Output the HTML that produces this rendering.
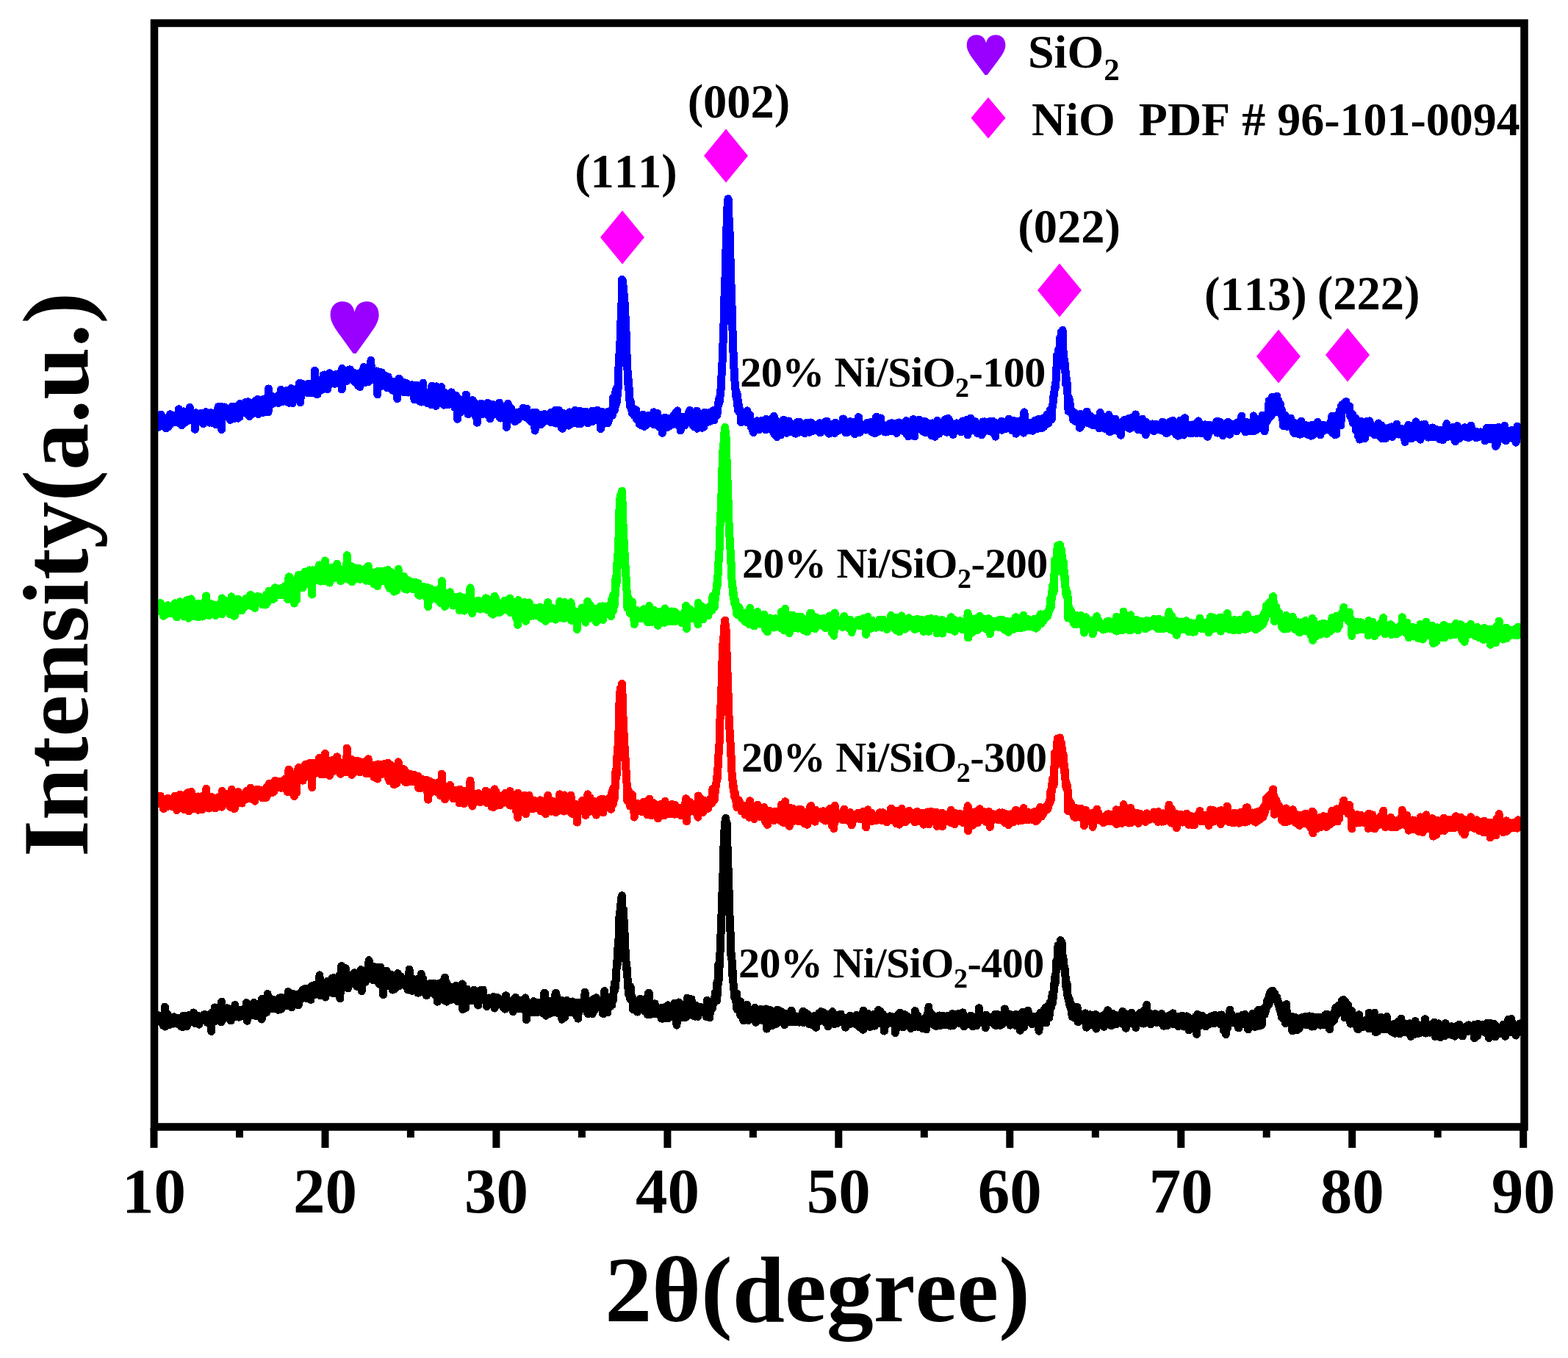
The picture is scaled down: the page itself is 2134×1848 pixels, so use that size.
<!DOCTYPE html>
<html><head><meta charset="utf-8"><title>XRD</title><style>html,body{margin:0;padding:0;background:#fff;}svg{display:block;} text{font-kerning:none;font-feature-settings:"kern" 0;}</style></head><body>
<svg width="2134" height="1848" viewBox="0 0 2134 1848" font-family="'Liberation Serif','Times New Roman',serif" font-weight="bold">
<rect width="2134" height="1848" fill="#fff"/>
<path d="M215.0 574.1l.466 7.2 .466 -11.4 .466 11.1 .466 -8.8 .466 1.0 .466 3.8 .466 -4.1 .466 0.9 .466 -9.6 .466 11.4 .466 -2.0 .466 -1.7 .466 4.1 .466 -4.4 .466 1.2 .466 -4.0 .466 3.5 .466 -2.3 .466 0.8 .466 4.2 .466 -4.1 .466 1.7 .466 10.4 .466 -2.2 .466 -6.4 .466 -1.7 .466 -2.2 .466 -1.8 .466 12.6 .466 -9.0 .466 -4.8 .466 5.5 .466 1.6 .466 -1.8 .466 4.9 .466 -14.0 .466 8.3 .466 -0.5 .466 -6.5 .466 7.7 .466 2.8 .466 -3.3 .466 -2.8 .466 5.7 .466 -3.7 .466 -0.0 .466 2.1 .466 -6.2 .466 7.1 .466 -1.8 .466 1.2 .466 -5.9 .466 6.0 .466 -6.1 .466 -2.8 .466 9.8 .466 0.1 .466 0.3 .466 -4.8 .466 -1.8 .466 -11.9 .466 14.9 .466 0.7 .466 1.7 .466 -5.6 .466 -0.9 .466 3.7 .466 2.0 .466 5.4 .466 -12.5 .466 3.8 .466 5.1 .466 -5.7 .466 1.2 .466 -10.6 .466 11.2 .466 4.5 .466 -2.5 .466 1.3 .466 -3.6 .466 -3.6 .466 4.7 .466 -5.3 .466 6.3 .466 -10.4 .466 10.2 .466 -7.1 .466 2.6 .466 -0.6 .466 3.0 .466 -5.0 .466 2.6 .466 -13.9 .466 12.5 .466 1.5 .466 -4.6 .466 6.1 .466 -2.0 .466 2.8 .466 -0.8 .466 -1.7 .466 4.8 .466 -3.4 .466 2.1 .466 -4.5 .466 1.6 .466 -3.5 .466 19.1 .466 -18.4 .466 0.1 .466 -4.2 .466 4.1 .466 4.6 .466 -0.8 .466 -6.2 .466 3.5 .466 0.3 .466 1.9 .466 -1.7 .466 0.9 .466 3.1 .466 -1.8 .466 -3.1 .466 0.6 .466 -0.7 .466 -4.0 .466 2.0 .466 1.0 .466 0.3 .466 -0.0 .466 2.0 .466 8.9 .466 -6.9 .466 0.2 .466 -0.5 .466 -1.7 .466 5.2 .466 -4.5 .466 -1.6 .466 -6.2 .466 6.1 .466 -2.9 .466 -1.6 .466 4.4 .466 2.7 .466 -4.6 .466 4.3 .466 -2.4 .466 -4.3 .466 12.8 .466 -9.6 .466 -1.0 .466 5.6 .466 -8.6 .466 6.6 .466 -5.4 .466 2.4 .466 -1.8 .466 6.4 .466 -4.7 .466 10.7 .466 -9.1 .466 0.7 .466 -1.6 .466 -1.8 .466 0.8 .466 7.8 .466 -10.2 .466 15.5 .466 -10.1 .466 -3.6 .466 2.1 .466 -2.1 .466 -0.0 .466 0.9 .466 -11.5 .466 11.3 .466 9.6 .466 -11.6 .466 4.1 .466 -2.7 .466 -2.6 .466 8.4 .466 -17.0 .466 9.6 .466 21.8 .466 -22.4 .466 6.1 .466 -3.3 .466 2.4 .466 -2.3 .466 -2.1 .466 3.5 .466 -12.5 .466 9.5 .466 -0.7 .466 0.7 .466 -4.5 .466 1.8 .466 3.1 .466 -1.3 .466 3.7 .466 -2.2 .466 3.4 .466 -2.3 .466 -1.4 .466 -2.7 .466 4.6 .466 -5.2 .466 -4.2 .466 15.2 .466 -8.6 .466 2.3 .466 -2.6 .466 0.6 .466 -10.1 .466 5.7 .466 4.8 .466 -1.0 .466 -4.6 .466 11.9 .466 -12.1 .466 4.0 .466 -4.4 .466 6.1 .466 -4.1 .466 -2.5 .466 -3.8 .466 4.5 .466 0.2 .466 3.5 .466 -0.7 .466 8.7 .466 -0.3 .466 -5.2 .466 -1.8 .466 2.5 .466 3.1 .466 -18.0 .466 5.6 .466 3.8 .466 -4.7 .466 6.4 .466 -3.1 .466 -0.1 .466 0.2 .466 -3.8 .466 7.8 .466 -1.1 .466 -0.5 .466 -10.3 .466 8.7 .466 2.1 .466 -5.8 .466 3.0 .466 -10.4 .466 4.8 .466 3.3 .466 2.2 .466 0.3 .466 5.2 .466 -6.8 .466 -9.5 .466 14.6 .466 -11.1 .466 1.3 .466 14.9 .466 -6.8 .466 -3.9 .466 -3.4 .466 3.6 .466 -0.6 .466 6.1 .466 -5.6 .466 -5.8 .466 13.0 .466 -5.9 .466 -6.2 .466 -0.3 .466 4.9 .466 -5.8 .466 6.9 .466 -0.3 .466 -10.8 .466 13.0 .466 -0.5 .466 3.1 .466 -5.0 .466 0.1 .466 -5.8 .466 -7.0 .466 3.4 .466 16.5 .466 -8.4 .466 6.6 .466 -9.4 .466 3.6 .466 -10.0 .466 3.2 .466 1.6 .466 2.3 .466 -0.1 .466 -0.6 .466 -0.8 .466 1.0 .466 9.0 .466 -10.3 .466 4.2 .466 -12.2 .466 6.8 .466 1.2 .466 0.3 .466 -3.7 .466 1.5 .466 8.7 .466 -7.1 .466 -0.8 .466 -8.3 .466 -1.0 .466 4.8 .466 -1.7 .466 17.0 .466 -31.8 .466 17.7 .466 -7.0 .466 8.9 .466 -10.2 .466 1.2 .466 0.4 .466 4.2 .466 2.7 .466 2.6 .466 -6.0 .466 -0.0 .466 5.8 .466 -1.6 .466 -7.9 .466 8.4 .466 0.3 .466 -8.1 .466 4.7 .466 -4.8 .466 0.6 .466 2.4 .466 0.0 .466 -0.5 .466 0.2 .466 -3.7 .466 6.0 .466 -5.5 .466 8.6 .466 -6.7 .466 -2.2 .466 -2.3 .466 3.7 .466 -1.2 .466 1.9 .466 -1.2 .466 -10.2 .466 13.9 .466 -13.0 .466 12.5 .466 -0.5 .466 3.3 .466 -5.9 .466 -6.1 .466 3.7 .466 -0.2 .466 1.5 .466 -2.4 .466 2.5 .466 -5.3 .466 1.9 .466 1.5 .466 -1.1 .466 -5.0 .466 15.6 .466 -8.6 .466 2.2 .466 -5.7 .466 9.7 .466 -4.9 .466 8.4 .466 -16.1 .466 3.2 .466 -0.9 .466 1.8 .466 -3.8 .466 -3.7 .466 5.9 .466 1.3 .466 -2.4 .466 15.2 .466 -15.3 .466 -1.3 .466 5.7 .466 -4.3 .466 -2.2 .466 0.1 .466 10.8 .466 1.2 .466 -8.9 .466 -3.8 .466 4.3 .466 -5.5 .466 1.4 .466 1.9 .466 -1.3 .466 -0.6 .466 12.9 .466 -16.1 .466 5.2 .466 -11.3 .466 3.3 .466 3.2 .466 19.5 .466 -14.0 .466 2.8 .466 -14.6 .466 10.9 .466 -2.5 .466 -0.3 .466 2.7 .466 -4.1 .466 1.9 .466 -2.8 .466 1.5 .466 1.1 .466 -5.0 .466 2.1 .466 1.5 .466 0.4 .466 3.7 .466 -2.4 .466 -0.9 .466 4.7 .466 -9.2 .466 -2.7 .466 5.2 .466 -4.3 .466 5.5 .466 0.1 .466 -6.1 .466 7.5 .466 -1.9 .466 -1.3 .466 7.8 .466 -2.3 .466 -8.4 .466 -1.3 .466 11.5 .466 -11.9 .466 7.4 .466 -4.9 .466 0.5 .466 1.7 .466 7.1 .466 -30.0 .466 17.6 .466 6.7 .466 -3.4 .466 -1.4 .466 12.7 .466 -13.2 .466 4.7 .466 8.3 .466 -7.7 .466 -1.0 .466 0.1 .466 1.3 .466 -6.4 .466 3.6 .466 2.4 .466 2.2 .466 0.6 .466 -0.2 .466 -13.5 .466 5.4 .466 0.6 .466 6.5 .466 -7.1 .466 -2.0 .466 -10.7 .466 10.8 .466 5.4 .466 -16.6 .466 8.5 .466 2.4 .466 2.0 .466 -1.7 .466 7.0 .466 -9.7 .466 3.9 .466 2.6 .466 4.5 .466 -2.6 .466 -11.3 .466 8.8 .466 -2.1 .466 -2.8 .466 -11.8 .466 7.5 .466 7.1 .466 -10.5 .466 5.2 .466 -1.2 .466 5.4 .466 -4.5 .466 -6.2 .466 5.8 .466 -0.8 .466 3.8 .466 -4.5 .466 3.7 .466 -2.0 .466 5.7 .466 -3.9 .466 -3.8 .466 0.5 .466 -0.4 .466 5.8 .466 -11.4 .466 4.5 .466 0.7 .466 -1.0 .466 1.3 .466 -1.2 .466 -1.0 .466 2.7 .466 -4.0 .466 2.7 .466 1.4 .466 -8.4 .466 3.8 .466 11.1 .466 2.0 .466 6.3 .466 -28.4 .466 15.0 .466 4.1 .466 -1.8 .466 -4.6 .466 -0.5 .466 0.5 .466 -1.8 .466 3.0 .466 -3.7 .466 -3.4 .466 -3.8 .466 14.3 .466 -4.2 .466 -7.5 .466 8.8 .466 -6.6 .466 3.5 .466 -2.8 .466 -2.2 .466 -0.9 .466 -3.9 .466 0.2 .466 -0.3 .466 1.1 .466 12.0 .466 -4.6 .466 -6.0 .466 6.0 .466 0.2 .466 -0.5 .466 -3.7 .466 3.1 .466 6.4 .466 -6.9 .466 1.1 .466 8.4 .466 -11.7 .466 5.8 .466 -2.7 .466 3.8 .466 -5.1 .466 1.8 .466 -1.7 .466 6.9 .466 2.0 .466 -6.3 .466 12.7 .466 -11.4 .466 2.0 .466 2.0 .466 -9.2 .466 18.1 .466 -16.6 .466 1.0 .466 -4.3 .466 8.8 .466 -6.1 .466 3.7 .466 -5.6 .466 2.1 .466 0.4 .466 -2.1 .466 -8.2 .466 14.7 .466 6.6 .466 -13.3 .466 -1.4 .466 3.3 .466 -6.1 .466 9.2 .466 -2.8 .466 1.9 .466 6.6 .466 -1.7 .466 2.5 .466 0.8 .466 -7.8 .466 -0.9 .466 -11.0 .466 4.3 .466 7.0 .466 5.1 .466 -5.9 .466 -20.3 .466 17.3 .466 6.8 .466 -8.0 .466 1.0 .466 1.6 .466 3.5 .466 3.7 .466 -8.2 .466 4.5 .466 -0.7 .466 -0.7 .466 1.2 .466 3.6 .466 -7.8 .466 3.6 .466 -6.9 .466 7.1 .466 3.6 .466 21.3 .466 -25.1 .466 -2.0 .466 3.0 .466 -1.9 .466 -4.8 .466 6.5 .466 3.8 .466 2.7 .466 7.0 .466 -14.4 .466 -1.5 .466 -3.3 .466 6.1 .466 4.8 .466 -7.0 .466 8.5 .466 -2.5 .466 -6.0 .466 5.4 .466 3.3 .466 4.4 .466 -12.9 .466 9.3 .466 -0.6 .466 -6.1 .466 1.1 .466 12.7 .466 -11.3 .466 -0.6 .466 5.0 .466 -7.7 .466 5.7 .466 -0.9 .466 2.0 .466 0.9 .466 0.7 .466 -1.6 .466 7.0 .466 -1.3 .466 4.0 .466 -8.5 .466 3.3 .466 -2.9 .466 -1.5 .466 4.2 .466 7.8 .466 -5.0 .466 -5.9 .466 -0.7 .466 6.6 .466 -0.8 .466 3.3 .466 -10.1 .466 10.4 .466 -5.6 .466 -1.7 .466 1.1 .466 19.3 .466 -7.6 .466 -16.9 .466 5.6 .466 4.3 .466 -12.9 .466 0.3 .466 1.0 .466 15.3 .466 -6.8 .466 -0.1 .466 5.6 .466 -5.2 .466 4.5 .466 -3.6 .466 -0.8 .466 1.3 .466 -3.2 .466 -3.1 .466 13.2 .466 0.0 .466 -5.5 .466 2.4 .466 3.4 .466 -6.0 .466 3.3 .466 0.8 .466 -10.1 .466 2.4 .466 8.1 .466 -0.5 .466 -6.0 .466 8.3 .466 -0.4 .466 -5.1 .466 0.2 .466 -4.3 .466 5.7 .466 -5.4 .466 6.5 .466 0.9 .466 -0.2 .466 -8.3 .466 8.9 .466 1.9 .466 -7.6 .466 5.9 .466 3.4 .466 -7.6 .466 10.8 .466 4.5 .466 -9.0 .466 3.4 .466 -7.6 .466 4.1 .466 6.1 .466 -16.8 .466 13.6 .466 -6.8 .466 6.7 .466 -2.1 .466 2.4 .466 -4.3 .466 0.6 .466 8.0 .466 -14.8 .466 3.2 .466 16.0 .466 -4.4 .466 -11.4 .466 16.3 .466 -13.7 .466 8.6 .466 0.6 .466 -18.0 .466 -3.3 .466 13.7 .466 9.5 .466 -4.2 .466 -4.2 .466 6.0 .466 -6.6 .466 0.6 .466 -2.1 .466 13.5 .466 -5.9 .466 -3.8 .466 -2.0 .466 12.9 .466 -11.0 .466 -2.3 .466 2.8 .466 3.0 .466 0.9 .466 -8.7 .466 14.5 .466 -6.7 .466 -9.5 .466 12.4 .466 6.8 .466 -6.6 .466 -19.1 .466 14.9 .466 1.0 .466 5.1 .466 -5.5 .466 -7.0 .466 14.8 .466 1.4 .466 -8.9 .466 -8.2 .466 12.9 .466 -1.7 .466 8.4 .466 -26.6 .466 15.5 .466 -1.5 .466 -3.5 .466 8.3 .466 -3.7 .466 -8.1 .466 4.8 .466 8.6 .466 -2.5 .466 -4.0 .466 5.2 .466 -6.8 .466 6.7 .466 -0.1 .466 -18.1 .466 17.1 .466 2.2 .466 0.6 .466 -0.6 .466 3.6 .466 -2.7 .466 4.4 .466 -7.5 .466 -9.3 .466 6.4 .466 1.8 .466 -7.1 .466 3.7 .466 5.9 .466 -2.5 .466 0.5 .466 4.7 .466 2.2 .466 0.3 .466 -5.8 .466 3.3 .466 2.6 .466 -8.9 .466 1.2 .466 4.8 .466 -3.6 .466 -1.1 .466 2.5 .466 -11.5 .466 12.4 .466 -8.1 .466 6.1 .466 -0.3 .466 1.6 .466 -3.4 .466 5.0 .466 2.0 .466 -3.1 .466 8.7 .466 -2.4 .466 -6.3 .466 -7.5 .466 12.3 .466 -5.4 .466 1.3 .466 2.2 .466 21.4 .466 -23.7 .466 1.7 .466 1.4 .466 0.7 .466 -4.7 .466 4.0 .466 -0.3 .466 1.1 .466 -6.6 .466 0.4 .466 16.1 .466 -7.1 .466 0.2 .466 3.6 .466 2.0 .466 -10.0 .466 3.5 .466 -1.3 .466 -0.6 .466 1.2 .466 -3.1 .466 6.4 .466 -5.3 .466 -3.6 .466 -9.3 .466 15.1 .466 -3.9 .466 11.7 .466 -12.1 .466 1.8 .466 14.2 .466 -12.2 .466 6.7 .466 -3.7 .466 -8.0 .466 2.2 .466 2.2 .466 6.2 .466 -6.5 .466 1.2 .466 0.3 .466 -1.3 .466 4.7 .466 -10.9 .466 5.2 .466 6.7 .466 -2.8 .466 -0.7 .466 -1.1 .466 -3.6 .466 4.5 .466 13.5 .466 -12.2 .466 -0.1 .466 13.5 .466 -8.6 .466 16.2 .466 -12.8 .466 -6.9 .466 -3.1 .466 2.9 .466 -2.3 .466 4.8 .466 -7.9 .466 4.4 .466 4.4 .466 -4.3 .466 1.2 .466 -6.4 .466 3.8 .466 10.6 .466 -7.1 .466 -2.3 .466 1.3 .466 2.8 .466 0.3 .466 0.8 .466 -5.6 .466 -0.6 .466 3.9 .466 -0.9 .466 0.4 .466 -3.4 .466 1.5 .466 4.1 .466 -3.5 .466 3.8 .466 -10.8 .466 16.6 .466 -11.2 .466 3.0 .466 6.7 .466 -8.7 .466 -0.3 .466 15.3 .466 -6.6 .466 -5.5 .466 -7.5 .466 8.3 .466 -3.2 .466 -0.4 .466 10.0 .466 -6.0 .466 -1.2 .466 -6.8 .466 6.3 .466 5.6 .466 -6.2 .466 0.3 .466 2.5 .466 -3.2 .466 2.9 .466 2.4 .466 -4.6 .466 1.8 .466 0.9 .466 -1.6 .466 -1.6 .466 -2.3 .466 5.7 .466 6.8 .466 -18.5 .466 16.0 .466 4.4 .466 -8.5 .466 9.2 .466 -7.6 .466 -1.4 .466 -0.5 .466 0.1 .466 1.8 .466 -4.1 .466 4.7 .466 -2.0 .466 1.6 .466 6.0 .466 -9.9 .466 1.9 .466 -1.2 .466 -5.6 .466 8.7 .466 0.2 .466 19.6 .466 -19.7 .466 -1.5 .466 6.4 .466 -17.4 .466 10.2 .466 4.2 .466 -6.2 .466 2.9 .466 5.2 .466 -5.3 .466 -1.1 .466 7.7 .466 -11.5 .466 10.8 .466 -5.8 .466 -1.4 .466 3.0 .466 0.0 .466 9.3 .466 -6.6 .466 -2.6 .466 0.8 .466 -1.9 .466 13.0 .466 -12.2 .466 5.9 .466 -3.7 .466 4.9 .466 -7.2 .466 0.7 .466 -0.4 .466 4.7 .466 4.5 .466 -4.4 .466 -3.8 .466 4.0 .466 -1.5 .466 -1.9 .466 -3.4 .466 0.9 .466 4.4 .466 -4.8 .466 3.6 .466 2.8 .466 -1.9 .466 -0.3 .466 -3.0 .466 -2.5 .466 -4.2 .466 1.1 .466 5.5 .466 3.0 .466 -0.9 .466 -2.4 .466 1.4 .466 1.5 .466 3.4 .466 -1.7 .466 -9.6 .466 8.3 .466 -3.1 .466 7.5 .466 0.8 .466 -4.5 .466 1.9 .466 -0.6 .466 1.9 .466 -5.3 .466 -0.5 .466 4.9 .466 6.1 .466 -10.9 .466 3.2 .466 -0.1 .466 -1.3 .466 3.4 .466 -6.7 .466 3.5 .466 0.5 .466 8.5 .466 -6.3 .466 0.3 .466 18.2 .466 -22.5 .466 3.4 .466 -5.8 .466 1.4 .466 5.5 .466 1.9 .466 -2.4 .466 -0.4 .466 2.3 .466 5.3 .466 -1.8 .466 -3.0 .466 -3.7 .466 3.1 .466 -5.0 .466 8.0 .466 -7.3 .466 12.7 .466 -12.4 .466 -0.4 .466 0.9 .466 1.3 .466 -2.9 .466 0.9 .466 7.0 .466 1.8 .466 -10.4 .466 3.5 .466 -0.1 .466 4.1 .466 -2.2 .466 -1.9 .466 3.6 .466 -2.1 .466 -3.6 .466 5.8 .466 -3.1 .466 5.2 .466 -3.5 .466 -5.3 .466 6.4 .466 -1.8 .466 -0.2 .466 -0.8 .466 1.9 .466 -8.1 .466 6.9 .466 6.7 .466 -9.6 .466 -1.3 .466 3.6 .466 0.8 .466 -1.0 .466 0.8 .466 1.6 .466 1.5 .466 -10.3 .466 6.6 .466 1.8 .466 -11.3 .466 17.9 .466 -6.4 .466 -1.1 .466 -0.3 .466 -3.6 .466 -2.6 .466 8.1 .466 4.8 .466 -3.3 .466 -13.2 .466 2.0 .466 8.5 .466 0.4 .466 0.3 .466 3.8 .466 0.6 .466 7.4 .466 -13.8 .466 1.1 .466 14.5 .466 -12.6 .466 -8.7 .466 12.7 .466 -4.7 .466 -4.0 .466 1.9 .466 1.8 .466 0.6 .466 -1.8 .466 2.9 .466 -2.0 .466 9.6 .466 -5.8 .466 -7.9 .466 -1.2 .466 9.2 .466 -3.2 .466 9.1 .466 -10.4 .466 -2.8 .466 -5.2 .466 11.0 .466 -8.3 .466 7.0 .466 -0.7 .466 1.7 .466 5.0 .466 -9.6 .466 2.4 .466 2.4 .466 -5.2 .466 -2.6 .466 1.3 .466 10.7 .466 -3.6 .466 -5.8 .466 -8.3 .466 12.3 .466 -2.5 .466 -1.1 .466 -0.4 .466 2.8 .466 -1.0 .466 8.1 .466 -6.4 .466 4.8 .466 0.9 .466 -0.9 .466 -5.3 .466 0.6 .466 -0.3 .466 -10.7 .466 17.8 .466 -11.2 .466 4.2 .466 1.2 .466 1.3 .466 -2.5 .466 0.8 .466 2.4 .466 -2.4 .466 0.2 .466 2.7 .466 -10.3 .466 6.4 .466 -9.7 .466 5.7 .466 -5.4 .466 13.6 .466 -5.7 .466 1.5 .466 2.7 .466 -1.2 .466 4.6 .466 -6.3 .466 1.8 .466 2.6 .466 -9.3 .466 4.8 .466 -5.5 .466 6.1 .466 -1.9 .466 5.2 .466 -3.9 .466 -3.5 .466 8.1 .466 -5.0 .466 -10.0 .466 8.5 .466 1.2 .466 -8.8 .466 5.4 .466 2.5 .466 0.4 .466 0.8 .466 -1.2 .466 0.2 .466 1.2 .466 -1.0 .466 3.4 .466 0.5 .466 -13.7 .466 7.2 .466 -1.5 .466 4.0 .466 0.0 .466 3.4 .466 -0.3 .466 2.7 .466 -3.3 .466 -0.9 .466 14.0 .466 -13.6 .466 -2.0 .466 -0.9 .466 -7.0 .466 15.7 .466 -4.9 .466 -3.3 .466 5.4 .466 -2.2 .466 -2.7 .466 8.1 .466 -3.0 .466 -5.6 .466 -0.2 .466 -3.5 .466 -1.4 .466 3.9 .466 -1.8 .466 -3.9 .466 8.5 .466 6.2 .466 -7.1 .466 3.9 .466 -1.4 .466 -3.5 .466 -1.3 .466 -1.5 .466 0.8 .466 -1.8 .466 -2.4 .466 3.1 .466 1.0 .466 -1.2 .466 1.1 .466 -4.2 .466 -19.8 .466 16.8 .466 0.2 .466 1.2 .466 -2.5 .466 0.8 .466 -5.9 .466 0.6 .466 -21.8 .466 18.5 .466 -0.1 .466 -4.1 .466 -4.0 .466 -14.4 .466 11.0 .466 -19.9 .466 -12.5 .466 -12.0 .466 -10.8 .466 0.1 .466 -11.0 .466 -8.9 .466 -14.0 .466 -13.4 .466 -17.0 .466 -2.3 .466 -35.3 .466 17.2 .466 -12.3 .466 -2.7 .466 13.8 .466 4.5 .466 -0.5 .466 1.6 .466 13.3 .466 9.5 .466 6.5 .466 15.2 .466 5.0 .466 35.5 .466 -6.5 .466 12.5 .466 7.4 .466 13.1 .466 6.7 .466 9.2 .466 -11.9 .466 16.6 .466 8.7 .466 3.6 .466 6.5 .466 -7.7 .466 7.9 .466 2.3 .466 2.5 .466 0.1 .466 4.6 .466 -6.5 .466 -0.9 .466 6.3 .466 -3.5 .466 5.6 .466 1.9 .466 -6.0 .466 6.1 .466 1.1 .466 0.4 .466 -9.4 .466 12.3 .466 -0.4 .466 -3.4 .466 1.8 .466 2.6 .466 1.7 .466 -5.7 .466 5.0 .466 -2.9 .466 8.5 .466 -3.0 .466 -5.5 .466 0.2 .466 1.1 .466 8.5 .466 -12.2 .466 4.5 .466 0.9 .466 0.9 .466 -8.3 .466 7.3 .466 -0.9 .466 -0.9 .466 10.5 .466 -14.0 .466 6.8 .466 -4.6 .466 10.3 .466 -7.2 .466 -0.3 .466 -1.9 .466 2.6 .466 4.0 .466 -10.4 .466 7.5 .466 -5.1 .466 1.5 .466 6.5 .466 -10.1 .466 8.3 .466 -8.9 .466 7.0 .466 0.9 .466 -4.8 .466 6.9 .466 -5.5 .466 2.5 .466 -2.2 .466 4.8 .466 -4.6 .466 0.2 .466 -9.8 .466 17.1 .466 -13.8 .466 7.2 .466 2.6 .466 -2.4 .466 2.0 .466 -1.6 .466 5.6 .466 -8.2 .466 -6.9 .466 5.4 .466 5.3 .466 0.6 .466 2.8 .466 4.2 .466 -8.3 .466 4.0 .466 -4.0 .466 -0.3 .466 -3.2 .466 8.5 .466 -5.5 .466 2.4 .466 -1.0 .466 16.0 .466 -18.2 .466 2.5 .466 2.4 .466 -5.8 .466 6.4 .466 -3.0 .466 -5.4 .466 13.8 .466 -9.3 .466 0.4 .466 2.9 .466 5.7 .466 -10.7 .466 -1.8 .466 6.3 .466 -0.8 .466 -1.7 .466 1.5 .466 5.8 .466 -3.3 .466 -3.2 .466 5.0 .466 0.1 .466 -3.0 .466 -7.1 .466 5.0 .466 0.4 .466 3.7 .466 -4.4 .466 0.7 .466 1.0 .466 -7.5 .466 -1.3 .466 -1.9 .466 4.0 .466 2.8 .466 -5.3 .466 8.1 .466 -0.2 .466 -0.8 .466 -12.5 .466 12.9 .466 -4.5 .466 -10.2 .466 17.5 .466 2.6 .466 -11.7 .466 7.4 .466 -8.3 .466 7.7 .466 0.3 .466 -0.3 .466 11.9 .466 -11.7 .466 -4.3 .466 9.9 .466 -8.1 .466 1.9 .466 -0.7 .466 3.5 .466 -8.8 .466 4.7 .466 0.6 .466 1.1 .466 4.7 .466 -7.0 .466 0.4 .466 2.5 .466 -4.1 .466 2.8 .466 -1.5 .466 2.3 .466 -0.3 .466 0.9 .466 -2.0 .466 -1.9 .466 -8.9 .466 12.0 .466 -3.3 .466 -12.3 .466 13.9 .466 -1.0 .466 3.3 .466 -3.1 .466 0.6 .466 2.9 .466 -0.5 .466 -5.1 .466 4.3 .466 5.7 .466 -0.9 .466 -1.7 .466 -5.7 .466 9.9 .466 -11.0 .466 2.2 .466 -4.1 .466 5.1 .466 1.4 .466 -0.4 .466 -15.1 .466 24.3 .466 -12.3 .466 3.6 .466 4.0 .466 -3.6 .466 -2.5 .466 0.0 .466 -4.3 .466 3.1 .466 4.1 .466 -1.9 .466 -0.2 .466 0.1 .466 -2.7 .466 11.5 .466 -11.8 .466 -1.9 .466 4.4 .466 -4.9 .466 13.1 .466 -9.3 .466 -5.2 .466 -5.4 .466 10.5 .466 -8.8 .466 0.6 .466 6.5 .466 0.1 .466 3.7 .466 -8.0 .466 8.6 .466 -5.2 .466 4.5 .466 -8.0 .466 -4.0 .466 7.0 .466 -2.5 .466 2.4 .466 3.3 .466 1.2 .466 -10.9 .466 3.3 .466 0.3 .466 -2.2 .466 2.9 .466 -7.6 .466 4.0 .466 -4.1 .466 6.0 .466 7.0 .466 -11.7 .466 8.5 .466 -7.2 .466 3.2 .466 0.9 .466 -3.9 .466 0.3 .466 -2.0 .466 4.7 .466 -5.3 .466 -5.0 .466 -3.0 .466 -4.2 .466 2.0 .466 -5.7 .466 -3.0 .466 4.8 .466 -7.7 .466 -6.5 .466 -1.2 .466 -10.9 .466 -8.6 .466 -5.2 .466 -10.2 .466 -15.6 .466 -9.5 .466 -9.9 .466 -18.1 .466 -2.2 .466 -35.6 .466 2.0 .466 -8.1 .466 -30.9 .466 -22.1 .466 -7.5 .466 -20.2 .466 -10.1 .466 -15.7 .466 -9.9 .466 10.5 .466 -21.5 .466 1.3 .466 20.4 .466 9.2 .466 5.9 .466 15.0 .466 19.2 .466 15.2 .466 17.6 .466 14.5 .466 32.6 .466 -5.1 .466 22.4 .466 8.7 .466 15.5 .466 11.7 .466 18.4 .466 5.9 .466 6.4 .466 10.0 .466 6.4 .466 6.8 .466 2.0 .466 6.4 .466 4.8 .466 -2.9 .466 -3.4 .466 16.3 .466 -1.7 .466 8.3 .466 -12.1 .466 9.1 .466 5.1 .466 -4.5 .466 5.0 .466 -0.2 .466 0.4 .466 0.3 .466 13.5 .466 -11.1 .466 -2.7 .466 11.2 .466 -9.2 .466 6.4 .466 -0.4 .466 1.1 .466 1.1 .466 -5.6 .466 -4.8 .466 8.4 .466 0.4 .466 -1.8 .466 5.9 .466 -7.8 .466 5.2 .466 0.4 .466 -12.7 .466 16.1 .466 -3.9 .466 1.0 .466 -3.2 .466 3.1 .466 0.6 .466 1.2 .466 -8.9 .466 8.1 .466 0.5 .466 7.7 .466 -6.6 .466 0.9 .466 -1.7 .466 0.5 .466 10.8 .466 -11.1 .466 14.6 .466 -13.0 .466 5.0 .466 -5.0 .466 2.8 .466 0.2 .466 -4.0 .466 -0.4 .466 8.0 .466 -7.8 .466 4.0 .466 -5.7 .466 3.2 .466 -0.7 .466 -0.9 .466 -0.4 .466 10.8 .466 -7.0 .466 -1.4 .466 0.8 .466 3.2 .466 -2.2 .466 -5.5 .466 1.6 .466 7.5 .466 -4.3 .466 0.3 .466 -4.0 .466 -0.5 .466 1.5 .466 1.4 .466 1.7 .466 -1.2 .466 2.3 .466 -1.7 .466 0.6 .466 7.2 .466 -14.8 .466 8.7 .466 1.0 .466 -5.1 .466 7.2 .466 -8.2 .466 7.3 .466 -5.8 .466 2.5 .466 -0.2 .466 1.3 .466 0.5 .466 -8.6 .466 10.8 .466 -2.8 .466 5.4 .466 -8.8 .466 3.0 .466 7.8 .466 -6.4 .466 -0.9 .466 -0.2 .466 5.7 .466 -18.2 .466 25.0 .466 -12.3 .466 3.4 .466 -3.2 .466 3.4 .466 -8.2 .466 4.5 .466 3.0 .466 12.7 .466 -15.0 .466 -5.8 .466 7.9 .466 -0.9 .466 -4.8 .466 1.1 .466 2.7 .466 -3.3 .466 8.8 .466 6.8 .466 -10.0 .466 1.5 .466 -4.8 .466 -3.4 .466 6.6 .466 0.8 .466 -1.1 .466 -4.6 .466 -5.8 .466 9.3 .466 -3.9 .466 2.0 .466 1.5 .466 -1.9 .466 8.3 .466 -7.5 .466 1.8 .466 8.5 .466 -7.6 .466 -2.0 .466 3.0 .466 -5.0 .466 -1.9 .466 -2.9 .466 9.0 .466 -0.1 .466 0.2 .466 0.0 .466 -0.7 .466 6.0 .466 -6.7 .466 -4.0 .466 2.2 .466 1.5 .466 1.4 .466 -1.8 .466 0.6 .466 -1.1 .466 3.4 .466 1.8 .466 -4.7 .466 4.0 .466 -5.6 .466 11.9 .466 -10.1 .466 2.2 .466 -0.4 .466 -6.2 .466 6.1 .466 -7.7 .466 7.1 .466 0.3 .466 6.9 .466 -10.1 .466 -4.0 .466 7.9 .466 -2.3 .466 1.8 .466 -2.3 .466 3.4 .466 -5.6 .466 4.3 .466 2.3 .466 2.3 .466 -5.9 .466 1.6 .466 6.8 .466 -11.0 .466 7.1 .466 -1.3 .466 6.2 .466 -8.1 .466 -0.3 .466 0.6 .466 -1.2 .466 -5.5 .466 6.9 .466 -1.2 .466 0.8 .466 1.5 .466 -2.2 .466 -2.7 .466 6.6 .466 3.4 .466 -8.9 .466 3.0 .466 -1.6 .466 2.4 .466 -8.2 .466 12.2 .466 -1.8 .466 -7.6 .466 4.9 .466 -2.2 .466 -1.4 .466 6.2 .466 -1.5 .466 -1.6 .466 0.3 .466 3.3 .466 -5.2 .466 1.1 .466 -2.3 .466 2.0 .466 -2.9 .466 2.1 .466 2.2 .466 -2.8 .466 2.8 .466 1.7 .466 -1.9 .466 -1.0 .466 -0.6 .466 -5.1 .466 8.1 .466 5.0 .466 -9.4 .466 3.7 .466 -0.8 .466 2.2 .466 -1.6 .466 -4.2 .466 -1.1 .466 2.8 .466 -1.8 .466 3.7 .466 -6.0 .466 6.6 .466 1.2 .466 -10.0 .466 12.0 .466 -1.4 .466 -10.5 .466 7.7 .466 -9.0 .466 8.5 .466 -5.3 .466 6.0 .466 -6.1 .466 0.4 .466 13.7 .466 -5.6 .466 -1.6 .466 1.3 .466 -5.2 .466 -2.1 .466 3.4 .466 3.5 .466 -0.1 .466 -0.4 .466 -2.2 .466 0.6 .466 1.9 .466 -1.4 .466 -3.1 .466 2.3 .466 6.3 .466 1.6 .466 -13.3 .466 1.3 .466 -2.2 .466 6.5 .466 4.8 .466 -4.7 .466 -1.3 .466 5.5 .466 -6.5 .466 2.5 .466 4.1 .466 -0.3 .466 -8.1 .466 2.5 .466 0.9 .466 3.0 .466 -1.0 .466 -1.2 .466 -1.0 .466 -0.9 .466 2.3 .466 2.2 .466 -3.9 .466 -0.6 .466 -10.1 .466 7.3 .466 0.5 .466 3.6 .466 2.8 .466 -3.0 .466 -3.1 .466 0.4 .466 10.4 .466 -6.3 .466 -2.4 .466 5.1 .466 3.3 .466 -6.5 .466 -0.6 .466 -0.5 .466 -0.1 .466 4.8 .466 -2.2 .466 3.5 .466 -13.4 .466 4.2 .466 4.2 .466 0.4 .466 -1.0 .466 0.5 .466 4.8 .466 -4.5 .466 -2.3 .466 1.9 .466 -1.6 .466 2.5 .466 -0.3 .466 1.0 .466 7.3 .466 -8.9 .466 -7.8 .466 7.8 .466 0.1 .466 2.5 .466 3.2 .466 -9.2 .466 7.9 .466 -7.7 .466 3.8 .466 -14.7 .466 17.6 .466 -4.1 .466 -1.9 .466 9.2 .466 -12.0 .466 4.2 .466 0.9 .466 -1.7 .466 0.9 .466 4.5 .466 -6.3 .466 3.2 .466 -3.0 .466 3.4 .466 -2.9 .466 0.7 .466 1.6 .466 -2.3 .466 3.9 .466 -4.2 .466 5.8 .466 -1.9 .466 -5.6 .466 4.2 .466 -6.2 .466 2.9 .466 1.8 .466 3.0 .466 -0.8 .466 -0.6 .466 -3.3 .466 1.5 .466 3.0 .466 -1.5 .466 -1.2 .466 -4.7 .466 -1.2 .466 12.9 .466 -6.3 .466 5.2 .466 -6.8 .466 2.8 .466 -2.7 .466 6.4 .466 -6.8 .466 2.8 .466 7.8 .466 -6.3 .466 -1.5 .466 -1.3 .466 1.1 .466 -14.7 .466 10.5 .466 2.3 .466 -5.4 .466 4.9 .466 1.7 .466 4.3 .466 1.7 .466 -15.0 .466 9.3 .466 1.6 .466 0.8 .466 -5.6 .466 -9.3 .466 10.6 .466 0.7 .466 -1.5 .466 0.5 .466 3.6 .466 -3.6 .466 -0.5 .466 1.1 .466 1.5 .466 -2.5 .466 2.8 .466 6.3 .466 -3.2 .466 -1.0 .466 4.4 .466 -0.9 .466 -5.2 .466 1.1 .466 -2.5 .466 1.3 .466 5.3 .466 -5.5 .466 -0.6 .466 1.6 .466 -1.3 .466 -4.8 .466 4.2 .466 -3.1 .466 9.2 .466 -3.3 .466 -2.4 .466 -5.5 .466 1.4 .466 2.5 .466 2.1 .466 -4.8 .466 3.7 .466 -2.1 .466 -1.6 .466 0.4 .466 -0.0 .466 7.5 .466 -6.3 .466 -1.5 .466 7.8 .466 4.5 .466 -5.8 .466 -7.7 .466 1.8 .466 0.2 .466 -1.2 .466 4.8 .466 -6.4 .466 9.2 .466 -3.2 .466 -2.3 .466 -2.2 .466 5.5 .466 2.0 .466 -1.9 .466 -2.8 .466 5.0 .466 -2.7 .466 0.5 .466 4.5 .466 -3.8 .466 -5.7 .466 5.9 .466 -3.1 .466 4.2 .466 -2.2 .466 -0.1 .466 -4.1 .466 -5.0 .466 17.8 .466 -17.4 .466 1.6 .466 6.5 .466 6.6 .466 -6.0 .466 12.2 .466 -10.8 .466 1.4 .466 -0.0 .466 3.4 .466 1.9 .466 -9.7 .466 2.9 .466 -1.6 .466 9.5 .466 -8.9 .466 -1.3 .466 -7.5 .466 10.0 .466 -12.9 .466 12.1 .466 -3.0 .466 3.3 .466 11.1 .466 -13.5 .466 1.4 .466 0.0 .466 -3.7 .466 5.3 .466 -0.4 .466 0.8 .466 -4.8 .466 -3.6 .466 5.3 .466 -3.6 .466 2.5 .466 -8.4 .466 9.6 .466 -0.4 .466 -0.3 .466 0.5 .466 -6.8 .466 7.2 .466 1.5 .466 -2.4 .466 1.7 .466 2.4 .466 -2.6 .466 5.6 .466 -3.5 .466 -1.9 .466 -5.8 .466 5.2 .466 -7.9 .466 15.4 .466 -14.5 .466 4.5 .466 -0.4 .466 6.9 .466 1.3 .466 -3.3 .466 1.9 .466 -5.7 .466 6.7 .466 -9.6 .466 3.4 .466 5.3 .466 -2.4 .466 4.6 .466 -2.5 .466 -6.2 .466 2.1 .466 12.0 .466 -9.9 .466 1.1 .466 -8.1 .466 12.6 .466 -6.9 .466 -3.8 .466 4.0 .466 4.9 .466 -5.1 .466 12.6 .466 -7.1 .466 -5.8 .466 8.2 .466 -5.9 .466 -4.3 .466 -2.9 .466 -3.9 .466 8.9 .466 2.0 .466 -6.2 .466 1.3 .466 11.7 .466 -6.1 .466 -4.2 .466 7.9 .466 -6.7 .466 -1.9 .466 0.9 .466 -0.7 .466 3.3 .466 -2.3 .466 1.3 .466 0.4 .466 -0.8 .466 -0.4 .466 -0.7 .466 -1.3 .466 -2.7 .466 6.5 .466 -11.9 .466 12.3 .466 0.2 .466 0.8 .466 -1.9 .466 6.1 .466 -7.9 .466 0.5 .466 -1.4 .466 -10.1 .466 11.4 .466 0.4 .466 -0.3 .466 -7.7 .466 4.5 .466 1.6 .466 1.2 .466 -2.0 .466 1.7 .466 -0.7 .466 -3.0 .466 8.9 .466 -3.5 .466 9.5 .466 -9.6 .466 0.1 .466 -1.7 .466 3.8 .466 -3.1 .466 3.4 .466 -3.4 .466 2.2 .466 -0.8 .466 -1.9 .466 -4.5 .466 2.9 .466 1.9 .466 0.2 .466 -2.4 .466 0.6 .466 0.7 .466 1.6 .466 -5.5 .466 4.5 .466 2.0 .466 2.0 .466 -3.3 .466 6.9 .466 -5.0 .466 0.7 .466 -6.6 .466 4.0 .466 -8.1 .466 9.3 .466 -2.6 .466 5.6 .466 -8.4 .466 -1.7 .466 5.1 .466 -2.8 .466 3.8 .466 -0.7 .466 -8.9 .466 7.1 .466 -1.4 .466 0.4 .466 14.1 .466 -10.4 .466 1.9 .466 -3.2 .466 -2.3 .466 1.8 .466 2.7 .466 -2.1 .466 -11.2 .466 12.2 .466 -0.3 .466 1.3 .466 -10.1 .466 13.2 .466 -4.7 .466 -0.8 .466 -0.7 .466 5.3 .466 -5.5 .466 0.3 .466 6.2 .466 -4.8 .466 -6.9 .466 2.8 .466 6.4 .466 -3.5 .466 -0.2 .466 -0.1 .466 10.4 .466 -8.9 .466 4.9 .466 -2.1 .466 -0.1 .466 -0.1 .466 -4.0 .466 4.7 .466 -3.3 .466 -3.1 .466 1.1 .466 2.3 .466 -0.3 .466 11.1 .466 -10.2 .466 -0.0 .466 -7.7 .466 0.8 .466 4.5 .466 1.2 .466 6.2 .466 -12.7 .466 8.6 .466 -0.9 .466 -3.1 .466 7.7 .466 -6.3 .466 4.2 .466 -5.2 .466 2.2 .466 2.0 .466 1.5 .466 -5.0 .466 -1.6 .466 3.8 .466 -0.2 .466 -8.1 .466 7.8 .466 5.9 .466 -8.7 .466 3.0 .466 4.5 .466 -6.2 .466 3.9 .466 1.7 .466 -11.9 .466 5.4 .466 -0.5 .466 7.3 .466 -4.5 .466 -4.9 .466 3.4 .466 -1.0 .466 15.5 .466 -9.4 .466 -0.6 .466 -8.3 .466 3.8 .466 0.4 .466 -1.0 .466 5.8 .466 -4.7 .466 2.5 .466 -1.7 .466 -1.2 .466 -4.6 .466 9.0 .466 -3.9 .466 -5.8 .466 5.7 .466 -7.1 .466 5.9 .466 6.2 .466 -6.0 .466 -0.1 .466 -0.3 .466 2.0 .466 -0.5 .466 -0.8 .466 4.5 .466 -3.9 .466 3.6 .466 -4.1 .466 -0.4 .466 -2.1 .466 -3.0 .466 6.6 .466 -1.5 .466 -2.8 .466 3.9 .466 1.6 .466 -0.8 .466 -10.9 .466 9.0 .466 2.2 .466 -2.0 .466 0.3 .466 3.0 .466 -6.2 .466 0.3 .466 5.6 .466 3.2 .466 -9.0 .466 -3.2 .466 9.6 .466 -2.6 .466 -2.7 .466 -5.0 .466 7.5 .466 -3.9 .466 8.5 .466 0.1 .466 -3.1 .466 8.4 .466 -11.9 .466 -2.9 .466 5.4 .466 -3.3 .466 3.7 .466 -7.4 .466 4.7 .466 2.3 .466 5.1 .466 -11.7 .466 5.1 .466 7.1 .466 -13.7 .466 6.5 .466 2.4 .466 -2.3 .466 3.9 .466 -4.4 .466 -0.9 .466 -7.7 .466 9.1 .466 9.9 .466 -4.6 .466 -23.7 .466 9.9 .466 1.8 .466 10.4 .466 -4.8 .466 -0.9 .466 3.8 .466 -3.3 .466 0.4 .466 2.3 .466 3.1 .466 -7.9 .466 0.4 .466 -0.1 .466 9.5 .466 -6.4 .466 2.7 .466 -6.2 .466 7.0 .466 -5.7 .466 2.4 .466 -3.4 .466 2.6 .466 2.0 .466 -5.4 .466 11.2 .466 -4.5 .466 -2.1 .466 0.5 .466 -4.0 .466 -3.5 .466 3.8 .466 -2.8 .466 2.8 .466 3.5 .466 -5.8 .466 -2.7 .466 8.8 .466 3.2 .466 -6.9 .466 -2.1 .466 7.1 .466 -11.4 .466 5.5 .466 3.9 .466 -1.1 .466 0.3 .466 -2.6 .466 1.7 .466 -3.4 .466 5.5 .466 -1.5 .466 3.9 .466 -4.6 .466 -0.6 .466 -5.1 .466 3.3 .466 -6.6 .466 11.4 .466 -3.1 .466 -2.9 .466 3.0 .466 0.5 .466 -5.7 .466 2.1 .466 -6.1 .466 -3.5 .466 9.5 .466 -5.8 .466 1.4 .466 -0.0 .466 6.5 .466 -5.3 .466 -3.2 .466 1.9 .466 -6.7 .466 -4.8 .466 2.3 .466 1.5 .466 -3.8 .466 12.7 .466 -14.8 .466 -2.0 .466 -0.6 .466 -4.9 .466 -6.9 .466 -2.6 .466 -0.2 .466 -5.8 .466 -4.6 .466 -1.7 .466 0.9 .466 -2.7 .466 -12.7 .466 -5.9 .466 -12.2 .466 -11.0 .466 11.5 .466 -7.7 .466 -0.2 .466 -10.8 .466 3.6 .466 -4.6 .466 4.5 .466 -6.5 .466 -13.5 .466 5.7 .466 -2.6 .466 -10.4 .466 13.3 .466 15.4 .466 -18.0 .466 -13.3 .466 20.9 .466 7.5 .466 1.8 .466 9.7 .466 -0.6 .466 13.3 .466 -7.1 .466 5.6 .466 21.6 .466 -15.6 .466 15.5 .466 -6.1 .466 6.6 .466 9.6 .466 6.5 .466 0.3 .466 20.7 .466 -2.3 .466 -15.2 .466 6.7 .466 2.3 .466 -1.3 .466 6.8 .466 5.0 .466 -0.9 .466 2.1 .466 -4.0 .466 3.8 .466 -3.0 .466 6.9 .466 4.9 .466 -6.0 .466 0.8 .466 2.6 .466 3.4 .466 -10.3 .466 8.4 .466 3.1 .466 -7.7 .466 1.5 .466 1.8 .466 1.1 .466 -0.8 .466 1.0 .466 -1.1 .466 0.4 .466 -0.8 .466 2.9 .466 5.7 .466 4.9 .466 -12.3 .466 -6.8 .466 8.9 .466 6.8 .466 0.0 .466 -6.0 .466 -2.4 .466 -4.7 .466 5.6 .466 1.5 .466 0.8 .466 -0.6 .466 1.6 .466 -7.4 .466 4.9 .466 -0.3 .466 0.4 .466 -0.2 .466 1.0 .466 -5.6 .466 -7.3 .466 12.0 .466 1.1 .466 -1.1 .466 0.7 .466 -0.7 .466 3.9 .466 0.0 .466 -6.8 .466 4.8 .466 -0.7 .466 -7.0 .466 1.5 .466 8.7 .466 -1.2 .466 -5.4 .466 4.3 .466 4.4 .466 -4.7 .466 0.7 .466 0.7 .466 -1.1 .466 4.4 .466 -6.5 .466 -0.3 .466 -2.5 .466 4.8 .466 -0.9 .466 1.5 .466 -3.3 .466 3.3 .466 0.2 .466 -1.4 .466 4.6 .466 -2.9 .466 0.7 .466 6.9 .466 -2.9 .466 -3.3 .466 -15.2 .466 15.4 .466 -2.5 .466 -0.6 .466 3.1 .466 -3.9 .466 5.3 .466 0.6 .466 -6.4 .466 0.4 .466 9.7 .466 -14.5 .466 11.6 .466 -0.6 .466 -0.4 .466 -10.0 .466 15.2 .466 -9.4 .466 7.1 .466 -4.1 .466 -1.3 .466 -1.8 .466 -8.4 .466 9.4 .466 -2.0 .466 -8.8 .466 14.7 .466 8.3 .466 -9.3 .466 3.1 .466 5.6 .466 -14.2 .466 5.1 .466 0.1 .466 -1.6 .466 4.0 .466 -1.4 .466 -3.6 .466 10.2 .466 -11.1 .466 -2.7 .466 9.4 .466 -2.7 .466 1.7 .466 -9.8 .466 3.1 .466 4.0 .466 0.4 .466 1.5 .466 -1.5 .466 -1.0 .466 9.6 .466 -11.2 .466 4.1 .466 -2.4 .466 5.4 .466 -2.1 .466 0.0 .466 -1.2 .466 0.2 .466 13.0 .466 -13.2 .466 1.7 .466 -6.5 .466 5.5 .466 2.0 .466 -2.3 .466 2.0 .466 -0.6 .466 -5.8 .466 4.5 .466 -8.4 .466 3.3 .466 6.5 .466 -3.8 .466 -4.5 .466 6.7 .466 1.7 .466 -3.4 .466 -1.2 .466 0.5 .466 -7.2 .466 1.6 .466 7.1 .466 -2.6 .466 1.8 .466 5.5 .466 -2.9 .466 -0.2 .466 2.3 .466 -5.4 .466 -2.4 .466 -6.3 .466 7.3 .466 -7.3 .466 2.7 .466 -0.7 .466 8.3 .466 -2.4 .466 -6.3 .466 1.6 .466 1.3 .466 -6.7 .466 -2.1 .466 11.5 .466 0.2 .466 1.6 .466 4.1 .466 -7.8 .466 9.4 .466 -7.0 .466 8.8 .466 -8.9 .466 3.1 .466 2.9 .466 -4.5 .466 -1.5 .466 2.7 .466 0.8 .466 5.8 .466 -6.5 .466 3.6 .466 2.0 .466 -14.2 .466 9.2 .466 6.8 .466 -4.3 .466 -3.8 .466 3.3 .466 -0.6 .466 4.0 .466 -0.6 .466 -3.9 .466 11.5 .466 -17.2 .466 12.2 .466 -10.0 .466 5.3 .466 -0.9 .466 3.7 .466 -3.2 .466 -1.6 .466 3.4 .466 -2.4 .466 0.3 .466 3.6 .466 -4.0 .466 1.2 .466 2.7 .466 0.3 .466 -1.8 .466 0.3 .466 -6.6 .466 5.3 .466 0.4 .466 -4.4 .466 8.3 .466 -3.2 .466 -6.0 .466 0.5 .466 -0.5 .466 1.1 .466 4.3 .466 -5.5 .466 4.3 .466 -1.0 .466 2.8 .466 0.5 .466 -0.6 .466 -0.4 .466 -0.2 .466 1.9 .466 -2.2 .466 -2.6 .466 -2.0 .466 5.3 .466 2.1 .466 -1.1 .466 -0.1 .466 0.9 .466 -7.9 .466 9.1 .466 -11.9 .466 8.7 .466 -0.9 .466 -3.5 .466 4.5 .466 -4.9 .466 -2.4 .466 8.5 .466 2.9 .466 -4.9 .466 3.2 .466 4.3 .466 -5.2 .466 -2.4 .466 7.0 .466 -8.6 .466 -0.1 .466 3.5 .466 1.9 .466 -5.1 .466 0.6 .466 -7.3 .466 3.7 .466 3.7 .466 -3.7 .466 -4.3 .466 11.6 .466 2.0 .466 -8.2 .466 2.8 .466 -9.2 .466 9.8 .466 -3.8 .466 4.7 .466 0.9 .466 0.4 .466 -6.4 .466 7.4 .466 0.7 .466 -5.2 .466 10.6 .466 -10.0 .466 -0.8 .466 -1.4 .466 11.1 .466 2.7 .466 -7.9 .466 -4.0 .466 -1.4 .466 5.9 .466 0.0 .466 -1.6 .466 -12.1 .466 5.6 .466 5.5 .466 -8.0 .466 10.6 .466 6.3 .466 -0.1 .466 -6.0 .466 -10.9 .466 3.2 .466 13.9 .466 -9.2 .466 -4.7 .466 -9.5 .466 9.5 .466 8.6 .466 -5.7 .466 3.5 .466 4.2 .466 -7.2 .466 6.9 .466 -1.6 .466 -8.6 .466 0.2 .466 8.9 .466 -1.5 .466 -0.3 .466 -1.9 .466 6.2 .466 -7.9 .466 3.5 .466 -0.7 .466 -2.7 .466 -1.3 .466 -2.8 .466 11.5 .466 -4.0 .466 -1.1 .466 -4.1 .466 5.1 .466 -5.8 .466 3.7 .466 -4.3 .466 3.0 .466 1.1 .466 0.9 .466 3.7 .466 2.0 .466 -5.2 .466 -9.4 .466 6.4 .466 2.6 .466 2.1 .466 -13.3 .466 8.6 .466 6.8 .466 -0.3 .466 -1.4 .466 -8.0 .466 2.2 .466 7.2 .466 -0.4 .466 2.4 .466 -6.4 .466 0.1 .466 -3.7 .466 3.7 .466 -3.6 .466 5.4 .466 -2.8 .466 -2.4 .466 -1.9 .466 -0.6 .466 0.6 .466 8.9 .466 -6.2 .466 1.3 .466 -4.1 .466 8.4 .466 7.6 .466 -12.3 .466 6.8 .466 1.6 .466 -7.2 .466 -5.1 .466 4.9 .466 -4.2 .466 7.7 .466 -0.1 .466 -7.6 .466 2.0 .466 2.4 .466 -3.6 .466 5.7 .466 -3.5 .466 1.0 .466 -1.3 .466 3.1 .466 -0.2 .466 0.1 .466 -3.7 .466 -0.1 .466 -1.2 .466 7.0 .466 -9.2 .466 3.3 .466 -7.0 .466 9.2 .466 6.4 .466 -7.3 .466 -8.3 .466 7.0 .466 2.2 .466 -4.6 .466 3.5 .466 -1.3 .466 -6.1 .466 9.8 .466 -4.2 .466 -1.4 .466 4.2 .466 -1.5 .466 -0.9 .466 -3.5 .466 15.9 .466 -10.5 .466 -1.0 .466 0.9 .466 -0.9 .466 2.9 .466 1.4 .466 -5.5 .466 7.5 .466 -7.6 .466 2.6 .466 5.6 .466 -5.1 .466 -8.2 .466 7.5 .466 3.0 .466 -10.6 .466 4.0 .466 2.2 .466 -0.2 .466 10.6 .466 -15.1 .466 2.2 .466 4.0 .466 -5.4 .466 5.3 .466 0.1 .466 -0.6 .466 -0.8 .466 0.3 .466 -0.7 .466 0.1 .466 -0.3 .466 -0.4 .466 -1.7 .466 3.6 .466 0.3 .466 -0.4 .466 -0.3 .466 2.9 .466 2.4 .466 -11.6 .466 5.7 .466 0.4 .466 -4.7 .466 3.7 .466 0.6 .466 -7.0 .466 7.1 .466 -4.3 .466 4.2 .466 -2.2 .466 -2.0 .466 -1.4 .466 6.3 .466 -15.6 .466 14.8 .466 -5.7 .466 7.8 .466 -0.4 .466 -4.6 .466 2.6 .466 2.7 .466 -5.9 .466 7.1 .466 -1.8 .466 5.3 .466 -5.8 .466 -8.0 .466 6.7 .466 2.0 .466 -1.6 .466 -0.7 .466 -1.2 .466 3.5 .466 -5.0 .466 5.8 .466 -4.0 .466 2.2 .466 5.1 .466 -5.0 .466 3.4 .466 -9.2 .466 5.2 .466 1.0 .466 -4.5 .466 4.9 .466 -0.4 .466 -1.4 .466 2.9 .466 -18.0 .466 21.1 .466 -11.0 .466 7.4 .466 -5.9 .466 -7.9 .466 12.0 .466 -0.4 .466 1.7 .466 1.8 .466 -4.2 .466 0.3 .466 0.3 .466 -1.9 .466 4.0 .466 -0.7 .466 -5.9 .466 4.9 .466 -4.2 .466 0.7 .466 2.0 .466 -1.0 .466 0.7 .466 -3.1 .466 4.3 .466 -7.1 .466 -8.6 .466 9.9 .466 2.4 .466 3.3 .466 -5.4 .466 -4.6 .466 16.3 .466 -10.5 .466 -3.8 .466 -1.3 .466 -2.0 .466 -1.6 .466 5.9 .466 -7.4 .466 5.4 .466 -3.0 .466 0.7 .466 -2.9 .466 -4.8 .466 -16.3 .466 22.7 .466 -1.3 .466 -9.3 .466 1.4 .466 0.5 .466 6.3 .466 -9.4 .466 0.3 .466 -16.2 .466 5.8 .466 8.8 .466 -3.3 .466 -8.5 .466 8.5 .466 -6.2 .466 8.5 .466 7.1 .466 -5.8 .466 -12.6 .466 4.3 .466 4.4 .466 -4.1 .466 -8.2 .466 5.4 .466 4.4 .466 -1.9 .466 -2.3 .466 5.5 .466 4.9 .466 -1.8 .466 -2.8 .466 0.1 .466 -0.8 .466 4.5 .466 4.0 .466 6.6 .466 -6.9 .466 5.7 .466 6.7 .466 -7.7 .466 4.9 .466 12.4 .466 -15.3 .466 3.8 .466 5.2 .466 -7.8 .466 -1.0 .466 8.1 .466 0.4 .466 5.5 .466 -3.4 .466 4.8 .466 -4.6 .466 1.4 .466 2.9 .466 -3.3 .466 0.5 .466 2.6 .466 -7.6 .466 6.6 .466 -3.1 .466 3.8 .466 -10.4 .466 4.3 .466 7.4 .466 -1.4 .466 3.3 .466 -1.0 .466 -0.3 .466 4.0 .466 -10.6 .466 13.3 .466 -11.3 .466 -1.6 .466 14.8 .466 -10.9 .466 3.2 .466 -0.6 .466 -0.8 .466 2.0 .466 4.3 .466 -4.7 .466 1.5 .466 6.3 .466 -7.4 .466 -0.9 .466 1.2 .466 2.9 .466 -1.3 .466 6.4 .466 -8.8 .466 7.3 .466 -6.9 .466 -9.6 .466 11.5 .466 5.3 .466 -8.4 .466 7.0 .466 -1.3 .466 -4.7 .466 3.8 .466 -3.7 .466 2.2 .466 -0.9 .466 -2.5 .466 2.1 .466 -0.1 .466 -4.8 .466 9.7 .466 -5.8 .466 0.3 .466 8.4 .466 -7.7 .466 -0.0 .466 4.1 .466 -4.5 .466 8.1 .466 -7.1 .466 -0.7 .466 -0.5 .466 -0.1 .466 10.3 .466 -8.9 .466 -5.8 .466 0.4 .466 7.9 .466 2.3 .466 2.7 .466 -13.1 .466 3.7 .466 5.2 .466 -0.1 .466 -0.0 .466 -6.2 .466 5.3 .466 -0.3 .466 3.0 .466 -5.3 .466 1.4 .466 -3.7 .466 4.6 .466 -12.0 .466 13.7 .466 -2.4 .466 -2.7 .466 -1.3 .466 2.5 .466 2.1 .466 3.7 .466 2.1 .466 -7.6 .466 -1.8 .466 -2.6 .466 5.9 .466 -1.2 .466 -3.1 .466 2.6 .466 -1.0 .466 3.3 .466 -8.0 .466 2.4 .466 -0.2 .466 2.8 .466 -1.2 .466 1.8 .466 -0.8 .466 -1.1 .466 2.4 .466 -1.0 .466 -4.7 .466 3.1 .466 1.4 .466 0.0 .466 -1.2 .466 -2.9 .466 6.0 .466 -3.3 .466 0.6 .466 2.8 .466 -11.5 .466 2.6 .466 5.9 .466 -7.0 .466 -9.4 .466 22.9 .466 -17.1 .466 10.7 .466 5.6 .466 -11.3 .466 1.0 .466 -6.1 .466 19.8 .466 -11.6 .466 -7.3 .466 -5.1 .466 7.8 .466 15.9 .466 -24.2 .466 8.1 .466 -1.8 .466 -8.1 .466 -1.5 .466 -0.8 .466 -0.0 .466 0.2 .466 -3.6 .466 0.4 .466 0.9 .466 -1.0 .466 19.0 .466 -26.2 .466 8.7 .466 -9.2 .466 -1.6 .466 7.6 .466 -5.6 .466 0.5 .466 3.3 .466 -3.5 .466 -0.5 .466 -4.2 .466 -0.3 .466 1.7 .466 -0.8 .466 -2.2 .466 6.2 .466 1.2 .466 4.2 .466 -4.3 .466 -0.3 .466 -0.4 .466 1.4 .466 5.5 .466 -0.4 .466 -6.6 .466 7.4 .466 5.7 .466 -0.2 .466 -3.9 .466 5.6 .466 1.4 .466 -1.9 .466 4.7 .466 -7.7 .466 11.7 .466 -2.0 .466 -3.7 .466 4.5 .466 -2.2 .466 3.5 .466 -3.4 .466 3.2 .466 -6.8 .466 17.0 .466 -7.9 .466 3.9 .466 -3.6 .466 0.7 .466 4.0 .466 10.3 .466 -15.5 .466 -0.4 .466 4.1 .466 -2.0 .466 18.6 .466 -17.6 .466 -4.9 .466 -2.5 .466 9.7 .466 -3.1 .466 -0.5 .466 3.3 .466 -3.4 .466 1.4 .466 0.2 .466 3.4 .466 -0.6 .466 3.9 .466 -7.2 .466 16.5 .466 -14.3 .466 -1.1 .466 7.5 .466 -9.4 .466 10.8 .466 -16.9 .466 6.0 .466 3.7 .466 -2.0 .466 3.8 .466 -1.2 .466 -2.6 .466 1.9 .466 -10.0 .466 15.4 .466 -11.7 .466 5.5 .466 6.4 .466 -4.8 .466 0.3 .466 0.8 .466 0.6 .466 -2.8 .466 -2.9 .466 5.2 .466 -1.0 .466 1.0 .466 6.6 .466 -6.7 .466 -3.1 .466 1.6 .466 5.4 .466 -6.0 .466 0.5 .466 8.0 .466 -6.5 .466 1.6 .466 4.6 .466 -2.2 .466 -12.8 .466 9.3 .466 1.4 .466 -5.1 .466 0.9 .466 5.4 .466 -0.4 .466 8.0 .466 -16.1 .466 -0.3 .466 17.9 .466 -9.5 .466 -6.3 .466 6.0 .466 -0.1 .466 0.4 .466 1.9 .466 -1.3 .466 -1.4 .466 -1.1 .466 -1.8 .466 12.7 .466 -10.3 .466 -1.4 .466 2.9 .466 0.3 .466 -0.6 .466 3.5 .466 -3.3 .466 -1.5 .466 -4.0 .466 0.8 .466 4.1 .466 -1.8 .466 -1.7 .466 6.8 .466 -3.3 .466 2.0 .466 1.8 .466 -9.9 .466 13.5 .466 -6.6 .466 -1.5 .466 1.1 .466 -2.2 .466 1.2 .466 1.9 .466 -3.4 .466 2.4 .466 -1.3 .466 4.0 .466 -4.4 .466 3.9 .466 -12.2 .466 10.1 .466 0.2 .466 -0.4 .466 0.7 .466 3.3 .466 -3.2 .466 2.8 .466 -1.1 .466 -4.5 .466 1.2 .466 -1.8 .466 5.7 .466 -7.0 .466 8.3 .466 -3.2 .466 -0.8 .466 0.8 .466 -0.1 .466 0.6 .466 -0.5 .466 -1.7 .466 6.0 .466 -3.8 .466 12.7 .466 -17.3 .466 10.1 .466 -5.3 .466 0.4 .466 4.9 .466 -12.1 .466 3.2 .466 3.3 .466 -2.0 .466 -8.2 .466 8.2 .466 3.0 .466 -0.1 .466 -9.9 .466 7.4 .466 4.8 .466 -2.5 .466 -0.2 .466 7.6 .466 -9.6 .466 -3.9 .466 5.9 .466 0.2 .466 -0.6 .466 6.5 .466 -5.5 .466 -7.0 .466 6.7 .466 -6.7 .466 6.2 .466 -0.4 .466 -14.7 .466 12.0 .466 2.2 .466 -0.7 .466 -2.5 .466 4.5 .466 5.5 .466 -13.5 .466 9.5 .466 -3.2 .466 -0.7 .466 4.3 .466 3.2 .466 3.7 .466 -3.7 .466 -9.6 .466 -6.9 .466 12.8 .466 0.2 .466 -5.6 .466 3.9 .466 0.6 .466 -1.7 .466 -2.4 .466 2.0 .466 -0.5 .466 -10.2 .466 10.2 .466 -0.3 .466 3.2 .466 -0.3 .466 0.4 .466 -2.8 .466 2.2 .466 -4.7 .466 6.2 .466 3.9 .466 -3.8 .466 -0.4 .466 -1.3 .466 1.7 .466 -2.3 .466 -1.7 .466 4.2 .466 -2.2 .466 5.3 .466 -4.8 .466 -0.3 .466 -7.5 .466 5.0 .466 3.9 .466 -2.0 .466 5.8 .466 -4.6 .466 -2.6 .466 -0.2 .466 0.5 .466 -0.8 .466 2.6 .466 -5.2 .466 5.5 .466 -0.9 .466 4.5 .466 0.3 .466 -5.8 .466 -1.3 .466 2.3 .466 0.5 .466 1.6 .466 6.5 .466 -3.6 .466 -5.1 .466 0.9 .466 0.3 .466 3.5 .466 -8.4 .466 7.2 .466 -4.6 .466 -2.5 .466 13.5 .466 -10.2 .466 3.0 .466 -2.8 .466 -0.7 .466 1.8 .466 -2.4 .466 0.2 .466 -4.4 .466 8.0 .466 3.7 .466 -18.3 .466 11.5 .466 5.4 .466 -3.2 .466 -4.4 .466 1.7 .466 -0.4 .466 -5.1 .466 3.8 .466 -0.0 .466 3.9 .466 2.1 .466 -2.0 .466 0.9 .466 3.1 .466 -1.8 .466 -6.8 .466 -3.7 .466 13.8 .466 -7.4 .466 5.5 .466 -6.6 .466 7.0 .466 -4.4 .466 -7.7 .466 18.9 .466 -14.9 .466 -4.5 .466 11.2 .466 -3.8 .466 -6.5 .466 -2.7 .466 9.9 .466 -3.8 .466 3.4 .466 2.3 .466 5.3 .466 -8.1 .466 2.0 .466 1.0 .466 1.0 .466 -2.5 .466 2.5 .466 -2.7 .466 2.2 .466 -1.0 .466 -1.1 .466 4.0 .466 -5.1 .466 0.4 .466 0.8 .466 -5.8 .466 6.5 .466 -9.1 .466 12.3 .466 -4.7 .466 5.2 .466 -7.6 .466 5.0 .466 -1.1 .466 -0.1 .466 4.3 .466 -9.6 .466 10.0 .466 -6.7 .466 -0.3 .466 3.3 .466 -1.9 .466 -3.1 .466 4.0 .466 3.6 .466 -15.3 .466 10.8 .466 -2.3 .466 4.4 .466 0.9 .466 -5.9 .466 6.8 .466 -4.6 .466 3.3 .466 -5.8 .466 3.7 .466 1.2 .466 -1.1 .466 1.4 .466 0.9 .466 3.3 .466 -4.5 .466 -3.9 .466 5.1 .466 -2.6 .466 1.9 .466 -0.1 .466 2.8 .466 -3.6 .466 -2.7 .466 1.6 .466 1.3 .466 -0.3 .466 -3.1 .466 5.6 .466 -2.4 .466 -0.0 .466 -3.0 .466 2.5 .466 -1.7 .466 0.6 .466 0.1 .466 1.7 .466 -1.5 .466 5.4 .466 -2.6 .466 7.2 .466 -8.4 .466 -1.2 .466 -0.2 .466 -6.6 .466 8.8 .466 -2.8 .466 -7.4 .466 13.6 .466 -7.0 .466 -2.6 .466 6.5 .466 0.4 .466 0.0 .466 -1.4 .466 -9.0 .466 8.4 .466 7.0 .466 -7.4 .466 -1.2 .466 1.8 .466 0.5 .466 -2.3 .466 3.7 .466 1.0 .466 -11.7 .466 4.0 .466 4.5 .466 -6.0 .466 3.4 .466 6.4 .466 12.6 .466 -13.2 .466 -6.3 .466 5.7 .466 -2.1 .466 12.3 .466 -14.4 .466 6.2 .466 -14.2 .466 7.4 .466 6.9 .466 -4.6 .466 -2.5 .466 3.9 .466 -2.7 .466 1.8 .466 -1.1 .466 -4.6 .466 -0.6 .466 10.7 .466 -1.2 .466 -4.0 .466 -1.8 .466 -1.6 .466 10.6 .466 -6.7 .466 -11.9 .466 12.5 .466 1.2 .466 -3.4 .466 10.4 .466 -15.0 .466 1.8 .466 4.9 .466 -0.9 .466 -0.6 .466 2.2 .466 4.1 .466 -1.9 .466 -1.9 .466 -3.2 .466 0.1 .466 -1.5 .466 6.8 .466 -2.7 .466 -0.7 .466 -6.0 .466 8.9 .466 -6.8 .466 3.5 .466 5.7 .466 -6.7 .466 0.7 .466 6.4 .466 -7.6 .466 1.2 .466 -0.5 .466 0.2 .466 0.1 .466 11.7 .466 -8.6 .466 -9.7 .466 7.7 .466 -11.2 .466 5.3 .466 5.8 .466 0.2 .466 -3.8 .466 2.4 .466 -0.3 .466 2.4 .466 -1.9" fill="none" stroke="#0000FF" stroke-width="11" stroke-linejoin="round" stroke-linecap="round" shape-rendering="crispEdges"/>
<path d="M215.0 825.7l.466 0.5 .466 5.3 .466 -9.3 .466 6.8 .466 1.4 .466 -5.5 .466 -4.2 .466 5.6 .466 3.4 .466 -0.8 .466 -4.6 .466 3.8 .466 1.9 .466 -1.9 .466 1.7 .466 8.4 .466 -7.8 .466 -2.4 .466 -2.5 .466 2.1 .466 1.4 .466 5.3 .466 -2.5 .466 -4.3 .466 8.1 .466 -6.7 .466 2.0 .466 -7.0 .466 -0.1 .466 2.3 .466 8.3 .466 -3.5 .466 2.6 .466 -2.9 .466 -1.9 .466 0.9 .466 0.6 .466 3.8 .466 -4.9 .466 5.8 .466 -4.4 .466 2.8 .466 -3.7 .466 1.7 .466 -3.0 .466 1.6 .466 -3.1 .466 -2.6 .466 -3.3 .466 10.7 .466 -2.1 .466 5.8 .466 -1.6 .466 -4.7 .466 11.0 .466 -9.4 .466 1.9 .466 -3.3 .466 -2.5 .466 -0.5 .466 0.2 .466 4.3 .466 -5.9 .466 -6.0 .466 14.9 .466 -9.3 .466 5.2 .466 0.3 .466 1.0 .466 -0.9 .466 7.1 .466 -4.7 .466 -1.9 .466 0.4 .466 -0.9 .466 9.1 .466 -11.9 .466 4.4 .466 -1.2 .466 -9.0 .466 6.7 .466 8.5 .466 -3.8 .466 -15.5 .466 10.8 .466 -11.8 .466 17.2 .466 -8.9 .466 -2.2 .466 18.9 .466 -11.9 .466 -1.2 .466 -6.4 .466 7.1 .466 -0.2 .466 1.2 .466 -15.0 .466 10.6 .466 1.2 .466 2.5 .466 -1.3 .466 2.6 .466 -2.9 .466 7.9 .466 2.9 .466 -16.2 .466 4.3 .466 3.4 .466 2.2 .466 -9.8 .466 3.6 .466 3.1 .466 1.8 .466 4.2 .466 -1.1 .466 -1.6 .466 -10.9 .466 18.4 .466 -9.7 .466 -7.1 .466 3.8 .466 3.2 .466 -1.9 .466 0.5 .466 3.6 .466 0.3 .466 -3.3 .466 2.7 .466 -3.8 .466 11.0 .466 -9.5 .466 8.6 .466 -18.0 .466 13.5 .466 -4.7 .466 1.5 .466 -5.3 .466 3.7 .466 -2.3 .466 -3.6 .466 -12.2 .466 23.4 .466 -4.4 .466 -4.6 .466 0.7 .466 2.0 .466 3.8 .466 -8.6 .466 14.5 .466 -1.9 .466 -10.2 .466 3.6 .466 -2.3 .466 2.8 .466 -7.9 .466 5.9 .466 0.8 .466 0.3 .466 0.7 .466 3.6 .466 -8.0 .466 -1.6 .466 3.2 .466 1.4 .466 8.3 .466 -7.0 .466 0.3 .466 7.9 .466 -12.4 .466 -0.2 .466 1.7 .466 -1.3 .466 3.1 .466 6.8 .466 -12.3 .466 4.2 .466 1.4 .466 -1.7 .466 6.2 .466 -3.9 .466 2.7 .466 -10.3 .466 1.9 .466 -3.9 .466 10.9 .466 5.3 .466 -21.8 .466 15.6 .466 -0.9 .466 3.7 .466 -8.1 .466 4.1 .466 -4.7 .466 -4.0 .466 8.9 .466 -11.1 .466 10.4 .466 -3.8 .466 1.8 .466 5.5 .466 -8.0 .466 2.2 .466 -1.0 .466 -2.2 .466 3.1 .466 -3.4 .466 6.7 .466 -2.3 .466 -3.0 .466 12.3 .466 -11.7 .466 2.7 .466 0.7 .466 -4.5 .466 -11.1 .466 18.6 .466 3.2 .466 -12.6 .466 -0.4 .466 3.6 .466 1.2 .466 12.8 .466 -4.4 .466 3.9 .466 -15.8 .466 3.2 .466 -1.3 .466 -2.3 .466 -4.6 .466 3.3 .466 2.6 .466 -5.0 .466 1.8 .466 -4.4 .466 9.5 .466 -1.1 .466 -2.6 .466 2.7 .466 -0.8 .466 1.8 .466 5.8 .466 -8.5 .466 2.4 .466 -4.3 .466 10.5 .466 -6.7 .466 -5.2 .466 1.7 .466 -1.8 .466 0.3 .466 1.9 .466 5.4 .466 -4.2 .466 -1.8 .466 1.4 .466 -1.7 .466 4.4 .466 -10.1 .466 5.7 .466 0.3 .466 -2.2 .466 5.9 .466 -6.1 .466 1.8 .466 -6.2 .466 10.4 .466 -3.8 .466 2.4 .466 -4.5 .466 -8.4 .466 9.7 .466 4.4 .466 1.0 .466 -5.4 .466 5.5 .466 -12.8 .466 8.4 .466 -2.6 .466 1.8 .466 -2.6 .466 8.5 .466 -7.6 .466 9.8 .466 -13.7 .466 4.9 .466 -0.1 .466 2.3 .466 -3.4 .466 1.1 .466 -7.2 .466 5.3 .466 3.7 .466 -8.0 .466 5.3 .466 -2.6 .466 -1.5 .466 -1.3 .466 8.7 .466 -2.1 .466 -2.9 .466 -0.1 .466 3.0 .466 -1.6 .466 5.6 .466 -0.0 .466 -7.1 .466 1.4 .466 -1.3 .466 -2.3 .466 1.2 .466 2.4 .466 -2.0 .466 0.6 .466 -1.5 .466 8.7 .466 -6.0 .466 -8.2 .466 8.5 .466 2.8 .466 -3.2 .466 -5.3 .466 0.0 .466 -1.8 .466 -5.7 .466 7.8 .466 4.6 .466 -1.9 .466 -1.7 .466 2.8 .466 -3.2 .466 -4.8 .466 6.4 .466 -4.9 .466 6.7 .466 -7.6 .466 -5.1 .466 8.6 .466 -8.4 .466 10.8 .466 -6.1 .466 3.6 .466 -12.0 .466 8.8 .466 1.1 .466 -7.1 .466 5.9 .466 -6.0 .466 2.7 .466 0.5 .466 2.0 .466 -6.5 .466 1.1 .466 6.9 .466 -1.3 .466 -2.8 .466 -2.0 .466 3.9 .466 -2.4 .466 -1.8 .466 7.0 .466 -9.1 .466 7.0 .466 -2.9 .466 0.1 .466 0.2 .466 0.7 .466 2.8 .466 1.3 .466 -10.0 .466 -2.0 .466 10.4 .466 -9.9 .466 0.1 .466 6.7 .466 6.7 .466 -6.2 .466 -4.7 .466 -1.4 .466 15.9 .466 -12.6 .466 -1.6 .466 -16.5 .466 11.2 .466 -10.8 .466 20.9 .466 -9.9 .466 -1.4 .466 4.8 .466 -4.5 .466 3.8 .466 8.6 .466 -4.2 .466 -8.3 .466 9.9 .466 -8.3 .466 0.9 .466 -2.1 .466 25.7 .466 -26.3 .466 4.3 .466 -1.7 .466 0.6 .466 -8.4 .466 6.4 .466 20.3 .466 -20.4 .466 -4.6 .466 -5.5 .466 7.2 .466 4.3 .466 -15.2 .466 2.5 .466 10.9 .466 4.1 .466 -6.6 .466 1.5 .466 -4.1 .466 0.0 .466 2.1 .466 -3.4 .466 2.8 .466 -4.8 .466 12.6 .466 -6.5 .466 -8.5 .466 2.7 .466 8.1 .466 -5.8 .466 -1.7 .466 -10.1 .466 14.2 .466 -1.3 .466 3.9 .466 -9.4 .466 7.2 .466 1.3 .466 -0.3 .466 -1.7 .466 -3.5 .466 -9.5 .466 11.1 .466 -14.0 .466 4.8 .466 6.4 .466 -5.3 .466 5.3 .466 5.3 .466 -9.6 .466 8.0 .466 18.3 .466 -33.3 .466 10.0 .466 2.8 .466 0.2 .466 -5.2 .466 6.3 .466 -5.5 .466 -2.7 .466 3.8 .466 0.8 .466 3.5 .466 -3.2 .466 -9.4 .466 8.1 .466 -2.4 .466 3.7 .466 -12.6 .466 11.7 .466 1.9 .466 -14.5 .466 -4.2 .466 21.1 .466 0.1 .466 -11.2 .466 12.2 .466 -8.9 .466 0.9 .466 -0.5 .466 -1.6 .466 7.9 .466 -5.3 .466 7.4 .466 -7.5 .466 6.8 .466 -8.0 .466 -0.5 .466 0.8 .466 -19.6 .466 22.1 .466 -8.8 .466 14.7 .466 -19.8 .466 12.6 .466 0.9 .466 -3.0 .466 -7.5 .466 11.1 .466 -6.1 .466 -0.6 .466 4.4 .466 10.1 .466 -19.4 .466 6.4 .466 2.3 .466 -4.4 .466 10.6 .466 -7.3 .466 -9.1 .466 3.0 .466 -0.4 .466 4.9 .466 7.7 .466 -13.9 .466 1.2 .466 1.4 .466 4.3 .466 -1.4 .466 -0.1 .466 -4.7 .466 9.8 .466 -4.7 .466 5.8 .466 -17.8 .466 11.6 .466 -0.9 .466 6.2 .466 -2.9 .466 -2.0 .466 -5.1 .466 6.8 .466 4.8 .466 -3.3 .466 8.2 .466 -10.8 .466 -2.9 .466 -1.5 .466 7.4 .466 0.3 .466 -2.9 .466 2.2 .466 -3.7 .466 5.4 .466 -3.1 .466 -5.2 .466 3.9 .466 0.8 .466 -5.5 .466 12.8 .466 -4.8 .466 -9.4 .466 1.8 .466 -19.9 .466 32.6 .466 -13.6 .466 9.3 .466 -4.7 .466 -9.4 .466 5.7 .466 0.8 .466 6.1 .466 -4.5 .466 -4.1 .466 15.1 .466 -9.5 .466 -8.8 .466 21.3 .466 -10.7 .466 -2.4 .466 -4.7 .466 7.4 .466 -9.1 .466 16.1 .466 -6.0 .466 -0.6 .466 1.0 .466 2.3 .466 -5.9 .466 4.5 .466 -10.6 .466 8.7 .466 0.8 .466 -6.7 .466 -2.7 .466 14.2 .466 -1.1 .466 -13.1 .466 7.4 .466 -5.2 .466 0.6 .466 12.3 .466 -6.7 .466 1.4 .466 -5.5 .466 5.9 .466 -1.6 .466 -3.4 .466 1.6 .466 -2.9 .466 3.9 .466 -5.1 .466 3.8 .466 5.8 .466 -3.7 .466 -0.6 .466 -7.3 .466 10.8 .466 -3.2 .466 8.6 .466 -1.0 .466 -0.1 .466 -8.2 .466 3.0 .466 -10.1 .466 -3.5 .466 14.1 .466 -1.8 .466 7.8 .466 -11.7 .466 2.1 .466 3.8 .466 -2.6 .466 4.1 .466 -6.1 .466 6.1 .466 0.5 .466 1.6 .466 -8.0 .466 8.3 .466 -9.3 .466 3.0 .466 12.9 .466 -12.2 .466 -0.5 .466 -2.2 .466 1.5 .466 -0.1 .466 2.0 .466 -1.5 .466 -2.2 .466 -2.1 .466 19.8 .466 -14.5 .466 -5.6 .466 2.9 .466 3.3 .466 -4.6 .466 9.9 .466 -6.2 .466 1.6 .466 -0.2 .466 -6.4 .466 13.4 .466 -3.4 .466 -10.1 .466 5.9 .466 -0.2 .466 -2.2 .466 0.9 .466 -1.5 .466 4.2 .466 -1.8 .466 -6.0 .466 3.5 .466 -1.6 .466 6.5 .466 -0.7 .466 -1.4 .466 1.6 .466 1.0 .466 -4.7 .466 -5.6 .466 20.3 .466 -15.0 .466 1.3 .466 5.4 .466 12.9 .466 -20.7 .466 5.1 .466 6.3 .466 -12.6 .466 4.7 .466 4.1 .466 3.6 .466 -11.0 .466 6.0 .466 1.8 .466 -0.3 .466 0.0 .466 17.7 .466 -3.3 .466 -17.9 .466 1.0 .466 2.0 .466 -5.6 .466 1.7 .466 5.9 .466 14.7 .466 -17.2 .466 -1.5 .466 5.1 .466 -3.0 .466 -12.7 .466 8.2 .466 13.0 .466 -12.0 .466 7.9 .466 -1.9 .466 4.1 .466 -2.9 .466 -3.1 .466 -0.2 .466 0.7 .466 0.1 .466 0.5 .466 1.0 .466 3.2 .466 -0.5 .466 -8.2 .466 7.7 .466 8.9 .466 0.8 .466 -10.2 .466 -2.7 .466 2.7 .466 -3.0 .466 3.0 .466 10.6 .466 -1.8 .466 -5.9 .466 1.0 .466 1.9 .466 0.2 .466 0.1 .466 0.8 .466 -1.6 .466 -5.9 .466 7.4 .466 0.0 .466 -6.0 .466 1.0 .466 5.2 .466 -2.1 .466 5.1 .466 -6.0 .466 4.1 .466 -0.3 .466 -6.9 .466 3.9 .466 1.1 .466 -0.4 .466 -4.6 .466 4.0 .466 3.5 .466 -3.3 .466 4.6 .466 -1.8 .466 0.6 .466 -2.9 .466 7.1 .466 -10.6 .466 16.3 .466 -7.7 .466 8.1 .466 -8.1 .466 -1.6 .466 0.4 .466 9.1 .466 -7.3 .466 -0.9 .466 -3.5 .466 0.1 .466 4.2 .466 0.5 .466 4.2 .466 -9.0 .466 5.4 .466 -4.6 .466 2.7 .466 2.8 .466 5.7 .466 -10.5 .466 1.3 .466 6.3 .466 -1.6 .466 -6.8 .466 8.6 .466 8.1 .466 -7.0 .466 16.9 .466 -16.5 .466 -4.0 .466 5.3 .466 -2.8 .466 -6.9 .466 5.4 .466 10.0 .466 -7.0 .466 -2.5 .466 3.4 .466 -0.2 .466 -6.0 .466 4.2 .466 4.1 .466 -9.1 .466 6.1 .466 -5.7 .466 3.3 .466 5.4 .466 -4.1 .466 5.4 .466 -1.5 .466 -1.0 .466 -5.7 .466 4.4 .466 5.9 .466 -4.1 .466 -8.6 .466 7.7 .466 -0.2 .466 0.3 .466 -0.5 .466 4.6 .466 -3.4 .466 4.7 .466 4.3 .466 -2.9 .466 -2.9 .466 -14.7 .466 -9.3 .466 17.4 .466 4.3 .466 -2.0 .466 -2.9 .466 12.3 .466 -7.6 .466 -2.8 .466 3.6 .466 12.5 .466 -10.1 .466 5.0 .466 -12.5 .466 8.1 .466 -3.8 .466 0.3 .466 1.0 .466 0.2 .466 3.6 .466 -5.1 .466 1.8 .466 -0.2 .466 1.7 .466 -0.4 .466 -9.2 .466 13.5 .466 -3.2 .466 -5.6 .466 4.5 .466 6.1 .466 -0.5 .466 -6.1 .466 -1.8 .466 11.5 .466 -6.2 .466 -0.8 .466 -2.1 .466 5.7 .466 -8.3 .466 7.5 .466 -0.4 .466 -3.2 .466 -1.2 .466 3.0 .466 -2.6 .466 0.3 .466 -1.4 .466 5.4 .466 -7.3 .466 4.4 .466 -0.4 .466 13.8 .466 -18.7 .466 6.2 .466 -3.4 .466 11.5 .466 -13.5 .466 11.8 .466 -5.3 .466 -4.7 .466 3.0 .466 -1.5 .466 2.1 .466 4.1 .466 -3.9 .466 13.1 .466 -6.4 .466 -9.4 .466 -1.7 .466 6.6 .466 -2.8 .466 -1.0 .466 9.3 .466 -6.2 .466 -2.8 .466 2.8 .466 -0.0 .466 3.0 .466 -4.0 .466 0.8 .466 -4.3 .466 8.8 .466 2.3 .466 -26.4 .466 22.5 .466 8.1 .466 -5.9 .466 -1.2 .466 -6.4 .466 17.7 .466 -15.5 .466 5.6 .466 -1.5 .466 -2.0 .466 8.8 .466 -0.7 .466 -9.3 .466 0.3 .466 6.2 .466 -6.2 .466 5.3 .466 -7.7 .466 0.4 .466 1.7 .466 -0.8 .466 1.4 .466 -2.5 .466 -1.0 .466 3.1 .466 -2.7 .466 2.4 .466 0.6 .466 8.6 .466 -8.3 .466 1.4 .466 6.1 .466 -7.2 .466 -1.6 .466 2.7 .466 3.3 .466 -5.8 .466 4.4 .466 -2.4 .466 0.4 .466 1.1 .466 -1.4 .466 -3.3 .466 0.8 .466 -5.5 .466 13.6 .466 -3.8 .466 6.3 .466 -9.2 .466 2.2 .466 0.1 .466 -5.1 .466 5.1 .466 0.5 .466 -1.3 .466 -0.8 .466 -1.3 .466 -4.0 .466 7.6 .466 -4.1 .466 -3.1 .466 18.7 .466 -6.7 .466 -6.5 .466 1.0 .466 -2.9 .466 16.1 .466 -14.6 .466 5.8 .466 -1.5 .466 -14.5 .466 2.9 .466 8.9 .466 -9.4 .466 16.4 .466 3.7 .466 -9.1 .466 -2.6 .466 -1.2 .466 -1.6 .466 5.2 .466 -4.5 .466 1.2 .466 5.1 .466 2.7 .466 -3.6 .466 7.7 .466 -5.0 .466 -4.1 .466 -0.6 .466 -2.0 .466 6.6 .466 -3.1 .466 4.9 .466 -4.9 .466 5.1 .466 -2.8 .466 -1.4 .466 1.8 .466 0.0 .466 -10.5 .466 11.9 .466 -8.7 .466 5.8 .466 -0.3 .466 2.8 .466 -5.4 .466 4.7 .466 1.4 .466 -4.2 .466 2.0 .466 -1.2 .466 3.3 .466 2.7 .466 -4.9 .466 -13.1 .466 19.7 .466 -5.7 .466 -4.1 .466 5.9 .466 -2.5 .466 -3.2 .466 2.5 .466 2.3 .466 -2.2 .466 -2.9 .466 -3.1 .466 6.8 .466 3.2 .466 -3.3 .466 0.7 .466 4.0 .466 -2.0 .466 10.8 .466 -7.9 .466 3.6 .466 -7.2 .466 2.8 .466 18.1 .466 -33.7 .466 12.9 .466 2.6 .466 -4.9 .466 -4.0 .466 6.9 .466 -7.0 .466 3.1 .466 -3.9 .466 10.1 .466 -10.0 .466 14.3 .466 -5.8 .466 -1.1 .466 -3.4 .466 3.4 .466 -1.4 .466 6.8 .466 -4.4 .466 -11.2 .466 18.3 .466 5.5 .466 1.9 .466 -16.5 .466 2.1 .466 1.9 .466 -7.1 .466 4.7 .466 -1.0 .466 6.0 .466 -14.5 .466 16.6 .466 -17.6 .466 17.6 .466 -6.8 .466 -3.1 .466 1.8 .466 8.8 .466 -10.4 .466 6.7 .466 1.8 .466 -7.0 .466 2.4 .466 -0.4 .466 6.8 .466 -10.4 .466 2.5 .466 2.3 .466 -5.6 .466 2.0 .466 4.9 .466 -1.5 .466 -0.6 .466 4.1 .466 -7.1 .466 8.6 .466 -7.6 .466 7.7 .466 -4.1 .466 -0.1 .466 -1.1 .466 1.9 .466 -4.4 .466 3.8 .466 -7.1 .466 6.2 .466 8.7 .466 -1.0 .466 -11.4 .466 8.0 .466 -4.8 .466 -1.2 .466 -0.4 .466 0.5 .466 0.0 .466 8.4 .466 -5.5 .466 -6.4 .466 6.7 .466 -2.0 .466 13.2 .466 -15.9 .466 4.2 .466 -2.1 .466 -2.9 .466 -2.1 .466 10.3 .466 -17.1 .466 9.3 .466 2.2 .466 -1.7 .466 2.3 .466 -3.9 .466 6.3 .466 -2.1 .466 0.5 .466 9.1 .466 -14.0 .466 3.5 .466 -3.7 .466 2.2 .466 1.8 .466 2.5 .466 -5.9 .466 6.8 .466 -1.2 .466 -2.3 .466 4.9 .466 -5.2 .466 12.0 .466 -2.4 .466 -9.6 .466 8.9 .466 -5.6 .466 -2.4 .466 0.8 .466 2.3 .466 5.5 .466 -2.8 .466 2.8 .466 -8.9 .466 -13.3 .466 9.9 .466 3.6 .466 -4.5 .466 6.1 .466 -5.0 .466 3.3 .466 0.2 .466 7.7 .466 -5.9 .466 -4.5 .466 7.5 .466 4.8 .466 -4.9 .466 -17.3 .466 19.7 .466 -6.6 .466 6.5 .466 0.2 .466 -1.8 .466 -7.6 .466 5.4 .466 -3.4 .466 7.5 .466 -9.2 .466 6.3 .466 2.8 .466 1.3 .466 -3.9 .466 -5.3 .466 10.7 .466 -6.3 .466 1.7 .466 -17.7 .466 16.1 .466 8.8 .466 -5.1 .466 -0.1 .466 -1.5 .466 -4.7 .466 1.6 .466 10.4 .466 -12.8 .466 6.3 .466 -2.4 .466 3.0 .466 -6.2 .466 -1.1 .466 5.4 .466 -2.5 .466 5.0 .466 16.7 .466 -24.0 .466 1.9 .466 -1.2 .466 2.6 .466 -1.8 .466 3.3 .466 -1.8 .466 1.0 .466 4.0 .466 -0.0 .466 -7.8 .466 1.2 .466 2.6 .466 -0.8 .466 -8.9 .466 11.1 .466 0.7 .466 -3.5 .466 -4.3 .466 6.3 .466 -8.6 .466 -0.1 .466 7.3 .466 -1.1 .466 12.4 .466 -14.4 .466 -1.1 .466 1.8 .466 6.0 .466 -3.0 .466 -18.1 .466 11.7 .466 12.3 .466 -7.4 .466 -1.1 .466 -5.8 .466 3.5 .466 -8.4 .466 15.0 .466 2.7 .466 -6.6 .466 2.7 .466 -7.4 .466 2.4 .466 2.8 .466 0.6 .466 -0.8 .466 -6.6 .466 12.5 .466 -9.2 .466 3.9 .466 2.8 .466 -8.9 .466 4.1 .466 1.2 .466 12.3 .466 -11.5 .466 -2.3 .466 2.1 .466 -1.6 .466 -5.3 .466 2.3 .466 3.7 .466 0.5 .466 -2.0 .466 -1.8 .466 -5.2 .466 9.6 .466 -5.5 .466 5.0 .466 5.3 .466 -3.9 .466 -2.9 .466 -8.3 .466 9.3 .466 9.3 .466 -13.0 .466 5.5 .466 -3.7 .466 2.4 .466 -0.8 .466 -4.0 .466 1.5 .466 -5.7 .466 0.6 .466 2.8 .466 3.7 .466 -2.9 .466 5.1 .466 -3.4 .466 4.7 .466 -3.5 .466 -3.8 .466 -5.2 .466 5.0 .466 -0.2 .466 -5.7 .466 0.5 .466 15.4 .466 -8.5 .466 -5.5 .466 -9.8 .466 7.0 .466 1.6 .466 8.2 .466 -22.3 .466 11.4 .466 5.0 .466 -1.8 .466 -12.1 .466 -1.1 .466 -5.6 .466 -19.8 .466 5.1 .466 5.0 .466 -23.1 .466 -6.2 .466 -2.7 .466 -3.5 .466 -19.1 .466 -8.2 .466 3.0 .466 -20.6 .466 -33.0 .466 9.9 .466 -17.4 .466 12.7 .466 -12.3 .466 4.4 .466 -6.0 .466 -5.3 .466 12.9 .466 4.4 .466 21.9 .466 14.1 .466 3.8 .466 16.8 .466 1.3 .466 13.4 .466 9.3 .466 9.3 .466 -4.2 .466 14.5 .466 4.4 .466 12.9 .466 3.1 .466 21.4 .466 -12.8 .466 -1.6 .466 -0.0 .466 9.3 .466 3.7 .466 -7.0 .466 6.1 .466 9.6 .466 -2.1 .466 -10.2 .466 5.8 .466 5.4 .466 -3.4 .466 -11.3 .466 10.2 .466 -0.4 .466 1.0 .466 12.3 .466 -6.8 .466 14.4 .466 -14.3 .466 6.7 .466 -9.8 .466 7.9 .466 -6.5 .466 3.2 .466 -6.2 .466 8.0 .466 -5.4 .466 8.2 .466 -8.7 .466 1.0 .466 1.0 .466 5.0 .466 -2.7 .466 -4.1 .466 2.3 .466 4.1 .466 1.1 .466 -2.6 .466 -3.5 .466 7.7 .466 -7.0 .466 3.1 .466 1.2 .466 -1.5 .466 -8.9 .466 4.7 .466 5.7 .466 -1.4 .466 2.8 .466 -2.0 .466 -0.1 .466 3.3 .466 1.8 .466 -8.2 .466 5.6 .466 5.2 .466 -13.4 .466 4.5 .466 0.8 .466 0.2 .466 4.1 .466 -18.0 .466 7.2 .466 9.4 .466 -4.5 .466 1.8 .466 -3.7 .466 12.3 .466 -8.1 .466 -6.3 .466 12.0 .466 -4.7 .466 -2.8 .466 -3.2 .466 -3.5 .466 13.5 .466 -8.8 .466 2.1 .466 3.1 .466 -6.8 .466 8.5 .466 -0.7 .466 0.2 .466 -2.2 .466 -0.7 .466 4.5 .466 8.1 .466 -9.8 .466 5.1 .466 -9.3 .466 6.2 .466 -4.8 .466 0.7 .466 -7.0 .466 15.8 .466 -10.6 .466 1.5 .466 1.4 .466 0.7 .466 3.8 .466 -9.0 .466 -0.3 .466 3.7 .466 7.2 .466 -1.1 .466 1.8 .466 -5.0 .466 -14.3 .466 15.1 .466 -2.6 .466 -2.3 .466 2.6 .466 3.6 .466 -1.2 .466 1.5 .466 -1.1 .466 -0.3 .466 -0.2 .466 2.2 .466 -1.1 .466 -0.1 .466 -2.5 .466 -1.5 .466 5.3 .466 -1.6 .466 1.4 .466 -3.8 .466 -9.3 .466 13.4 .466 -6.1 .466 5.6 .466 -9.4 .466 1.9 .466 0.6 .466 0.6 .466 7.1 .466 -12.9 .466 8.1 .466 1.8 .466 -0.2 .466 1.2 .466 -1.3 .466 -4.5 .466 -1.8 .466 8.4 .466 -4.4 .466 -2.2 .466 2.0 .466 -2.8 .466 6.8 .466 -5.3 .466 3.3 .466 -1.3 .466 1.1 .466 5.6 .466 -6.5 .466 -4.2 .466 5.6 .466 -3.2 .466 -0.6 .466 5.3 .466 -5.9 .466 0.7 .466 1.1 .466 3.0 .466 -0.1 .466 -3.5 .466 -12.7 .466 -2.0 .466 10.4 .466 20.7 .466 -16.5 .466 0.4 .466 1.6 .466 -1.8 .466 -3.7 .466 5.4 .466 -5.2 .466 2.0 .466 -8.8 .466 11.0 .466 2.0 .466 -4.5 .466 -6.0 .466 6.1 .466 -2.5 .466 0.8 .466 4.0 .466 -0.4 .466 -0.1 .466 -1.4 .466 1.2 .466 -1.0 .466 -0.7 .466 -5.1 .466 10.3 .466 -5.4 .466 4.7 .466 1.0 .466 -5.7 .466 1.9 .466 -1.1 .466 2.9 .466 8.9 .466 -29.3 .466 21.4 .466 -6.9 .466 -0.4 .466 4.5 .466 -4.3 .466 2.4 .466 -4.5 .466 -7.7 .466 11.8 .466 -3.8 .466 9.4 .466 -15.4 .466 4.6 .466 11.4 .466 -9.1 .466 3.1 .466 -9.9 .466 10.3 .466 -1.7 .466 3.1 .466 -1.9 .466 -0.5 .466 -1.7 .466 0.4 .466 1.9 .466 -3.9 .466 2.2 .466 -6.2 .466 8.7 .466 -3.9 .466 -5.3 .466 1.0 .466 1.0 .466 -5.6 .466 6.0 .466 -0.2 .466 -0.3 .466 -1.7 .466 -3.2 .466 4.8 .466 -3.5 .466 -15.7 .466 16.7 .466 -12.5 .466 8.6 .466 -2.1 .466 4.5 .466 -2.2 .466 -9.7 .466 -0.6 .466 -8.7 .466 2.1 .466 -6.0 .466 -3.1 .466 -5.3 .466 2.9 .466 -12.7 .466 -2.6 .466 -13.2 .466 -9.5 .466 4.0 .466 -23.5 .466 -19.6 .466 -4.1 .466 -5.0 .466 -16.2 .466 -8.3 .466 -14.7 .466 -7.6 .466 -26.0 .466 0.1 .466 -22.9 .466 -6.2 .466 2.1 .466 -18.3 .466 -1.4 .466 -4.0 .466 -4.6 .466 10.8 .466 -4.3 .466 6.9 .466 20.3 .466 9.7 .466 19.1 .466 7.6 .466 11.5 .466 11.8 .466 23.4 .466 9.6 .466 8.8 .466 4.5 .466 17.8 .466 -0.3 .466 13.0 .466 14.0 .466 0.2 .466 7.4 .466 15.6 .466 9.1 .466 -1.5 .466 11.9 .466 -5.1 .466 7.7 .466 2.5 .466 6.9 .466 -0.2 .466 2.2 .466 -5.3 .466 4.6 .466 2.7 .466 5.3 .466 3.8 .466 2.8 .466 -1.4 .466 0.4 .466 1.0 .466 -2.0 .466 -8.1 .466 3.1 .466 -1.4 .466 9.3 .466 0.3 .466 -5.1 .466 2.3 .466 -1.8 .466 8.4 .466 -0.9 .466 -0.7 .466 -0.5 .466 -0.5 .466 -0.0 .466 -3.7 .466 4.6 .466 0.7 .466 0.8 .466 -6.7 .466 11.9 .466 -4.0 .466 -0.1 .466 -3.4 .466 2.5 .466 1.1 .466 -3.8 .466 4.4 .466 -0.4 .466 2.1 .466 -2.2 .466 1.4 .466 5.9 .466 -6.0 .466 -16.6 .466 9.2 .466 5.8 .466 0.5 .466 1.3 .466 -1.2 .466 0.1 .466 -5.9 .466 10.0 .466 -3.2 .466 6.5 .466 -1.1 .466 2.8 .466 -6.8 .466 -7.9 .466 6.3 .466 0.7 .466 -2.3 .466 -5.9 .466 10.4 .466 0.6 .466 -5.7 .466 -8.9 .466 14.1 .466 -0.5 .466 -5.4 .466 0.9 .466 0.9 .466 3.6 .466 3.0 .466 -0.7 .466 -6.5 .466 1.9 .466 1.6 .466 0.8 .466 -3.3 .466 1.3 .466 1.9 .466 0.3 .466 1.2 .466 -1.8 .466 -9.7 .466 7.0 .466 2.8 .466 -1.8 .466 12.2 .466 -12.7 .466 6.3 .466 -6.9 .466 5.2 .466 -0.8 .466 12.5 .466 -12.7 .466 4.7 .466 -1.5 .466 -5.4 .466 1.3 .466 -5.3 .466 2.3 .466 7.3 .466 -7.3 .466 1.5 .466 -1.7 .466 6.2 .466 -6.8 .466 4.4 .466 -4.1 .466 7.1 .466 -7.4 .466 4.6 .466 7.0 .466 -6.4 .466 -0.9 .466 1.6 .466 -2.5 .466 -4.2 .466 6.6 .466 2.5 .466 -6.5 .466 2.0 .466 3.7 .466 -5.4 .466 0.6 .466 0.1 .466 -2.5 .466 8.9 .466 -4.0 .466 0.2 .466 1.1 .466 1.7 .466 -3.9 .466 8.4 .466 -22.8 .466 12.1 .466 -0.9 .466 3.8 .466 1.5 .466 1.4 .466 7.1 .466 -4.6 .466 -6.2 .466 0.3 .466 0.1 .466 -18.8 .466 18.5 .466 1.9 .466 -8.4 .466 5.0 .466 -2.2 .466 -1.1 .466 3.8 .466 0.9 .466 -4.1 .466 5.6 .466 0.1 .466 13.6 .466 -13.0 .466 -11.7 .466 5.8 .466 9.8 .466 -9.3 .466 1.0 .466 2.5 .466 3.1 .466 -3.1 .466 -9.4 .466 8.7 .466 8.7 .466 -10.2 .466 3.9 .466 -3.0 .466 -5.5 .466 6.0 .466 1.0 .466 4.1 .466 -7.1 .466 7.5 .466 -8.4 .466 2.7 .466 0.9 .466 8.3 .466 -8.7 .466 -0.3 .466 -7.0 .466 5.9 .466 3.3 .466 0.9 .466 -2.3 .466 6.8 .466 -14.7 .466 9.4 .466 -1.8 .466 0.9 .466 -1.4 .466 -2.7 .466 0.3 .466 -1.4 .466 5.6 .466 10.2 .466 -14.7 .466 8.4 .466 -3.1 .466 -2.9 .466 -2.0 .466 0.7 .466 11.9 .466 -8.3 .466 11.7 .466 -14.3 .466 -2.0 .466 4.4 .466 -5.7 .466 5.2 .466 0.3 .466 7.1 .466 -5.6 .466 -14.7 .466 5.2 .466 -5.6 .466 13.9 .466 0.2 .466 -0.1 .466 4.0 .466 -7.1 .466 2.9 .466 3.9 .466 -2.5 .466 -2.5 .466 -5.4 .466 0.8 .466 13.5 .466 -12.0 .466 -3.9 .466 10.7 .466 -2.3 .466 -0.7 .466 1.5 .466 -3.4 .466 1.4 .466 -1.0 .466 -1.7 .466 5.0 .466 -2.3 .466 0.1 .466 1.3 .466 0.6 .466 1.4 .466 -1.0 .466 -3.2 .466 -4.0 .466 6.5 .466 -3.6 .466 2.2 .466 4.9 .466 -11.0 .466 5.8 .466 -1.6 .466 2.6 .466 0.2 .466 -2.3 .466 8.7 .466 -6.1 .466 -4.6 .466 6.8 .466 -1.4 .466 -2.0 .466 3.2 .466 -0.1 .466 -3.5 .466 6.5 .466 -4.2 .466 -7.7 .466 3.6 .466 -7.1 .466 11.2 .466 -5.6 .466 4.4 .466 0.2 .466 -6.6 .466 19.4 .466 -6.3 .466 6.5 .466 -14.0 .466 -0.7 .466 -2.2 .466 20.9 .466 -14.4 .466 -6.6 .466 -10.3 .466 17.7 .466 -5.2 .466 1.0 .466 3.5 .466 0.3 .466 -2.6 .466 3.7 .466 -4.1 .466 -0.3 .466 1.3 .466 -0.6 .466 -2.1 .466 4.0 .466 -0.7 .466 -4.9 .466 4.0 .466 -0.3 .466 0.2 .466 0.1 .466 1.1 .466 -1.8 .466 0.4 .466 4.8 .466 -11.6 .466 8.8 .466 -8.8 .466 -3.2 .466 14.2 .466 -8.7 .466 -1.5 .466 9.1 .466 -4.4 .466 1.0 .466 0.9 .466 -0.5 .466 1.8 .466 -2.3 .466 3.1 .466 -3.9 .466 -3.1 .466 6.8 .466 4.4 .466 -3.2 .466 -9.3 .466 5.5 .466 1.3 .466 -0.5 .466 2.6 .466 8.6 .466 -10.8 .466 3.5 .466 -5.4 .466 1.2 .466 4.6 .466 -7.3 .466 3.0 .466 0.4 .466 -2.4 .466 3.6 .466 0.1 .466 -1.4 .466 -3.4 .466 0.6 .466 2.4 .466 -2.7 .466 4.1 .466 0.3 .466 -7.3 .466 6.3 .466 0.5 .466 -0.3 .466 1.6 .466 -1.3 .466 -4.9 .466 1.7 .466 3.1 .466 1.4 .466 -5.2 .466 2.2 .466 -4.1 .466 6.2 .466 1.4 .466 -10.6 .466 10.7 .466 -4.9 .466 0.7 .466 0.4 .466 5.5 .466 -5.9 .466 3.8 .466 11.5 .466 -12.8 .466 -0.1 .466 -0.0 .466 -1.0 .466 -10.1 .466 9.0 .466 -0.3 .466 -2.1 .466 4.8 .466 -4.7 .466 0.1 .466 -2.2 .466 4.0 .466 0.8 .466 6.5 .466 -11.3 .466 7.3 .466 -4.4 .466 5.8 .466 -4.2 .466 1.7 .466 0.1 .466 1.6 .466 1.4 .466 -3.6 .466 -0.2 .466 -1.2 .466 0.5 .466 5.4 .466 -6.6 .466 2.5 .466 -1.8 .466 4.2 .466 -4.2 .466 -1.7 .466 2.3 .466 0.8 .466 -3.5 .466 -2.8 .466 4.5 .466 -4.6 .466 8.7 .466 -3.8 .466 2.6 .466 2.7 .466 -3.8 .466 4.3 .466 -4.5 .466 -6.3 .466 6.3 .466 -0.9 .466 -0.1 .466 0.8 .466 4.2 .466 -1.5 .466 -0.2 .466 -5.4 .466 5.1 .466 0.2 .466 -4.7 .466 9.4 .466 -7.6 .466 4.6 .466 -3.9 .466 -0.1 .466 1.4 .466 1.1 .466 -4.2 .466 3.4 .466 -5.7 .466 1.8 .466 1.5 .466 -11.2 .466 15.5 .466 -3.4 .466 -3.0 .466 3.9 .466 -2.6 .466 -1.5 .466 2.2 .466 -1.3 .466 0.0 .466 8.0 .466 -11.7 .466 6.2 .466 0.1 .466 -0.1 .466 8.2 .466 -17.5 .466 11.9 .466 -9.0 .466 0.9 .466 4.8 .466 0.9 .466 -0.0 .466 -1.8 .466 11.4 .466 -6.2 .466 -3.2 .466 6.5 .466 -8.6 .466 6.2 .466 -5.1 .466 -11.3 .466 17.6 .466 -8.1 .466 -2.1 .466 1.8 .466 4.5 .466 -0.1 .466 2.2 .466 -6.3 .466 -0.3 .466 9.1 .466 -8.7 .466 -2.7 .466 7.7 .466 -5.8 .466 4.0 .466 -2.6 .466 3.0 .466 -2.0 .466 3.9 .466 -5.4 .466 -6.7 .466 7.8 .466 -6.0 .466 4.6 .466 0.2 .466 0.0 .466 -0.5 .466 1.4 .466 2.7 .466 -7.3 .466 9.0 .466 -7.1 .466 6.6 .466 -0.8 .466 -1.7 .466 -0.4 .466 -6.0 .466 12.9 .466 -5.5 .466 -3.3 .466 -1.0 .466 9.3 .466 -5.2 .466 2.4 .466 -0.6 .466 -10.3 .466 12.0 .466 -3.1 .466 -1.3 .466 0.2 .466 -0.0 .466 3.9 .466 -5.8 .466 -4.2 .466 2.8 .466 4.8 .466 -2.3 .466 0.0 .466 6.8 .466 -6.0 .466 -6.1 .466 5.0 .466 0.6 .466 10.2 .466 -14.0 .466 6.0 .466 0.7 .466 -6.5 .466 11.2 .466 -9.0 .466 -4.1 .466 12.1 .466 2.5 .466 -8.6 .466 -2.4 .466 -5.0 .466 13.8 .466 -6.5 .466 9.5 .466 -8.8 .466 1.7 .466 -2.8 .466 -0.3 .466 1.3 .466 -8.8 .466 7.5 .466 1.8 .466 -3.7 .466 -0.7 .466 2.1 .466 -0.5 .466 3.8 .466 -6.6 .466 8.2 .466 -7.6 .466 1.4 .466 2.5 .466 -1.3 .466 -0.3 .466 -5.5 .466 1.2 .466 9.3 .466 8.6 .466 -5.4 .466 -6.5 .466 -3.1 .466 2.7 .466 1.2 .466 -1.2 .466 1.4 .466 -1.4 .466 2.6 .466 1.6 .466 -1.9 .466 -0.9 .466 6.3 .466 -6.2 .466 -7.4 .466 18.5 .466 -6.4 .466 -9.1 .466 0.3 .466 9.9 .466 -7.1 .466 3.1 .466 -0.6 .466 1.4 .466 -4.6 .466 4.2 .466 -3.1 .466 -1.2 .466 0.4 .466 6.1 .466 -6.8 .466 6.0 .466 -3.2 .466 -2.9 .466 -3.9 .466 8.8 .466 -9.0 .466 12.2 .466 -8.4 .466 8.5 .466 -16.9 .466 3.4 .466 11.0 .466 -7.3 .466 0.1 .466 2.7 .466 0.2 .466 -3.1 .466 7.4 .466 -9.6 .466 1.2 .466 13.5 .466 -9.8 .466 -5.5 .466 0.8 .466 3.6 .466 0.4 .466 5.5 .466 -5.3 .466 0.0 .466 0.5 .466 -1.0 .466 0.7 .466 5.4 .466 -0.5 .466 -4.0 .466 -5.3 .466 6.9 .466 -3.1 .466 5.0 .466 -2.3 .466 -1.2 .466 -2.1 .466 2.2 .466 6.6 .466 -5.2 .466 -2.8 .466 2.1 .466 -2.8 .466 -0.1 .466 3.1 .466 2.8 .466 -2.5 .466 -3.2 .466 -1.1 .466 5.3 .466 -4.8 .466 4.0 .466 0.4 .466 -17.8 .466 33.8 .466 0.0 .466 -21.1 .466 1.7 .466 7.3 .466 -8.1 .466 1.3 .466 -3.8 .466 8.2 .466 -4.5 .466 6.7 .466 5.2 .466 -11.0 .466 -1.3 .466 -4.6 .466 8.4 .466 6.6 .466 -16.4 .466 10.1 .466 -5.4 .466 2.1 .466 -0.7 .466 1.4 .466 -1.6 .466 6.2 .466 -13.0 .466 8.7 .466 0.5 .466 6.3 .466 -7.0 .466 -1.0 .466 -2.5 .466 1.5 .466 4.4 .466 -14.4 .466 15.6 .466 -0.6 .466 -3.8 .466 3.4 .466 -5.2 .466 -1.1 .466 5.3 .466 -0.5 .466 -2.8 .466 2.7 .466 -5.8 .466 -3.3 .466 10.8 .466 -3.4 .466 2.3 .466 -2.0 .466 -0.4 .466 5.7 .466 1.0 .466 -6.7 .466 -1.0 .466 -0.0 .466 4.1 .466 -4.3 .466 1.1 .466 -7.5 .466 5.5 .466 6.1 .466 2.0 .466 7.5 .466 -15.5 .466 2.7 .466 -0.2 .466 3.7 .466 -4.7 .466 5.4 .466 -6.6 .466 1.2 .466 -2.1 .466 -1.5 .466 5.6 .466 1.0 .466 -2.8 .466 3.0 .466 -2.1 .466 2.5 .466 -3.5 .466 -1.1 .466 3.1 .466 -4.1 .466 4.8 .466 0.6 .466 -5.3 .466 3.8 .466 -1.3 .466 4.0 .466 -10.1 .466 3.0 .466 1.4 .466 4.8 .466 -5.6 .466 1.1 .466 1.4 .466 2.9 .466 -0.7 .466 -8.3 .466 5.3 .466 6.1 .466 -6.0 .466 -2.3 .466 -1.2 .466 3.5 .466 1.5 .466 7.1 .466 -3.7 .466 0.9 .466 -8.7 .466 -0.7 .466 2.8 .466 2.8 .466 -1.8 .466 4.2 .466 -3.6 .466 10.6 .466 -9.9 .466 -1.8 .466 0.4 .466 3.1 .466 -3.0 .466 -0.2 .466 -3.1 .466 5.9 .466 -2.6 .466 -3.9 .466 3.8 .466 1.5 .466 1.7 .466 4.3 .466 -10.1 .466 3.1 .466 -2.1 .466 0.8 .466 1.5 .466 0.8 .466 -10.6 .466 4.2 .466 8.0 .466 -3.9 .466 -7.4 .466 8.4 .466 -0.6 .466 -1.0 .466 7.1 .466 -2.8 .466 -3.0 .466 3.1 .466 1.8 .466 -6.7 .466 -1.9 .466 2.8 .466 1.6 .466 4.8 .466 -3.4 .466 -0.7 .466 -1.8 .466 1.7 .466 -2.6 .466 -10.4 .466 8.0 .466 3.2 .466 -0.7 .466 5.6 .466 -2.6 .466 0.1 .466 -4.4 .466 3.6 .466 -4.3 .466 4.6 .466 -6.2 .466 1.1 .466 -2.6 .466 5.6 .466 0.5 .466 4.3 .466 -6.3 .466 -0.0 .466 -0.8 .466 4.0 .466 -3.7 .466 3.3 .466 -1.0 .466 -1.3 .466 -0.7 .466 4.2 .466 2.8 .466 -7.3 .466 2.0 .466 4.3 .466 -7.6 .466 -2.7 .466 8.0 .466 -3.7 .466 2.1 .466 6.6 .466 -9.5 .466 2.1 .466 -1.7 .466 7.6 .466 -7.9 .466 0.3 .466 2.2 .466 -4.2 .466 5.8 .466 -6.0 .466 3.7 .466 1.6 .466 -13.3 .466 9.0 .466 0.2 .466 3.7 .466 -4.3 .466 2.1 .466 -4.9 .466 2.0 .466 1.7 .466 -5.9 .466 -0.4 .466 -2.3 .466 2.6 .466 0.1 .466 0.5 .466 1.0 .466 -5.9 .466 3.0 .466 -1.7 .466 2.6 .466 -1.2 .466 1.2 .466 -1.3 .466 -5.7 .466 2.1 .466 -4.1 .466 -0.9 .466 0.2 .466 -4.0 .466 3.0 .466 -14.0 .466 12.1 .466 -9.6 .466 -1.4 .466 -10.7 .466 2.5 .466 -10.1 .466 10.3 .466 -10.8 .466 9.9 .466 -10.9 .466 -12.0 .466 -21.4 .466 12.4 .466 -8.4 .466 13.2 .466 -17.0 .466 5.9 .466 -16.3 .466 3.9 .466 -13.3 .466 4.2 .466 -2.8 .466 0.5 .466 1.9 .466 9.0 .466 -5.3 .466 -8.5 .466 5.0 .466 1.0 .466 12.7 .466 -12.3 .466 6.6 .466 0.3 .466 23.6 .466 -15.9 .466 7.0 .466 -5.4 .466 17.4 .466 -0.5 .466 -3.4 .466 12.1 .466 -4.1 .466 10.1 .466 11.4 .466 -5.9 .466 4.2 .466 5.9 .466 -5.9 .466 2.7 .466 4.4 .466 28.6 .466 -14.9 .466 1.4 .466 -1.1 .466 3.5 .466 -0.4 .466 6.5 .466 0.4 .466 -6.1 .466 4.1 .466 2.6 .466 4.3 .466 -5.9 .466 8.9 .466 -0.7 .466 -6.0 .466 5.1 .466 5.7 .466 0.1 .466 -1.7 .466 -8.3 .466 11.4 .466 -7.1 .466 -3.3 .466 -2.2 .466 8.7 .466 -1.2 .466 0.2 .466 -2.3 .466 3.6 .466 1.3 .466 -2.1 .466 -4.1 .466 -1.4 .466 6.8 .466 -3.5 .466 -4.8 .466 11.3 .466 -12.3 .466 8.8 .466 2.5 .466 -4.8 .466 -0.5 .466 2.4 .466 0.0 .466 -4.0 .466 5.9 .466 13.2 .466 -7.9 .466 -3.6 .466 -3.4 .466 6.3 .466 -12.6 .466 8.3 .466 1.4 .466 1.5 .466 4.1 .466 -6.0 .466 -0.2 .466 1.9 .466 2.8 .466 -8.7 .466 6.6 .466 0.1 .466 -3.1 .466 4.4 .466 -0.3 .466 -8.3 .466 12.4 .466 -8.1 .466 -4.3 .466 3.7 .466 14.7 .466 -14.8 .466 9.0 .466 -7.7 .466 -1.6 .466 5.1 .466 -5.5 .466 3.5 .466 -7.5 .466 3.3 .466 3.1 .466 -1.7 .466 -9.4 .466 10.0 .466 2.0 .466 1.0 .466 1.8 .466 -9.1 .466 7.9 .466 -2.7 .466 2.0 .466 -2.9 .466 0.3 .466 5.5 .466 -3.7 .466 -0.4 .466 2.1 .466 -3.7 .466 5.0 .466 -2.3 .466 1.4 .466 4.3 .466 -5.8 .466 0.1 .466 1.4 .466 -2.0 .466 3.5 .466 -4.7 .466 -1.7 .466 0.3 .466 7.2 .466 -7.0 .466 -2.7 .466 3.7 .466 1.3 .466 1.5 .466 -7.0 .466 4.6 .466 2.8 .466 -2.8 .466 -1.7 .466 7.4 .466 -6.4 .466 -3.0 .466 3.9 .466 1.0 .466 0.9 .466 -0.5 .466 0.5 .466 -2.1 .466 1.7 .466 1.0 .466 0.6 .466 -1.0 .466 -4.0 .466 3.7 .466 1.1 .466 5.0 .466 -3.4 .466 -15.2 .466 19.8 .466 -9.4 .466 0.8 .466 -4.5 .466 3.4 .466 -3.2 .466 3.2 .466 -1.1 .466 -0.8 .466 1.9 .466 4.9 .466 -4.1 .466 -1.5 .466 -4.4 .466 4.6 .466 8.9 .466 -1.3 .466 -2.3 .466 -0.5 .466 0.8 .466 -22.3 .466 23.2 .466 -0.9 .466 -7.0 .466 8.7 .466 -4.6 .466 -3.6 .466 6.5 .466 -10.4 .466 7.1 .466 -1.2 .466 0.9 .466 4.3 .466 -4.5 .466 2.2 .466 -6.4 .466 11.1 .466 -7.6 .466 -4.8 .466 2.4 .466 8.2 .466 -19.0 .466 20.4 .466 -4.1 .466 -3.8 .466 6.0 .466 -9.6 .466 7.0 .466 -3.9 .466 3.7 .466 -9.4 .466 9.7 .466 -1.7 .466 3.2 .466 -3.4 .466 2.6 .466 -3.8 .466 4.5 .466 1.8 .466 -12.4 .466 8.5 .466 -3.1 .466 7.0 .466 1.8 .466 -5.9 .466 -2.7 .466 4.0 .466 -0.9 .466 -4.9 .466 2.1 .466 -4.4 .466 5.3 .466 -2.0 .466 1.2 .466 0.6 .466 2.7 .466 0.8 .466 -4.9 .466 -0.9 .466 3.6 .466 0.2 .466 -1.4 .466 3.3 .466 -5.0 .466 7.2 .466 -4.8 .466 1.8 .466 -3.8 .466 -4.6 .466 7.6 .466 -2.2 .466 0.7 .466 2.6 .466 -2.8 .466 3.0 .466 -4.4 .466 1.8 .466 -0.9 .466 -2.0 .466 3.3 .466 -0.4 .466 0.9 .466 -0.5 .466 -1.9 .466 -0.9 .466 2.7 .466 -0.2 .466 -2.5 .466 1.8 .466 -7.7 .466 2.9 .466 0.6 .466 2.1 .466 3.8 .466 0.5 .466 1.0 .466 -2.8 .466 1.5 .466 -0.6 .466 -4.3 .466 2.0 .466 6.8 .466 -13.7 .466 2.1 .466 6.8 .466 -0.3 .466 0.8 .466 -1.5 .466 2.4 .466 -2.6 .466 0.8 .466 1.4 .466 3.6 .466 -7.7 .466 2.2 .466 -0.1 .466 -5.7 .466 11.2 .466 -3.0 .466 -2.7 .466 -1.0 .466 -0.6 .466 2.0 .466 -1.1 .466 1.6 .466 0.0 .466 0.3 .466 2.6 .466 -0.8 .466 -6.4 .466 -0.2 .466 5.3 .466 -1.0 .466 -18.0 .466 16.6 .466 -1.5 .466 3.3 .466 -2.7 .466 8.7 .466 -1.5 .466 -17.6 .466 14.1 .466 3.7 .466 -6.3 .466 8.8 .466 -10.7 .466 -0.1 .466 -0.4 .466 2.6 .466 2.0 .466 1.8 .466 -7.8 .466 -1.1 .466 2.8 .466 8.3 .466 8.7 .466 -11.2 .466 -7.4 .466 1.2 .466 3.2 .466 1.7 .466 0.4 .466 -0.1 .466 -4.2 .466 6.5 .466 -0.9 .466 -3.7 .466 -0.2 .466 -3.7 .466 3.0 .466 -0.7 .466 2.3 .466 0.9 .466 5.2 .466 -6.5 .466 -1.1 .466 5.4 .466 -7.8 .466 1.8 .466 3.7 .466 -0.1 .466 -1.0 .466 -1.6 .466 -2.2 .466 -2.5 .466 7.3 .466 -0.4 .466 -0.4 .466 0.1 .466 4.4 .466 4.1 .466 -9.8 .466 -1.5 .466 -0.7 .466 0.0 .466 11.0 .466 -8.2 .466 -2.7 .466 0.3 .466 3.7 .466 -1.3 .466 2.0 .466 7.7 .466 -10.7 .466 6.7 .466 -7.7 .466 -0.1 .466 11.5 .466 -7.5 .466 0.3 .466 3.3 .466 -5.5 .466 -0.0 .466 -2.5 .466 2.8 .466 0.5 .466 0.1 .466 -1.9 .466 -2.4 .466 2.2 .466 -4.2 .466 -1.5 .466 2.8 .466 -5.4 .466 13.7 .466 -10.3 .466 4.3 .466 6.5 .466 -7.0 .466 3.0 .466 3.1 .466 -4.3 .466 2.4 .466 -0.4 .466 -4.6 .466 7.7 .466 -3.2 .466 -4.6 .466 7.1 .466 -1.0 .466 2.1 .466 -4.1 .466 1.3 .466 -5.7 .466 8.0 .466 -8.6 .466 4.3 .466 -1.1 .466 1.8 .466 9.4 .466 -3.1 .466 -9.2 .466 4.2 .466 0.3 .466 -13.6 .466 14.9 .466 -3.5 .466 -0.0 .466 -2.5 .466 2.4 .466 -0.6 .466 -10.1 .466 7.0 .466 8.5 .466 -7.0 .466 6.7 .466 -4.6 .466 1.5 .466 -10.0 .466 2.6 .466 -0.3 .466 7.1 .466 -2.0 .466 -3.6 .466 7.5 .466 -4.0 .466 1.6 .466 0.5 .466 -0.5 .466 -0.7 .466 -9.8 .466 7.6 .466 4.3 .466 -0.5 .466 7.1 .466 -19.0 .466 8.1 .466 -1.4 .466 7.0 .466 -1.8 .466 2.0 .466 -5.5 .466 6.4 .466 -11.1 .466 2.1 .466 2.9 .466 3.4 .466 -0.6 .466 -5.4 .466 -0.2 .466 7.2 .466 -2.9 .466 -4.8 .466 -10.9 .466 12.1 .466 -0.0 .466 7.7 .466 -6.5 .466 8.5 .466 -5.9 .466 1.2 .466 -6.3 .466 2.6 .466 0.2 .466 -2.3 .466 4.5 .466 -2.9 .466 0.3 .466 1.3 .466 2.8 .466 5.4 .466 -9.7 .466 9.9 .466 -6.8 .466 -7.1 .466 4.5 .466 5.6 .466 -8.3 .466 3.6 .466 0.0 .466 -2.1 .466 5.0 .466 -1.2 .466 -3.1 .466 8.6 .466 -4.4 .466 2.6 .466 3.3 .466 -8.3 .466 0.2 .466 1.3 .466 -7.8 .466 10.6 .466 0.9 .466 -2.0 .466 -2.3 .466 3.6 .466 -2.1 .466 2.6 .466 -3.0 .466 -1.8 .466 0.3 .466 2.2 .466 -5.9 .466 8.5 .466 1.9 .466 -1.8 .466 -4.6 .466 -13.3 .466 17.6 .466 -7.2 .466 -11.1 .466 13.4 .466 5.7 .466 -4.7 .466 -3.0 .466 -2.1 .466 4.5 .466 -1.5 .466 -2.3 .466 1.7 .466 5.3 .466 -3.0 .466 -1.2 .466 -3.1 .466 2.9 .466 -5.3 .466 7.8 .466 -0.5 .466 -3.2 .466 1.2 .466 0.3 .466 -1.4 .466 8.1 .466 -8.2 .466 5.1 .466 4.0 .466 -8.8 .466 -5.2 .466 6.9 .466 -1.9 .466 0.2 .466 6.8 .466 -12.5 .466 10.1 .466 -5.8 .466 -3.0 .466 0.3 .466 0.1 .466 1.7 .466 6.4 .466 -5.8 .466 -1.8 .466 3.6 .466 -4.9 .466 -3.8 .466 1.4 .466 8.7 .466 -6.2 .466 -3.2 .466 6.3 .466 -11.2 .466 7.9 .466 -0.6 .466 -8.3 .466 -0.0 .466 -3.0 .466 -6.9 .466 4.9 .466 7.0 .466 -12.1 .466 3.0 .466 -0.2 .466 -5.3 .466 0.9 .466 0.2 .466 1.7 .466 2.2 .466 -7.4 .466 1.8 .466 0.1 .466 -1.4 .466 2.9 .466 3.8 .466 -8.4 .466 1.4 .466 -7.2 .466 -0.6 .466 11.6 .466 -3.2 .466 1.5 .466 24.4 .466 -20.9 .466 1.9 .466 -0.6 .466 6.8 .466 -6.5 .466 2.2 .466 3.2 .466 8.9 .466 -7.9 .466 5.3 .466 -2.7 .466 2.9 .466 -4.5 .466 9.3 .466 -2.0 .466 -0.9 .466 5.8 .466 -6.6 .466 1.8 .466 5.2 .466 3.9 .466 3.6 .466 -8.7 .466 2.8 .466 -1.4 .466 -1.9 .466 11.3 .466 -9.6 .466 4.6 .466 -7.0 .466 1.8 .466 -5.5 .466 7.0 .466 -9.9 .466 11.8 .466 1.2 .466 5.3 .466 -3.0 .466 2.3 .466 -3.8 .466 2.5 .466 -4.1 .466 2.6 .466 -2.5 .466 2.2 .466 -1.6 .466 1.1 .466 0.2 .466 0.4 .466 -5.7 .466 -0.4 .466 8.1 .466 -14.9 .466 12.2 .466 -2.7 .466 -0.5 .466 3.1 .466 -4.3 .466 -0.7 .466 6.8 .466 3.8 .466 -1.8 .466 1.4 .466 -5.1 .466 3.6 .466 -8.7 .466 3.8 .466 1.8 .466 0.9 .466 0.1 .466 7.3 .466 -4.3 .466 -8.2 .466 13.1 .466 -8.7 .466 3.6 .466 -8.7 .466 11.4 .466 -6.1 .466 1.8 .466 -0.1 .466 -2.2 .466 -0.3 .466 -2.4 .466 0.3 .466 6.1 .466 -1.7 .466 0.6 .466 3.9 .466 -13.6 .466 4.8 .466 6.3 .466 1.3 .466 -4.0 .466 4.2 .466 0.6 .466 1.3 .466 -3.5 .466 3.5 .466 -3.8 .466 -4.7 .466 0.1 .466 2.8 .466 0.9 .466 -6.2 .466 16.2 .466 -13.3 .466 5.5 .466 -7.4 .466 -7.6 .466 10.8 .466 19.0 .466 -20.9 .466 -6.7 .466 9.8 .466 7.3 .466 -5.8 .466 -2.0 .466 -3.2 .466 5.0 .466 -1.2 .466 11.8 .466 -11.2 .466 -3.3 .466 5.5 .466 3.3 .466 -2.3 .466 -3.6 .466 6.4 .466 -6.7 .466 -1.5 .466 -0.6 .466 -1.8 .466 13.7 .466 -6.9 .466 5.8 .466 -7.5 .466 -2.0 .466 1.0 .466 -1.2 .466 -3.4 .466 3.3 .466 -4.5 .466 7.9 .466 -6.4 .466 3.4 .466 0.8 .466 1.3 .466 -3.0 .466 4.5 .466 -5.6 .466 11.9 .466 -1.0 .466 -12.7 .466 4.7 .466 -2.3 .466 -0.5 .466 1.2 .466 2.3 .466 4.5 .466 0.8 .466 -7.3 .466 -1.1 .466 2.9 .466 3.2 .466 -4.0 .466 3.6 .466 -16.5 .466 8.1 .466 -4.5 .466 10.6 .466 -5.9 .466 2.1 .466 -1.4 .466 0.1 .466 -1.5 .466 -3.2 .466 3.2 .466 -4.6 .466 2.1 .466 -7.5 .466 6.7 .466 -0.5 .466 11.0 .466 -5.1 .466 -5.7 .466 -1.3 .466 3.2 .466 4.8 .466 -6.6 .466 -0.8 .466 -4.3 .466 1.2 .466 -3.6 .466 -0.3 .466 0.9 .466 0.1 .466 -4.7 .466 1.1 .466 0.7 .466 1.6 .466 -10.2 .466 8.6 .466 5.8 .466 -5.8 .466 3.2 .466 -2.6 .466 5.0 .466 -5.0 .466 3.1 .466 -2.4 .466 -0.7 .466 4.9 .466 1.0 .466 3.4 .466 -6.5 .466 0.7 .466 6.6 .466 -12.8 .466 10.1 .466 0.7 .466 -1.5 .466 -0.3 .466 6.3 .466 -1.8 .466 18.9 .466 -16.2 .466 -1.8 .466 1.2 .466 1.4 .466 4.0 .466 -2.4 .466 -5.3 .466 7.2 .466 -4.1 .466 -1.3 .466 6.0 .466 -2.1 .466 0.4 .466 5.2 .466 -11.4 .466 6.0 .466 -1.1 .466 -4.1 .466 8.7 .466 -0.4 .466 -2.2 .466 -1.0 .466 2.1 .466 -3.3 .466 5.9 .466 -9.9 .466 8.7 .466 -0.8 .466 -2.1 .466 -2.1 .466 3.8 .466 1.5 .466 -1.5 .466 2.6 .466 -7.9 .466 5.6 .466 1.8 .466 -5.8 .466 3.0 .466 2.4 .466 -0.0 .466 0.2 .466 -2.4 .466 1.6 .466 -2.6 .466 0.0 .466 -0.7 .466 12.8 .466 -20.4 .466 13.8 .466 -4.4 .466 0.3 .466 3.5 .466 -3.1 .466 0.0 .466 0.5 .466 -2.1 .466 2.1 .466 2.9 .466 -11.8 .466 7.2 .466 -2.2 .466 -0.6 .466 8.6 .466 -2.9 .466 9.1 .466 -7.4 .466 -5.8 .466 0.8 .466 4.1 .466 -1.9 .466 -1.6 .466 1.5 .466 -1.4 .466 7.3 .466 -5.5 .466 -4.3 .466 2.0 .466 2.5 .466 3.3 .466 0.3 .466 -2.7 .466 -1.9 .466 -2.6 .466 -4.5 .466 10.8 .466 -1.8 .466 -1.3 .466 -0.1 .466 1.1 .466 -0.7 .466 -15.1 .466 16.0 .466 -0.3 .466 -3.0 .466 2.2 .466 7.5 .466 -6.1 .466 0.1 .466 -2.0 .466 0.0 .466 5.3 .466 0.9 .466 -4.0 .466 0.1 .466 -0.3 .466 -1.3 .466 -4.0 .466 4.4 .466 -0.3 .466 1.6 .466 -1.1 .466 -6.6 .466 3.1 .466 10.6 .466 -6.7 .466 5.9 .466 -9.8 .466 2.4 .466 2.4 .466 -1.3 .466 0.9 .466 3.5 .466 2.3 .466 -4.6 .466 -1.9 .466 1.1 .466 -1.2 .466 3.6 .466 3.0 .466 -6.5 .466 2.0 .466 -1.1 .466 2.1 .466 -5.7 .466 6.4 .466 -4.1 .466 4.8 .466 -4.6 .466 0.4 .466 -3.4 .466 4.1 .466 -1.6 .466 -2.7 .466 3.2 .466 -6.5 .466 -10.0 .466 16.7 .466 0.6 .466 -1.9 .466 3.2 .466 -10.5 .466 6.2 .466 2.3 .466 0.5 .466 0.8 .466 -0.2 .466 -0.7 .466 4.9 .466 -5.8 .466 -8.7 .466 10.4 .466 -2.8 .466 -0.8 .466 2.6 .466 11.1 .466 -10.8 .466 2.8 .466 1.3 .466 -3.1 .466 4.9 .466 -0.7 .466 -4.8 .466 0.8 .466 -1.2 .466 6.6 .466 -10.0 .466 6.9 .466 5.7 .466 -2.0 .466 -5.5 .466 3.8 .466 3.3 .466 -8.7 .466 1.1 .466 -3.6 .466 1.6 .466 1.6 .466 2.4 .466 -1.7 .466 3.3 .466 -3.8 .466 10.1 .466 0.8 .466 -11.6 .466 2.3 .466 2.0 .466 -0.2 .466 -2.0 .466 -9.9 .466 9.4 .466 2.8 .466 -4.0 .466 -0.4 .466 3.0 .466 -2.0 .466 11.9 .466 -9.2 .466 -1.8 .466 0.5 .466 -1.2 .466 5.5 .466 -3.6 .466 0.7 .466 -1.9 .466 -7.9 .466 -4.9 .466 12.5 .466 -7.2 .466 13.3 .466 -6.2 .466 0.5 .466 -3.0 .466 4.4 .466 -1.4 .466 -3.2 .466 2.8 .466 -5.1 .466 8.1 .466 -3.2 .466 1.7 .466 -1.9 .466 -0.4 .466 -6.9 .466 9.5 .466 -0.8 .466 -1.9 .466 17.8 .466 -15.7 .466 2.0 .466 -4.6 .466 -1.2 .466 5.3 .466 -3.1 .466 -0.8 .466 16.2 .466 -13.8 .466 -0.6 .466 -5.6 .466 7.0 .466 -0.6 .466 -4.2 .466 4.8 .466 -0.0 .466 1.3 .466 -1.4 .466 -2.2 .466 4.0 .466 -5.5 .466 10.9 .466 -5.7 .466 -3.3 .466 8.7 .466 -2.9 .466 -10.4 .466 5.3 .466 -5.3 .466 -3.7 .466 13.8 .466 3.5 .466 -6.7 .466 0.7 .466 -0.7 .466 0.2 .466 -0.5 .466 -1.1 .466 -0.5 .466 -6.3 .466 5.5 .466 -0.2 .466 2.9 .466 2.0 .466 -0.3 .466 -2.3 .466 0.9 .466 -8.5 .466 2.8 .466 8.5 .466 -3.9 .466 0.2 .466 -0.9 .466 2.7 .466 -3.8 .466 2.5 .466 -0.4 .466 -0.2 .466 -1.2 .466 -0.9 .466 -1.3 .466 6.9 .466 -8.4 .466 3.1 .466 1.2 .466 -11.6 .466 14.9 .466 -2.7 .466 -0.7 .466 -0.1 .466 1.4 .466 -0.4 .466 -3.0 .466 2.9 .466 -1.2 .466 2.3 .466 0.6 .466 -5.6 .466 -7.0 .466 9.8 .466 5.4 .466 -14.4 .466 12.2 .466 7.1 .466 -16.5 .466 3.4 .466 6.5 .466 -1.2 .466 -3.8 .466 2.5 .466 12.8 .466 -20.3 .466 9.1 .466 -0.5 .466 1.6 .466 -3.4 .466 -4.8 .466 3.9 .466 0.2 .466 4.9 .466 -1.7 .466 -7.8 .466 9.0 .466 -1.9 .466 -2.5 .466 -3.6 .466 5.3 .466 -5.3 .466 -6.4 .466 8.7 .466 1.5 .466 -1.8 .466 -2.3 .466 6.9 .466 -0.7 .466 -7.1 .466 5.7 .466 0.7 .466 2.5 .466 -2.5 .466 4.3 .466 -0.6 .466 -3.2 .466 2.7 .466 -1.5 .466 -3.9 .466 -5.3 .466 2.9 .466 5.7 .466 -4.8 .466 3.7 .466 0.2 .466 -0.6 .466 7.5 .466 -3.4 .466 -5.1 .466 -3.1 .466 3.5 .466 -1.5 .466 2.4 .466 -3.1 .466 2.8 .466 -0.7 .466 0.7 .466 0.5 .466 9.4 .466 -12.5 .466 -3.3 .466 5.2 .466 3.0 .466 0.9 .466 -2.3 .466 3.5 .466 0.7 .466 -7.8 .466 6.1 .466 0.3 .466 -7.2 .466 4.8 .466 -0.4 .466 1.4 .466 -3.5 .466 5.7 .466 -8.4 .466 3.8 .466 16.9 .466 -6.0 .466 -11.5 .466 11.8 .466 -11.1 .466 1.3 .466 1.5 .466 -2.7 .466 -3.8 .466 4.0 .466 -1.7 .466 -0.4 .466 2.9 .466 1.0 .466 -0.5 .466 8.4 .466 4.0 .466 -11.8 .466 5.0 .466 -15.9 .466 15.0 .466 -6.3 .466 2.7 .466 5.5 .466 -8.2 .466 0.4 .466 -15.8 .466 14.6 .466 -3.9 .466 5.9 .466 -3.3 .466 4.2 .466 -4.2 .466 7.0 .466 -8.0 .466 4.8 .466 1.4 .466 -4.9 .466 11.4 .466 -13.2 .466 7.8 .466 -2.9 .466 -4.7 .466 3.7 .466 4.0 .466 -0.9 .466 -4.7 .466 -4.9 .466 4.2 .466 10.1 .466 -10.1 .466 3.5 .466 1.8 .466 -3.2 .466 0.3 .466 1.0 .466 1.1 .466 0.1 .466 1.7 .466 -5.1 .466 -2.4 .466 1.6 .466 0.5 .466 0.8 .466 -2.3 .466 -0.0 .466 5.7 .466 -2.7 .466 0.3 .466 2.9 .466 -7.5 .466 5.0 .466 -0.6 .466 1.3 .466 -6.2 .466 8.4 .466 -4.4 .466 1.9 .466 -2.3 .466 5.0 .466 -4.9 .466 -6.4 .466 4.2 .466 4.2 .466 1.4 .466 -3.3 .466 -2.9 .466 3.6" fill="none" stroke="#00FF00" stroke-width="11" stroke-linejoin="round" stroke-linecap="round" shape-rendering="crispEdges"/>
<path d="M215.0 825.7l.466 0.5 .466 5.3 .466 -9.3 .466 6.8 .466 1.4 .466 -5.5 .466 -4.2 .466 5.6 .466 3.4 .466 -0.8 .466 -4.6 .466 3.8 .466 1.9 .466 -1.9 .466 1.7 .466 8.4 .466 -7.8 .466 -2.4 .466 -2.5 .466 2.1 .466 1.4 .466 5.3 .466 -2.5 .466 -4.3 .466 8.1 .466 -6.7 .466 2.0 .466 -7.0 .466 -0.1 .466 2.3 .466 8.3 .466 -3.5 .466 2.6 .466 -2.9 .466 -1.9 .466 0.9 .466 0.6 .466 3.8 .466 -4.9 .466 5.8 .466 -4.4 .466 2.8 .466 -3.7 .466 1.7 .466 -3.0 .466 1.6 .466 -3.1 .466 -2.6 .466 -3.3 .466 10.7 .466 -2.1 .466 5.8 .466 -1.6 .466 -4.7 .466 11.0 .466 -9.4 .466 1.9 .466 -3.3 .466 -2.5 .466 -0.5 .466 0.2 .466 4.3 .466 -5.9 .466 -6.0 .466 14.9 .466 -9.3 .466 5.2 .466 0.3 .466 1.0 .466 -0.9 .466 7.1 .466 -4.7 .466 -1.9 .466 0.4 .466 -0.9 .466 9.1 .466 -11.9 .466 4.4 .466 -1.2 .466 -9.0 .466 6.7 .466 8.5 .466 -3.8 .466 -15.5 .466 10.8 .466 -11.8 .466 17.2 .466 -8.9 .466 -2.2 .466 18.9 .466 -11.9 .466 -1.2 .466 -6.4 .466 7.1 .466 -0.2 .466 1.2 .466 -15.0 .466 10.6 .466 1.2 .466 2.5 .466 -1.3 .466 2.6 .466 -2.9 .466 7.9 .466 2.9 .466 -16.2 .466 4.3 .466 3.4 .466 2.2 .466 -9.8 .466 3.6 .466 3.1 .466 1.8 .466 4.2 .466 -1.1 .466 -1.6 .466 -10.9 .466 18.4 .466 -9.7 .466 -7.1 .466 3.8 .466 3.2 .466 -1.9 .466 0.5 .466 3.6 .466 0.3 .466 -3.3 .466 2.7 .466 -3.8 .466 11.0 .466 -9.5 .466 8.6 .466 -18.0 .466 13.5 .466 -4.7 .466 1.5 .466 -5.3 .466 3.7 .466 -2.3 .466 -3.6 .466 -12.2 .466 23.4 .466 -4.4 .466 -4.6 .466 0.7 .466 2.0 .466 3.8 .466 -8.6 .466 14.5 .466 -1.9 .466 -10.2 .466 3.6 .466 -2.3 .466 2.8 .466 -7.9 .466 5.9 .466 0.8 .466 0.3 .466 0.7 .466 3.6 .466 -8.0 .466 -1.6 .466 3.2 .466 1.4 .466 8.3 .466 -7.0 .466 0.3 .466 7.9 .466 -12.4 .466 -0.2 .466 1.7 .466 -1.3 .466 3.1 .466 6.8 .466 -12.3 .466 4.2 .466 1.4 .466 -1.7 .466 6.2 .466 -3.9 .466 2.7 .466 -10.3 .466 1.9 .466 -3.9 .466 10.9 .466 5.3 .466 -21.8 .466 15.6 .466 -0.9 .466 3.7 .466 -8.1 .466 4.1 .466 -4.7 .466 -4.0 .466 8.9 .466 -11.1 .466 10.4 .466 -3.8 .466 1.8 .466 5.5 .466 -8.0 .466 2.2 .466 -1.0 .466 -2.2 .466 3.1 .466 -3.4 .466 6.7 .466 -2.3 .466 -3.0 .466 12.3 .466 -11.7 .466 2.7 .466 0.7 .466 -4.5 .466 -11.1 .466 18.6 .466 3.2 .466 -12.6 .466 -0.4 .466 3.6 .466 1.2 .466 12.8 .466 -4.4 .466 3.9 .466 -15.8 .466 3.2 .466 -1.3 .466 -2.3 .466 -4.6 .466 3.3 .466 2.6 .466 -5.0 .466 1.8 .466 -4.4 .466 9.5 .466 -1.1 .466 -2.6 .466 2.7 .466 -0.8 .466 1.8 .466 5.8 .466 -8.5 .466 2.4 .466 -4.3 .466 10.5 .466 -6.7 .466 -5.2 .466 1.7 .466 -1.8 .466 0.3 .466 1.9 .466 5.4 .466 -4.2 .466 -1.8 .466 1.4 .466 -1.7 .466 4.4 .466 -10.1 .466 5.7 .466 0.3 .466 -2.2 .466 5.9 .466 -6.1 .466 1.8 .466 -6.2 .466 10.4 .466 -3.8 .466 2.4 .466 -4.5 .466 -8.4 .466 9.7 .466 4.4 .466 1.0 .466 -5.4 .466 5.5 .466 -12.8 .466 8.4 .466 -2.6 .466 1.8 .466 -2.6 .466 8.5 .466 -7.6 .466 9.8 .466 -13.7 .466 4.9 .466 -0.1 .466 2.3 .466 -3.4 .466 1.1 .466 -7.2 .466 5.3 .466 3.7 .466 -8.0 .466 5.3 .466 -2.6 .466 -1.5 .466 -1.3 .466 8.7 .466 -2.1 .466 -2.9 .466 -0.1 .466 3.0 .466 -1.6 .466 5.6 .466 -0.0 .466 -7.1 .466 1.4 .466 -1.3 .466 -2.3 .466 1.2 .466 2.4 .466 -2.0 .466 0.6 .466 -1.5 .466 8.7 .466 -6.0 .466 -8.2 .466 8.5 .466 2.8 .466 -3.2 .466 -5.3 .466 0.0 .466 -1.8 .466 -5.7 .466 7.8 .466 4.6 .466 -1.9 .466 -1.7 .466 2.8 .466 -3.2 .466 -4.8 .466 6.4 .466 -4.9 .466 6.7 .466 -7.6 .466 -5.1 .466 8.6 .466 -8.4 .466 10.8 .466 -6.1 .466 3.6 .466 -12.0 .466 8.8 .466 1.1 .466 -7.1 .466 5.9 .466 -6.0 .466 2.7 .466 0.5 .466 2.0 .466 -6.5 .466 1.1 .466 6.9 .466 -1.3 .466 -2.8 .466 -2.0 .466 3.9 .466 -2.4 .466 -1.8 .466 7.0 .466 -9.1 .466 7.0 .466 -2.9 .466 0.1 .466 0.2 .466 0.7 .466 2.8 .466 1.3 .466 -10.0 .466 -2.0 .466 10.4 .466 -9.9 .466 0.1 .466 6.7 .466 6.7 .466 -6.2 .466 -4.7 .466 -1.4 .466 15.9 .466 -12.6 .466 -1.6 .466 -16.5 .466 11.2 .466 -10.8 .466 20.9 .466 -9.9 .466 -1.4 .466 4.8 .466 -4.5 .466 3.8 .466 8.6 .466 -4.2 .466 -8.3 .466 9.9 .466 -8.3 .466 0.9 .466 -2.1 .466 25.7 .466 -26.3 .466 4.3 .466 -1.7 .466 0.6 .466 -8.4 .466 6.4 .466 20.3 .466 -20.4 .466 -4.6 .466 -5.5 .466 7.2 .466 4.3 .466 -15.2 .466 2.5 .466 10.9 .466 4.1 .466 -6.6 .466 1.5 .466 -4.1 .466 0.0 .466 2.1 .466 -3.4 .466 2.8 .466 -4.8 .466 12.6 .466 -6.5 .466 -8.5 .466 2.7 .466 8.1 .466 -5.8 .466 -1.7 .466 -10.1 .466 14.2 .466 -1.3 .466 3.9 .466 -9.4 .466 7.2 .466 1.3 .466 -0.3 .466 -1.7 .466 -3.5 .466 -9.5 .466 11.1 .466 -14.0 .466 4.8 .466 6.4 .466 -5.3 .466 5.3 .466 5.3 .466 -9.6 .466 8.0 .466 18.3 .466 -33.3 .466 10.0 .466 2.8 .466 0.2 .466 -5.2 .466 6.3 .466 -5.5 .466 -2.7 .466 3.8 .466 0.8 .466 3.5 .466 -3.2 .466 -9.4 .466 8.1 .466 -2.4 .466 3.7 .466 -12.6 .466 11.7 .466 1.9 .466 -14.5 .466 -4.2 .466 21.1 .466 0.1 .466 -11.2 .466 12.2 .466 -8.9 .466 0.9 .466 -0.5 .466 -1.6 .466 7.9 .466 -5.3 .466 7.4 .466 -7.5 .466 6.8 .466 -8.0 .466 -0.5 .466 0.8 .466 -19.6 .466 22.1 .466 -8.8 .466 14.7 .466 -19.8 .466 12.6 .466 0.9 .466 -3.0 .466 -7.5 .466 11.1 .466 -6.1 .466 -0.6 .466 4.4 .466 10.1 .466 -19.4 .466 6.4 .466 2.3 .466 -4.4 .466 10.6 .466 -7.3 .466 -9.1 .466 3.0 .466 -0.4 .466 4.9 .466 7.7 .466 -13.9 .466 1.2 .466 1.4 .466 4.3 .466 -1.4 .466 -0.1 .466 -4.7 .466 9.8 .466 -4.7 .466 5.8 .466 -17.8 .466 11.6 .466 -0.9 .466 6.2 .466 -2.9 .466 -2.0 .466 -5.1 .466 6.8 .466 4.8 .466 -3.3 .466 8.2 .466 -10.8 .466 -2.9 .466 -1.5 .466 7.4 .466 0.3 .466 -2.9 .466 2.2 .466 -3.7 .466 5.4 .466 -3.1 .466 -5.2 .466 3.9 .466 0.8 .466 -5.5 .466 12.8 .466 -4.8 .466 -9.4 .466 1.8 .466 -19.9 .466 32.6 .466 -13.6 .466 9.3 .466 -4.7 .466 -9.4 .466 5.7 .466 0.8 .466 6.1 .466 -4.5 .466 -4.1 .466 15.1 .466 -9.5 .466 -8.8 .466 21.3 .466 -10.7 .466 -2.4 .466 -4.7 .466 7.4 .466 -9.1 .466 16.1 .466 -6.0 .466 -0.6 .466 1.0 .466 2.3 .466 -5.9 .466 4.5 .466 -10.6 .466 8.7 .466 0.8 .466 -6.7 .466 -2.7 .466 14.2 .466 -1.1 .466 -13.1 .466 7.4 .466 -5.2 .466 0.6 .466 12.3 .466 -6.7 .466 1.4 .466 -5.5 .466 5.9 .466 -1.6 .466 -3.4 .466 1.6 .466 -2.9 .466 3.9 .466 -5.1 .466 3.8 .466 5.8 .466 -3.7 .466 -0.6 .466 -7.3 .466 10.8 .466 -3.2 .466 8.6 .466 -1.0 .466 -0.1 .466 -8.2 .466 3.0 .466 -10.1 .466 -3.5 .466 14.1 .466 -1.8 .466 7.8 .466 -11.7 .466 2.1 .466 3.8 .466 -2.6 .466 4.1 .466 -6.1 .466 6.1 .466 0.5 .466 1.6 .466 -8.0 .466 8.3 .466 -9.3 .466 3.0 .466 12.9 .466 -12.2 .466 -0.5 .466 -2.2 .466 1.5 .466 -0.1 .466 2.0 .466 -1.5 .466 -2.2 .466 -2.1 .466 19.8 .466 -14.5 .466 -5.6 .466 2.9 .466 3.3 .466 -4.6 .466 9.9 .466 -6.2 .466 1.6 .466 -0.2 .466 -6.4 .466 13.4 .466 -3.4 .466 -10.1 .466 5.9 .466 -0.2 .466 -2.2 .466 0.9 .466 -1.5 .466 4.2 .466 -1.8 .466 -6.0 .466 3.5 .466 -1.6 .466 6.5 .466 -0.7 .466 -1.4 .466 1.6 .466 1.0 .466 -4.7 .466 -5.6 .466 20.3 .466 -15.0 .466 1.3 .466 5.4 .466 12.9 .466 -20.7 .466 5.1 .466 6.3 .466 -12.6 .466 4.7 .466 4.1 .466 3.6 .466 -11.0 .466 6.0 .466 1.8 .466 -0.3 .466 0.0 .466 17.7 .466 -3.3 .466 -17.9 .466 1.0 .466 2.0 .466 -5.6 .466 1.7 .466 5.9 .466 14.7 .466 -17.2 .466 -1.5 .466 5.1 .466 -3.0 .466 -12.7 .466 8.2 .466 13.0 .466 -12.0 .466 7.9 .466 -1.9 .466 4.1 .466 -2.9 .466 -3.1 .466 -0.2 .466 0.7 .466 0.1 .466 0.5 .466 1.0 .466 3.2 .466 -0.5 .466 -8.2 .466 7.7 .466 8.9 .466 0.8 .466 -10.2 .466 -2.7 .466 2.7 .466 -3.0 .466 3.0 .466 10.6 .466 -1.8 .466 -5.9 .466 1.0 .466 1.9 .466 0.2 .466 0.1 .466 0.8 .466 -1.6 .466 -5.9 .466 7.4 .466 0.0 .466 -6.0 .466 1.0 .466 5.2 .466 -2.1 .466 5.1 .466 -6.0 .466 4.1 .466 -0.3 .466 -6.9 .466 3.9 .466 1.1 .466 -0.4 .466 -4.6 .466 4.0 .466 3.5 .466 -3.3 .466 4.6 .466 -1.8 .466 0.6 .466 -2.9 .466 7.1 .466 -10.6 .466 16.3 .466 -7.7 .466 8.1 .466 -8.1 .466 -1.6 .466 0.4 .466 9.1 .466 -7.3 .466 -0.9 .466 -3.5 .466 0.1 .466 4.2 .466 0.5 .466 4.2 .466 -9.0 .466 5.4 .466 -4.6 .466 2.7 .466 2.8 .466 5.7 .466 -10.5 .466 1.3 .466 6.3 .466 -1.6 .466 -6.8 .466 8.6 .466 8.1 .466 -7.0 .466 16.9 .466 -16.5 .466 -4.0 .466 5.3 .466 -2.8 .466 -6.9 .466 5.4 .466 10.0 .466 -7.0 .466 -2.5 .466 3.4 .466 -0.2 .466 -6.0 .466 4.2 .466 4.1 .466 -9.1 .466 6.1 .466 -5.7 .466 3.3 .466 5.4 .466 -4.1 .466 5.4 .466 -1.5 .466 -1.0 .466 -5.7 .466 4.4 .466 5.9 .466 -4.1 .466 -8.6 .466 7.7 .466 -0.2 .466 0.3 .466 -0.5 .466 4.6 .466 -3.4 .466 4.7 .466 4.3 .466 -2.9 .466 -2.9 .466 -14.7 .466 -9.3 .466 17.4 .466 4.3 .466 -2.0 .466 -2.9 .466 12.3 .466 -7.6 .466 -2.8 .466 3.6 .466 12.5 .466 -10.1 .466 5.0 .466 -12.5 .466 8.1 .466 -3.8 .466 0.3 .466 1.0 .466 0.2 .466 3.6 .466 -5.1 .466 1.8 .466 -0.2 .466 1.7 .466 -0.4 .466 -9.2 .466 13.5 .466 -3.2 .466 -5.6 .466 4.5 .466 6.1 .466 -0.5 .466 -6.1 .466 -1.8 .466 11.5 .466 -6.2 .466 -0.8 .466 -2.1 .466 5.7 .466 -8.3 .466 7.5 .466 -0.4 .466 -3.2 .466 -1.2 .466 3.0 .466 -2.6 .466 0.3 .466 -1.4 .466 5.4 .466 -7.3 .466 4.4 .466 -0.4 .466 13.8 .466 -18.7 .466 6.2 .466 -3.4 .466 11.5 .466 -13.5 .466 11.8 .466 -5.3 .466 -4.7 .466 3.0 .466 -1.5 .466 2.1 .466 4.1 .466 -3.9 .466 13.1 .466 -6.4 .466 -9.4 .466 -1.7 .466 6.6 .466 -2.8 .466 -1.0 .466 9.3 .466 -6.2 .466 -2.8 .466 2.8 .466 -0.0 .466 3.0 .466 -4.0 .466 0.8 .466 -4.3 .466 8.8 .466 2.3 .466 -26.4 .466 22.5 .466 8.1 .466 -5.9 .466 -1.2 .466 -6.4 .466 17.7 .466 -15.5 .466 5.6 .466 -1.5 .466 -2.0 .466 8.8 .466 -0.7 .466 -9.3 .466 0.3 .466 6.2 .466 -6.2 .466 5.3 .466 -7.7 .466 0.4 .466 1.7 .466 -0.8 .466 1.4 .466 -2.5 .466 -1.0 .466 3.1 .466 -2.7 .466 2.4 .466 0.6 .466 8.6 .466 -8.3 .466 1.4 .466 6.1 .466 -7.2 .466 -1.6 .466 2.7 .466 3.3 .466 -5.8 .466 4.4 .466 -2.4 .466 0.4 .466 1.1 .466 -1.4 .466 -3.3 .466 0.8 .466 -5.5 .466 13.6 .466 -3.8 .466 6.3 .466 -9.2 .466 2.2 .466 0.1 .466 -5.1 .466 5.1 .466 0.5 .466 -1.3 .466 -0.8 .466 -1.3 .466 -4.0 .466 7.6 .466 -4.1 .466 -3.1 .466 18.7 .466 -6.7 .466 -6.5 .466 1.0 .466 -2.9 .466 16.1 .466 -14.6 .466 5.8 .466 -1.5 .466 -14.5 .466 2.9 .466 8.9 .466 -9.4 .466 16.4 .466 3.7 .466 -9.1 .466 -2.6 .466 -1.2 .466 -1.6 .466 5.2 .466 -4.5 .466 1.2 .466 5.1 .466 2.7 .466 -3.6 .466 7.7 .466 -5.0 .466 -4.1 .466 -0.6 .466 -2.0 .466 6.6 .466 -3.1 .466 4.9 .466 -4.9 .466 5.1 .466 -2.8 .466 -1.4 .466 1.8 .466 0.0 .466 -10.5 .466 11.9 .466 -8.7 .466 5.8 .466 -0.3 .466 2.8 .466 -5.4 .466 4.7 .466 1.4 .466 -4.2 .466 2.0 .466 -1.2 .466 3.3 .466 2.7 .466 -4.9 .466 -13.1 .466 19.7 .466 -5.7 .466 -4.1 .466 5.9 .466 -2.5 .466 -3.2 .466 2.5 .466 2.3 .466 -2.2 .466 -2.9 .466 -3.1 .466 6.8 .466 3.2 .466 -3.3 .466 0.7 .466 4.0 .466 -2.0 .466 10.8 .466 -7.9 .466 3.6 .466 -7.2 .466 2.8 .466 18.1 .466 -33.7 .466 12.9 .466 2.6 .466 -4.9 .466 -4.0 .466 6.9 .466 -7.0 .466 3.1 .466 -3.9 .466 10.1 .466 -10.0 .466 14.3 .466 -5.8 .466 -1.1 .466 -3.4 .466 3.4 .466 -1.4 .466 6.8 .466 -4.4 .466 -11.2 .466 18.3 .466 5.5 .466 1.9 .466 -16.5 .466 2.1 .466 1.9 .466 -7.1 .466 4.7 .466 -1.0 .466 6.0 .466 -14.5 .466 16.6 .466 -17.6 .466 17.6 .466 -6.8 .466 -3.1 .466 1.8 .466 8.8 .466 -10.4 .466 6.7 .466 1.8 .466 -7.0 .466 2.4 .466 -0.4 .466 6.8 .466 -10.4 .466 2.5 .466 2.3 .466 -5.6 .466 2.0 .466 4.9 .466 -1.5 .466 -0.6 .466 4.1 .466 -7.1 .466 8.6 .466 -7.6 .466 7.7 .466 -4.1 .466 -0.1 .466 -1.1 .466 1.9 .466 -4.4 .466 3.8 .466 -7.1 .466 6.2 .466 8.7 .466 -1.0 .466 -11.4 .466 8.0 .466 -4.8 .466 -1.2 .466 -0.4 .466 0.5 .466 0.0 .466 8.4 .466 -5.5 .466 -6.4 .466 6.7 .466 -2.0 .466 13.2 .466 -15.9 .466 4.2 .466 -2.1 .466 -2.9 .466 -2.1 .466 10.3 .466 -17.1 .466 9.3 .466 2.2 .466 -1.7 .466 2.3 .466 -3.9 .466 6.3 .466 -2.1 .466 0.5 .466 9.1 .466 -14.0 .466 3.5 .466 -3.7 .466 2.2 .466 1.8 .466 2.5 .466 -5.9 .466 6.8 .466 -1.2 .466 -2.3 .466 4.9 .466 -5.2 .466 12.0 .466 -2.4 .466 -9.6 .466 8.9 .466 -5.6 .466 -2.4 .466 0.8 .466 2.3 .466 5.5 .466 -2.8 .466 2.8 .466 -8.9 .466 -13.3 .466 9.9 .466 3.6 .466 -4.5 .466 6.1 .466 -5.0 .466 3.3 .466 0.2 .466 7.7 .466 -5.9 .466 -4.5 .466 7.5 .466 4.8 .466 -4.9 .466 -17.3 .466 19.7 .466 -6.6 .466 6.5 .466 0.2 .466 -1.8 .466 -7.6 .466 5.4 .466 -3.4 .466 7.5 .466 -9.2 .466 6.3 .466 2.8 .466 1.3 .466 -3.9 .466 -5.3 .466 10.7 .466 -6.3 .466 1.7 .466 -17.7 .466 16.1 .466 8.8 .466 -5.1 .466 -0.1 .466 -1.5 .466 -4.7 .466 1.6 .466 10.4 .466 -12.8 .466 6.3 .466 -2.4 .466 3.0 .466 -6.2 .466 -1.1 .466 5.4 .466 -2.5 .466 5.0 .466 16.7 .466 -24.0 .466 1.9 .466 -1.2 .466 2.6 .466 -1.8 .466 3.3 .466 -1.8 .466 1.0 .466 4.0 .466 -0.0 .466 -7.8 .466 1.2 .466 2.6 .466 -0.8 .466 -8.9 .466 11.1 .466 0.7 .466 -3.5 .466 -4.3 .466 6.3 .466 -8.6 .466 -0.1 .466 7.3 .466 -1.1 .466 12.4 .466 -14.4 .466 -1.1 .466 1.8 .466 6.0 .466 -3.0 .466 -18.1 .466 11.7 .466 12.3 .466 -7.4 .466 -1.1 .466 -5.8 .466 3.5 .466 -8.4 .466 15.0 .466 2.7 .466 -6.6 .466 2.7 .466 -7.4 .466 2.4 .466 2.8 .466 0.6 .466 -0.8 .466 -6.6 .466 12.5 .466 -9.2 .466 3.9 .466 2.8 .466 -8.9 .466 4.1 .466 1.2 .466 12.3 .466 -11.5 .466 -2.3 .466 2.1 .466 -1.6 .466 -5.3 .466 2.3 .466 3.7 .466 0.5 .466 -2.0 .466 -1.8 .466 -5.2 .466 9.6 .466 -5.5 .466 5.0 .466 5.3 .466 -3.9 .466 -2.9 .466 -8.3 .466 9.3 .466 9.3 .466 -13.0 .466 5.5 .466 -3.7 .466 2.4 .466 -0.8 .466 -4.0 .466 1.5 .466 -5.7 .466 0.6 .466 2.8 .466 3.7 .466 -2.9 .466 5.1 .466 -3.4 .466 4.7 .466 -3.5 .466 -3.8 .466 -5.2 .466 5.0 .466 -0.2 .466 -5.7 .466 0.5 .466 15.4 .466 -8.5 .466 -5.5 .466 -9.8 .466 7.0 .466 1.6 .466 8.2 .466 -22.3 .466 11.4 .466 5.0 .466 -1.8 .466 -12.1 .466 -1.1 .466 -5.6 .466 -19.8 .466 5.1 .466 5.0 .466 -23.1 .466 -6.2 .466 -2.7 .466 -3.5 .466 -19.1 .466 -8.2 .466 3.0 .466 -20.6 .466 -33.0 .466 9.9 .466 -17.4 .466 12.7 .466 -12.3 .466 4.4 .466 -6.0 .466 -5.3 .466 12.9 .466 4.4 .466 21.9 .466 14.1 .466 3.8 .466 16.8 .466 1.3 .466 13.4 .466 9.3 .466 9.3 .466 -4.2 .466 14.5 .466 4.4 .466 12.9 .466 3.1 .466 21.4 .466 -12.8 .466 -1.6 .466 -0.0 .466 9.3 .466 3.7 .466 -7.0 .466 6.1 .466 9.6 .466 -2.1 .466 -10.2 .466 5.8 .466 5.4 .466 -3.4 .466 -11.3 .466 10.2 .466 -0.4 .466 1.0 .466 12.3 .466 -6.8 .466 14.4 .466 -14.3 .466 6.7 .466 -9.8 .466 7.9 .466 -6.5 .466 3.2 .466 -6.2 .466 8.0 .466 -5.4 .466 8.2 .466 -8.7 .466 1.0 .466 1.0 .466 5.0 .466 -2.7 .466 -4.1 .466 2.3 .466 4.1 .466 1.1 .466 -2.6 .466 -3.5 .466 7.7 .466 -7.0 .466 3.1 .466 1.2 .466 -1.5 .466 -8.9 .466 4.7 .466 5.7 .466 -1.4 .466 2.8 .466 -2.0 .466 -0.1 .466 3.3 .466 1.8 .466 -8.2 .466 5.6 .466 5.2 .466 -13.4 .466 4.5 .466 0.8 .466 0.2 .466 4.1 .466 -18.0 .466 7.2 .466 9.4 .466 -4.5 .466 1.8 .466 -3.7 .466 12.3 .466 -8.1 .466 -6.3 .466 12.0 .466 -4.7 .466 -2.8 .466 -3.2 .466 -3.5 .466 13.5 .466 -8.8 .466 2.1 .466 3.1 .466 -6.8 .466 8.5 .466 -0.7 .466 0.2 .466 -2.2 .466 -0.7 .466 4.5 .466 8.1 .466 -9.8 .466 5.1 .466 -9.3 .466 6.2 .466 -4.8 .466 0.7 .466 -7.0 .466 15.8 .466 -10.6 .466 1.5 .466 1.4 .466 0.7 .466 3.8 .466 -9.0 .466 -0.3 .466 3.7 .466 7.2 .466 -1.1 .466 1.8 .466 -5.0 .466 -14.3 .466 15.1 .466 -2.6 .466 -2.3 .466 2.6 .466 3.6 .466 -1.2 .466 1.5 .466 -1.1 .466 -0.3 .466 -0.2 .466 2.2 .466 -1.1 .466 -0.1 .466 -2.5 .466 -1.5 .466 5.3 .466 -1.6 .466 1.4 .466 -3.8 .466 -9.3 .466 13.4 .466 -6.1 .466 5.6 .466 -9.4 .466 1.9 .466 0.6 .466 0.6 .466 7.1 .466 -12.9 .466 8.1 .466 1.8 .466 -0.2 .466 1.2 .466 -1.3 .466 -4.5 .466 -1.8 .466 8.4 .466 -4.4 .466 -2.2 .466 2.0 .466 -2.8 .466 6.8 .466 -5.3 .466 3.3 .466 -1.3 .466 1.1 .466 5.6 .466 -6.5 .466 -4.2 .466 5.6 .466 -3.2 .466 -0.6 .466 5.3 .466 -5.9 .466 0.7 .466 1.1 .466 3.0 .466 -0.1 .466 -3.5 .466 -12.7 .466 -2.0 .466 10.4 .466 20.7 .466 -16.5 .466 0.4 .466 1.6 .466 -1.8 .466 -3.7 .466 5.4 .466 -5.2 .466 2.0 .466 -8.8 .466 11.0 .466 2.0 .466 -4.5 .466 -6.0 .466 6.1 .466 -2.5 .466 0.8 .466 4.0 .466 -0.4 .466 -0.1 .466 -1.4 .466 1.2 .466 -1.0 .466 -0.7 .466 -5.1 .466 10.3 .466 -5.4 .466 4.7 .466 1.0 .466 -5.7 .466 1.9 .466 -1.1 .466 2.9 .466 8.9 .466 -29.3 .466 21.4 .466 -6.9 .466 -0.4 .466 4.5 .466 -4.3 .466 2.4 .466 -4.5 .466 -7.7 .466 11.8 .466 -3.8 .466 9.4 .466 -15.4 .466 4.6 .466 11.4 .466 -9.1 .466 3.1 .466 -9.9 .466 10.3 .466 -1.7 .466 3.1 .466 -1.9 .466 -0.5 .466 -1.7 .466 0.4 .466 1.9 .466 -3.9 .466 2.2 .466 -6.2 .466 8.7 .466 -3.9 .466 -5.3 .466 1.0 .466 1.0 .466 -5.6 .466 6.0 .466 -0.2 .466 -0.3 .466 -1.7 .466 -3.2 .466 4.8 .466 -3.5 .466 -15.7 .466 16.7 .466 -12.5 .466 8.6 .466 -2.1 .466 4.5 .466 -2.2 .466 -9.7 .466 -0.6 .466 -8.7 .466 2.1 .466 -6.0 .466 -3.1 .466 -5.3 .466 2.9 .466 -12.7 .466 -2.6 .466 -13.2 .466 -9.5 .466 4.0 .466 -23.5 .466 -19.6 .466 -4.1 .466 -5.0 .466 -16.2 .466 -8.3 .466 -14.7 .466 -7.6 .466 -26.0 .466 0.1 .466 -22.9 .466 -6.2 .466 2.1 .466 -18.3 .466 -1.4 .466 -4.0 .466 -4.6 .466 10.8 .466 -4.3 .466 6.9 .466 20.3 .466 9.7 .466 19.1 .466 7.6 .466 11.5 .466 11.8 .466 23.4 .466 9.6 .466 8.8 .466 4.5 .466 17.8 .466 -0.3 .466 13.0 .466 14.0 .466 0.2 .466 7.4 .466 15.6 .466 9.1 .466 -1.5 .466 11.9 .466 -5.1 .466 7.7 .466 2.5 .466 6.9 .466 -0.2 .466 2.2 .466 -5.3 .466 4.6 .466 2.7 .466 5.3 .466 3.8 .466 2.8 .466 -1.4 .466 0.4 .466 1.0 .466 -2.0 .466 -8.1 .466 3.1 .466 -1.4 .466 9.3 .466 0.3 .466 -5.1 .466 2.3 .466 -1.8 .466 8.4 .466 -0.9 .466 -0.7 .466 -0.5 .466 -0.5 .466 -0.0 .466 -3.7 .466 4.6 .466 0.7 .466 0.8 .466 -6.7 .466 11.9 .466 -4.0 .466 -0.1 .466 -3.4 .466 2.5 .466 1.1 .466 -3.8 .466 4.4 .466 -0.4 .466 2.1 .466 -2.2 .466 1.4 .466 5.9 .466 -6.0 .466 -16.6 .466 9.2 .466 5.8 .466 0.5 .466 1.3 .466 -1.2 .466 0.1 .466 -5.9 .466 10.0 .466 -3.2 .466 6.5 .466 -1.1 .466 2.8 .466 -6.8 .466 -7.9 .466 6.3 .466 0.7 .466 -2.3 .466 -5.9 .466 10.4 .466 0.6 .466 -5.7 .466 -8.9 .466 14.1 .466 -0.5 .466 -5.4 .466 0.9 .466 0.9 .466 3.6 .466 3.0 .466 -0.7 .466 -6.5 .466 1.9 .466 1.6 .466 0.8 .466 -3.3 .466 1.3 .466 1.9 .466 0.3 .466 1.2 .466 -1.8 .466 -9.7 .466 7.0 .466 2.8 .466 -1.8 .466 12.2 .466 -12.7 .466 6.3 .466 -6.9 .466 5.2 .466 -0.8 .466 12.5 .466 -12.7 .466 4.7 .466 -1.5 .466 -5.4 .466 1.3 .466 -5.3 .466 2.3 .466 7.3 .466 -7.3 .466 1.5 .466 -1.7 .466 6.2 .466 -6.8 .466 4.4 .466 -4.1 .466 7.1 .466 -7.4 .466 4.6 .466 7.0 .466 -6.4 .466 -0.9 .466 1.6 .466 -2.5 .466 -4.2 .466 6.6 .466 2.5 .466 -6.5 .466 2.0 .466 3.7 .466 -5.4 .466 0.6 .466 0.1 .466 -2.5 .466 8.9 .466 -4.0 .466 0.2 .466 1.1 .466 1.7 .466 -3.9 .466 8.4 .466 -22.8 .466 12.1 .466 -0.9 .466 3.8 .466 1.5 .466 1.4 .466 7.1 .466 -4.6 .466 -6.2 .466 0.3 .466 0.1 .466 -18.8 .466 18.5 .466 1.9 .466 -8.4 .466 5.0 .466 -2.2 .466 -1.1 .466 3.8 .466 0.9 .466 -4.1 .466 5.6 .466 0.1 .466 13.6 .466 -13.0 .466 -11.7 .466 5.8 .466 9.8 .466 -9.3 .466 1.0 .466 2.5 .466 3.1 .466 -3.1 .466 -9.4 .466 8.7 .466 8.7 .466 -10.2 .466 3.9 .466 -3.0 .466 -5.5 .466 6.0 .466 1.0 .466 4.1 .466 -7.1 .466 7.5 .466 -8.4 .466 2.7 .466 0.9 .466 8.3 .466 -8.7 .466 -0.3 .466 -7.0 .466 5.9 .466 3.3 .466 0.9 .466 -2.3 .466 6.8 .466 -14.7 .466 9.4 .466 -1.8 .466 0.9 .466 -1.4 .466 -2.7 .466 0.3 .466 -1.4 .466 5.6 .466 10.2 .466 -14.7 .466 8.4 .466 -3.1 .466 -2.9 .466 -2.0 .466 0.7 .466 11.9 .466 -8.3 .466 11.7 .466 -14.3 .466 -2.0 .466 4.4 .466 -5.7 .466 5.2 .466 0.3 .466 7.1 .466 -5.6 .466 -14.7 .466 5.2 .466 -5.6 .466 13.9 .466 0.2 .466 -0.1 .466 4.0 .466 -7.1 .466 2.9 .466 3.9 .466 -2.5 .466 -2.5 .466 -5.4 .466 0.8 .466 13.5 .466 -12.0 .466 -3.9 .466 10.7 .466 -2.3 .466 -0.7 .466 1.5 .466 -3.4 .466 1.4 .466 -1.0 .466 -1.7 .466 5.0 .466 -2.3 .466 0.1 .466 1.3 .466 0.6 .466 1.4 .466 -1.0 .466 -3.2 .466 -4.0 .466 6.5 .466 -3.6 .466 2.2 .466 4.9 .466 -11.0 .466 5.8 .466 -1.6 .466 2.6 .466 0.2 .466 -2.3 .466 8.7 .466 -6.1 .466 -4.6 .466 6.8 .466 -1.4 .466 -2.0 .466 3.2 .466 -0.1 .466 -3.5 .466 6.5 .466 -4.2 .466 -7.7 .466 3.6 .466 -7.1 .466 11.2 .466 -5.6 .466 4.4 .466 0.2 .466 -6.6 .466 19.4 .466 -6.3 .466 6.5 .466 -14.0 .466 -0.7 .466 -2.2 .466 20.9 .466 -14.4 .466 -6.6 .466 -10.3 .466 17.7 .466 -5.2 .466 1.0 .466 3.5 .466 0.3 .466 -2.6 .466 3.7 .466 -4.1 .466 -0.3 .466 1.3 .466 -0.6 .466 -2.1 .466 4.0 .466 -0.7 .466 -4.9 .466 4.0 .466 -0.3 .466 0.2 .466 0.1 .466 1.1 .466 -1.8 .466 0.4 .466 4.8 .466 -11.6 .466 8.8 .466 -8.8 .466 -3.2 .466 14.2 .466 -8.7 .466 -1.5 .466 9.1 .466 -4.4 .466 1.0 .466 0.9 .466 -0.5 .466 1.8 .466 -2.3 .466 3.1 .466 -3.9 .466 -3.1 .466 6.8 .466 4.4 .466 -3.2 .466 -9.3 .466 5.5 .466 1.3 .466 -0.5 .466 2.6 .466 8.6 .466 -10.8 .466 3.5 .466 -5.4 .466 1.2 .466 4.6 .466 -7.3 .466 3.0 .466 0.4 .466 -2.4 .466 3.6 .466 0.1 .466 -1.4 .466 -3.4 .466 0.6 .466 2.4 .466 -2.7 .466 4.1 .466 0.3 .466 -7.3 .466 6.3 .466 0.5 .466 -0.3 .466 1.6 .466 -1.3 .466 -4.9 .466 1.7 .466 3.1 .466 1.4 .466 -5.2 .466 2.2 .466 -4.1 .466 6.2 .466 1.4 .466 -10.6 .466 10.7 .466 -4.9 .466 0.7 .466 0.4 .466 5.5 .466 -5.9 .466 3.8 .466 11.5 .466 -12.8 .466 -0.1 .466 -0.0 .466 -1.0 .466 -10.1 .466 9.0 .466 -0.3 .466 -2.1 .466 4.8 .466 -4.7 .466 0.1 .466 -2.2 .466 4.0 .466 0.8 .466 6.5 .466 -11.3 .466 7.3 .466 -4.4 .466 5.8 .466 -4.2 .466 1.7 .466 0.1 .466 1.6 .466 1.4 .466 -3.6 .466 -0.2 .466 -1.2 .466 0.5 .466 5.4 .466 -6.6 .466 2.5 .466 -1.8 .466 4.2 .466 -4.2 .466 -1.7 .466 2.3 .466 0.8 .466 -3.5 .466 -2.8 .466 4.5 .466 -4.6 .466 8.7 .466 -3.8 .466 2.6 .466 2.7 .466 -3.8 .466 4.3 .466 -4.5 .466 -6.3 .466 6.3 .466 -0.9 .466 -0.1 .466 0.8 .466 4.2 .466 -1.5 .466 -0.2 .466 -5.4 .466 5.1 .466 0.2 .466 -4.7 .466 9.4 .466 -7.6 .466 4.6 .466 -3.9 .466 -0.1 .466 1.4 .466 1.1 .466 -4.2 .466 3.4 .466 -5.7 .466 1.8 .466 1.5 .466 -11.2 .466 15.5 .466 -3.4 .466 -3.0 .466 3.9 .466 -2.6 .466 -1.5 .466 2.2 .466 -1.3 .466 0.0 .466 8.0 .466 -11.7 .466 6.2 .466 0.1 .466 -0.1 .466 8.2 .466 -17.5 .466 11.9 .466 -9.0 .466 0.9 .466 4.8 .466 0.9 .466 -0.0 .466 -1.8 .466 11.4 .466 -6.2 .466 -3.2 .466 6.5 .466 -8.6 .466 6.2 .466 -5.1 .466 -11.3 .466 17.6 .466 -8.1 .466 -2.1 .466 1.8 .466 4.5 .466 -0.1 .466 2.2 .466 -6.3 .466 -0.3 .466 9.1 .466 -8.7 .466 -2.7 .466 7.7 .466 -5.8 .466 4.0 .466 -2.6 .466 3.0 .466 -2.0 .466 3.9 .466 -5.4 .466 -6.7 .466 7.8 .466 -6.0 .466 4.6 .466 0.2 .466 0.0 .466 -0.5 .466 1.4 .466 2.7 .466 -7.3 .466 9.0 .466 -7.1 .466 6.6 .466 -0.8 .466 -1.7 .466 -0.4 .466 -6.0 .466 12.9 .466 -5.5 .466 -3.3 .466 -1.0 .466 9.3 .466 -5.2 .466 2.4 .466 -0.6 .466 -10.3 .466 12.0 .466 -3.1 .466 -1.3 .466 0.2 .466 -0.0 .466 3.9 .466 -5.8 .466 -4.2 .466 2.8 .466 4.8 .466 -2.3 .466 0.0 .466 6.8 .466 -6.0 .466 -6.1 .466 5.0 .466 0.6 .466 10.2 .466 -14.0 .466 6.0 .466 0.7 .466 -6.5 .466 11.2 .466 -9.0 .466 -4.1 .466 12.1 .466 2.5 .466 -8.6 .466 -2.4 .466 -5.0 .466 13.8 .466 -6.5 .466 9.5 .466 -8.8 .466 1.7 .466 -2.8 .466 -0.3 .466 1.3 .466 -8.8 .466 7.5 .466 1.8 .466 -3.7 .466 -0.7 .466 2.1 .466 -0.5 .466 3.8 .466 -6.6 .466 8.2 .466 -7.6 .466 1.4 .466 2.5 .466 -1.3 .466 -0.3 .466 -5.5 .466 1.2 .466 9.3 .466 8.6 .466 -5.4 .466 -6.5 .466 -3.1 .466 2.7 .466 1.2 .466 -1.2 .466 1.4 .466 -1.4 .466 2.6 .466 1.6 .466 -1.9 .466 -0.9 .466 6.3 .466 -6.2 .466 -7.4 .466 18.5 .466 -6.4 .466 -9.1 .466 0.3 .466 9.9 .466 -7.1 .466 3.1 .466 -0.6 .466 1.4 .466 -4.6 .466 4.2 .466 -3.1 .466 -1.2 .466 0.4 .466 6.1 .466 -6.8 .466 6.0 .466 -3.2 .466 -2.9 .466 -3.9 .466 8.8 .466 -9.0 .466 12.2 .466 -8.4 .466 8.5 .466 -16.9 .466 3.4 .466 11.0 .466 -7.3 .466 0.1 .466 2.7 .466 0.2 .466 -3.1 .466 7.4 .466 -9.6 .466 1.2 .466 13.5 .466 -9.8 .466 -5.5 .466 0.8 .466 3.6 .466 0.4 .466 5.5 .466 -5.3 .466 0.0 .466 0.5 .466 -1.0 .466 0.7 .466 5.4 .466 -0.5 .466 -4.0 .466 -5.3 .466 6.9 .466 -3.1 .466 5.0 .466 -2.3 .466 -1.2 .466 -2.1 .466 2.2 .466 6.6 .466 -5.2 .466 -2.8 .466 2.1 .466 -2.8 .466 -0.1 .466 3.1 .466 2.8 .466 -2.5 .466 -3.2 .466 -1.1 .466 5.3 .466 -4.8 .466 4.0 .466 0.4 .466 -17.8 .466 33.8 .466 0.0 .466 -21.1 .466 1.7 .466 7.3 .466 -8.1 .466 1.3 .466 -3.8 .466 8.2 .466 -4.5 .466 6.7 .466 5.2 .466 -11.0 .466 -1.3 .466 -4.6 .466 8.4 .466 6.6 .466 -16.4 .466 10.1 .466 -5.4 .466 2.1 .466 -0.7 .466 1.4 .466 -1.6 .466 6.2 .466 -13.0 .466 8.7 .466 0.5 .466 6.3 .466 -7.0 .466 -1.0 .466 -2.5 .466 1.5 .466 4.4 .466 -14.4 .466 15.6 .466 -0.6 .466 -3.8 .466 3.4 .466 -5.2 .466 -1.1 .466 5.3 .466 -0.5 .466 -2.8 .466 2.7 .466 -5.8 .466 -3.3 .466 10.8 .466 -3.4 .466 2.3 .466 -2.0 .466 -0.4 .466 5.7 .466 1.0 .466 -6.7 .466 -1.0 .466 -0.0 .466 4.1 .466 -4.3 .466 1.1 .466 -7.5 .466 5.5 .466 6.1 .466 2.0 .466 7.5 .466 -15.5 .466 2.7 .466 -0.2 .466 3.7 .466 -4.7 .466 5.4 .466 -6.6 .466 1.2 .466 -2.1 .466 -1.5 .466 5.6 .466 1.0 .466 -2.8 .466 3.0 .466 -2.1 .466 2.5 .466 -3.5 .466 -1.1 .466 3.1 .466 -4.1 .466 4.8 .466 0.6 .466 -5.3 .466 3.8 .466 -1.3 .466 4.0 .466 -10.1 .466 3.0 .466 1.4 .466 4.8 .466 -5.6 .466 1.1 .466 1.4 .466 2.9 .466 -0.7 .466 -8.3 .466 5.3 .466 6.1 .466 -6.0 .466 -2.3 .466 -1.2 .466 3.5 .466 1.5 .466 7.1 .466 -3.7 .466 0.9 .466 -8.7 .466 -0.7 .466 2.8 .466 2.8 .466 -1.8 .466 4.2 .466 -3.6 .466 10.6 .466 -9.9 .466 -1.8 .466 0.4 .466 3.1 .466 -3.0 .466 -0.2 .466 -3.1 .466 5.9 .466 -2.6 .466 -3.9 .466 3.8 .466 1.5 .466 1.7 .466 4.3 .466 -10.1 .466 3.1 .466 -2.1 .466 0.8 .466 1.5 .466 0.8 .466 -10.6 .466 4.2 .466 8.0 .466 -3.9 .466 -7.4 .466 8.4 .466 -0.6 .466 -1.0 .466 7.1 .466 -2.8 .466 -3.0 .466 3.1 .466 1.8 .466 -6.7 .466 -1.9 .466 2.8 .466 1.6 .466 4.8 .466 -3.4 .466 -0.7 .466 -1.8 .466 1.7 .466 -2.6 .466 -10.4 .466 8.0 .466 3.2 .466 -0.7 .466 5.6 .466 -2.6 .466 0.1 .466 -4.4 .466 3.6 .466 -4.3 .466 4.6 .466 -6.2 .466 1.1 .466 -2.6 .466 5.6 .466 0.5 .466 4.3 .466 -6.3 .466 -0.0 .466 -0.8 .466 4.0 .466 -3.7 .466 3.3 .466 -1.0 .466 -1.3 .466 -0.7 .466 4.2 .466 2.8 .466 -7.3 .466 2.0 .466 4.3 .466 -7.6 .466 -2.7 .466 8.0 .466 -3.7 .466 2.1 .466 6.6 .466 -9.5 .466 2.1 .466 -1.7 .466 7.6 .466 -7.9 .466 0.3 .466 2.2 .466 -4.2 .466 5.8 .466 -6.0 .466 3.7 .466 1.6 .466 -13.3 .466 9.0 .466 0.2 .466 3.7 .466 -4.3 .466 2.1 .466 -4.9 .466 2.0 .466 1.7 .466 -5.9 .466 -0.4 .466 -2.3 .466 2.6 .466 0.1 .466 0.5 .466 1.0 .466 -5.9 .466 3.0 .466 -1.7 .466 2.6 .466 -1.2 .466 1.2 .466 -1.3 .466 -5.7 .466 2.1 .466 -4.1 .466 -0.9 .466 0.2 .466 -4.0 .466 3.0 .466 -14.0 .466 12.1 .466 -9.6 .466 -1.4 .466 -10.7 .466 2.5 .466 -10.1 .466 10.3 .466 -10.8 .466 9.9 .466 -10.9 .466 -12.0 .466 -21.4 .466 12.4 .466 -8.4 .466 13.2 .466 -17.0 .466 5.9 .466 -16.3 .466 3.9 .466 -13.3 .466 4.2 .466 -2.8 .466 0.5 .466 1.9 .466 9.0 .466 -5.3 .466 -8.5 .466 5.0 .466 1.0 .466 12.7 .466 -12.3 .466 6.6 .466 0.3 .466 23.6 .466 -15.9 .466 7.0 .466 -5.4 .466 17.4 .466 -0.5 .466 -3.4 .466 12.1 .466 -4.1 .466 10.1 .466 11.4 .466 -5.9 .466 4.2 .466 5.9 .466 -5.9 .466 2.7 .466 4.4 .466 28.6 .466 -14.9 .466 1.4 .466 -1.1 .466 3.5 .466 -0.4 .466 6.5 .466 0.4 .466 -6.1 .466 4.1 .466 2.6 .466 4.3 .466 -5.9 .466 8.9 .466 -0.7 .466 -6.0 .466 5.1 .466 5.7 .466 0.1 .466 -1.7 .466 -8.3 .466 11.4 .466 -7.1 .466 -3.3 .466 -2.2 .466 8.7 .466 -1.2 .466 0.2 .466 -2.3 .466 3.6 .466 1.3 .466 -2.1 .466 -4.1 .466 -1.4 .466 6.8 .466 -3.5 .466 -4.8 .466 11.3 .466 -12.3 .466 8.8 .466 2.5 .466 -4.8 .466 -0.5 .466 2.4 .466 0.0 .466 -4.0 .466 5.9 .466 13.2 .466 -7.9 .466 -3.6 .466 -3.4 .466 6.3 .466 -12.6 .466 8.3 .466 1.4 .466 1.5 .466 4.1 .466 -6.0 .466 -0.2 .466 1.9 .466 2.8 .466 -8.7 .466 6.6 .466 0.1 .466 -3.1 .466 4.4 .466 -0.3 .466 -8.3 .466 12.4 .466 -8.1 .466 -4.3 .466 3.7 .466 14.7 .466 -14.8 .466 9.0 .466 -7.7 .466 -1.6 .466 5.1 .466 -5.5 .466 3.5 .466 -7.5 .466 3.3 .466 3.1 .466 -1.7 .466 -9.4 .466 10.0 .466 2.0 .466 1.0 .466 1.8 .466 -9.1 .466 7.9 .466 -2.7 .466 2.0 .466 -2.9 .466 0.3 .466 5.5 .466 -3.7 .466 -0.4 .466 2.1 .466 -3.7 .466 5.0 .466 -2.3 .466 1.4 .466 4.3 .466 -5.8 .466 0.1 .466 1.4 .466 -2.0 .466 3.5 .466 -4.7 .466 -1.7 .466 0.3 .466 7.2 .466 -7.0 .466 -2.7 .466 3.7 .466 1.3 .466 1.5 .466 -7.0 .466 4.6 .466 2.8 .466 -2.8 .466 -1.7 .466 7.4 .466 -6.4 .466 -3.0 .466 3.9 .466 1.0 .466 0.9 .466 -0.5 .466 0.5 .466 -2.1 .466 1.7 .466 1.0 .466 0.6 .466 -1.0 .466 -4.0 .466 3.7 .466 1.1 .466 5.0 .466 -3.4 .466 -15.2 .466 19.8 .466 -9.4 .466 0.8 .466 -4.5 .466 3.4 .466 -3.2 .466 3.2 .466 -1.1 .466 -0.8 .466 1.9 .466 4.9 .466 -4.1 .466 -1.5 .466 -4.4 .466 4.6 .466 8.9 .466 -1.3 .466 -2.3 .466 -0.5 .466 0.8 .466 -22.3 .466 23.2 .466 -0.9 .466 -7.0 .466 8.7 .466 -4.6 .466 -3.6 .466 6.5 .466 -10.4 .466 7.1 .466 -1.2 .466 0.9 .466 4.3 .466 -4.5 .466 2.2 .466 -6.4 .466 11.1 .466 -7.6 .466 -4.8 .466 2.4 .466 8.2 .466 -19.0 .466 20.4 .466 -4.1 .466 -3.8 .466 6.0 .466 -9.6 .466 7.0 .466 -3.9 .466 3.7 .466 -9.4 .466 9.7 .466 -1.7 .466 3.2 .466 -3.4 .466 2.6 .466 -3.8 .466 4.5 .466 1.8 .466 -12.4 .466 8.5 .466 -3.1 .466 7.0 .466 1.8 .466 -5.9 .466 -2.7 .466 4.0 .466 -0.9 .466 -4.9 .466 2.1 .466 -4.4 .466 5.3 .466 -2.0 .466 1.2 .466 0.6 .466 2.7 .466 0.8 .466 -4.9 .466 -0.9 .466 3.6 .466 0.2 .466 -1.4 .466 3.3 .466 -5.0 .466 7.2 .466 -4.8 .466 1.8 .466 -3.8 .466 -4.6 .466 7.6 .466 -2.2 .466 0.7 .466 2.6 .466 -2.8 .466 3.0 .466 -4.4 .466 1.8 .466 -0.9 .466 -2.0 .466 3.3 .466 -0.4 .466 0.9 .466 -0.5 .466 -1.9 .466 -0.9 .466 2.7 .466 -0.2 .466 -2.5 .466 1.8 .466 -7.7 .466 2.9 .466 0.6 .466 2.1 .466 3.8 .466 0.5 .466 1.0 .466 -2.8 .466 1.5 .466 -0.6 .466 -4.3 .466 2.0 .466 6.8 .466 -13.7 .466 2.1 .466 6.8 .466 -0.3 .466 0.8 .466 -1.5 .466 2.4 .466 -2.6 .466 0.8 .466 1.4 .466 3.6 .466 -7.7 .466 2.2 .466 -0.1 .466 -5.7 .466 11.2 .466 -3.0 .466 -2.7 .466 -1.0 .466 -0.6 .466 2.0 .466 -1.1 .466 1.6 .466 0.0 .466 0.3 .466 2.6 .466 -0.8 .466 -6.4 .466 -0.2 .466 5.3 .466 -1.0 .466 -18.0 .466 16.6 .466 -1.5 .466 3.3 .466 -2.7 .466 8.7 .466 -1.5 .466 -17.6 .466 14.1 .466 3.7 .466 -6.3 .466 8.8 .466 -10.7 .466 -0.1 .466 -0.4 .466 2.6 .466 2.0 .466 1.8 .466 -7.8 .466 -1.1 .466 2.8 .466 8.3 .466 8.7 .466 -11.2 .466 -7.4 .466 1.2 .466 3.2 .466 1.7 .466 0.4 .466 -0.1 .466 -4.2 .466 6.5 .466 -0.9 .466 -3.7 .466 -0.2 .466 -3.7 .466 3.0 .466 -0.7 .466 2.3 .466 0.9 .466 5.2 .466 -6.5 .466 -1.1 .466 5.4 .466 -7.8 .466 1.8 .466 3.7 .466 -0.1 .466 -1.0 .466 -1.6 .466 -2.2 .466 -2.5 .466 7.3 .466 -0.4 .466 -0.4 .466 0.1 .466 4.4 .466 4.1 .466 -9.8 .466 -1.5 .466 -0.7 .466 0.0 .466 11.0 .466 -8.2 .466 -2.7 .466 0.3 .466 3.7 .466 -1.3 .466 2.0 .466 7.7 .466 -10.7 .466 6.7 .466 -7.7 .466 -0.1 .466 11.5 .466 -7.5 .466 0.3 .466 3.3 .466 -5.5 .466 -0.0 .466 -2.5 .466 2.8 .466 0.5 .466 0.1 .466 -1.9 .466 -2.4 .466 2.2 .466 -4.2 .466 -1.5 .466 2.8 .466 -5.4 .466 13.7 .466 -10.3 .466 4.3 .466 6.5 .466 -7.0 .466 3.0 .466 3.1 .466 -4.3 .466 2.4 .466 -0.4 .466 -4.6 .466 7.7 .466 -3.2 .466 -4.6 .466 7.1 .466 -1.0 .466 2.1 .466 -4.1 .466 1.3 .466 -5.7 .466 8.0 .466 -8.6 .466 4.3 .466 -1.1 .466 1.8 .466 9.4 .466 -3.1 .466 -9.2 .466 4.2 .466 0.3 .466 -13.6 .466 14.9 .466 -3.5 .466 -0.0 .466 -2.5 .466 2.4 .466 -0.6 .466 -10.1 .466 7.0 .466 8.5 .466 -7.0 .466 6.7 .466 -4.6 .466 1.5 .466 -10.0 .466 2.6 .466 -0.3 .466 7.1 .466 -2.0 .466 -3.6 .466 7.5 .466 -4.0 .466 1.6 .466 0.5 .466 -0.5 .466 -0.7 .466 -9.8 .466 7.6 .466 4.3 .466 -0.5 .466 7.1 .466 -19.0 .466 8.1 .466 -1.4 .466 7.0 .466 -1.8 .466 2.0 .466 -5.5 .466 6.4 .466 -11.1 .466 2.1 .466 2.9 .466 3.4 .466 -0.6 .466 -5.4 .466 -0.2 .466 7.2 .466 -2.9 .466 -4.8 .466 -10.9 .466 12.1 .466 -0.0 .466 7.7 .466 -6.5 .466 8.5 .466 -5.9 .466 1.2 .466 -6.3 .466 2.6 .466 0.2 .466 -2.3 .466 4.5 .466 -2.9 .466 0.3 .466 1.3 .466 2.8 .466 5.4 .466 -9.7 .466 9.9 .466 -6.8 .466 -7.1 .466 4.5 .466 5.6 .466 -8.3 .466 3.6 .466 0.0 .466 -2.1 .466 5.0 .466 -1.2 .466 -3.1 .466 8.6 .466 -4.4 .466 2.6 .466 3.3 .466 -8.3 .466 0.2 .466 1.3 .466 -7.8 .466 10.6 .466 0.9 .466 -2.0 .466 -2.3 .466 3.6 .466 -2.1 .466 2.6 .466 -3.0 .466 -1.8 .466 0.3 .466 2.2 .466 -5.9 .466 8.5 .466 1.9 .466 -1.8 .466 -4.6 .466 -13.3 .466 17.6 .466 -7.2 .466 -11.1 .466 13.4 .466 5.7 .466 -4.7 .466 -3.0 .466 -2.1 .466 4.5 .466 -1.5 .466 -2.3 .466 1.7 .466 5.3 .466 -3.0 .466 -1.2 .466 -3.1 .466 2.9 .466 -5.3 .466 7.8 .466 -0.5 .466 -3.2 .466 1.2 .466 0.3 .466 -1.4 .466 8.1 .466 -8.2 .466 5.1 .466 4.0 .466 -8.8 .466 -5.2 .466 6.9 .466 -1.9 .466 0.2 .466 6.8 .466 -12.5 .466 10.1 .466 -5.8 .466 -3.0 .466 0.3 .466 0.1 .466 1.7 .466 6.4 .466 -5.8 .466 -1.8 .466 3.6 .466 -4.9 .466 -3.8 .466 1.4 .466 8.7 .466 -6.2 .466 -3.2 .466 6.3 .466 -11.2 .466 7.9 .466 -0.6 .466 -8.3 .466 -0.0 .466 -3.0 .466 -6.9 .466 4.9 .466 7.0 .466 -12.1 .466 3.0 .466 -0.2 .466 -5.3 .466 0.9 .466 0.2 .466 1.7 .466 2.2 .466 -7.4 .466 1.8 .466 0.1 .466 -1.4 .466 2.9 .466 3.8 .466 -8.4 .466 1.4 .466 -7.2 .466 -0.6 .466 11.6 .466 -3.2 .466 1.5 .466 24.4 .466 -20.9 .466 1.9 .466 -0.6 .466 6.8 .466 -6.5 .466 2.2 .466 3.2 .466 8.9 .466 -7.9 .466 5.3 .466 -2.7 .466 2.9 .466 -4.5 .466 9.3 .466 -2.0 .466 -0.9 .466 5.8 .466 -6.6 .466 1.8 .466 5.2 .466 3.9 .466 3.6 .466 -8.7 .466 2.8 .466 -1.4 .466 -1.9 .466 11.3 .466 -9.6 .466 4.6 .466 -7.0 .466 1.8 .466 -5.5 .466 7.0 .466 -9.9 .466 11.8 .466 1.2 .466 5.3 .466 -3.0 .466 2.3 .466 -3.8 .466 2.5 .466 -4.1 .466 2.6 .466 -2.5 .466 2.2 .466 -1.6 .466 1.1 .466 0.2 .466 0.4 .466 -5.7 .466 -0.4 .466 8.1 .466 -14.9 .466 12.2 .466 -2.7 .466 -0.5 .466 3.1 .466 -4.3 .466 -0.7 .466 6.8 .466 3.8 .466 -1.8 .466 1.4 .466 -5.1 .466 3.6 .466 -8.7 .466 3.8 .466 1.8 .466 0.9 .466 0.1 .466 7.3 .466 -4.3 .466 -8.2 .466 13.1 .466 -8.7 .466 3.6 .466 -8.7 .466 11.4 .466 -6.1 .466 1.8 .466 -0.1 .466 -2.2 .466 -0.3 .466 -2.4 .466 0.3 .466 6.1 .466 -1.7 .466 0.6 .466 3.9 .466 -13.6 .466 4.8 .466 6.3 .466 1.3 .466 -4.0 .466 4.2 .466 0.6 .466 1.3 .466 -3.5 .466 3.5 .466 -3.8 .466 -4.7 .466 0.1 .466 2.8 .466 0.9 .466 -6.2 .466 16.2 .466 -13.3 .466 5.5 .466 -7.4 .466 -7.6 .466 10.8 .466 19.0 .466 -20.9 .466 -6.7 .466 9.8 .466 7.3 .466 -5.8 .466 -2.0 .466 -3.2 .466 5.0 .466 -1.2 .466 11.8 .466 -11.2 .466 -3.3 .466 5.5 .466 3.3 .466 -2.3 .466 -3.6 .466 6.4 .466 -6.7 .466 -1.5 .466 -0.6 .466 -1.8 .466 13.7 .466 -6.9 .466 5.8 .466 -7.5 .466 -2.0 .466 1.0 .466 -1.2 .466 -3.4 .466 3.3 .466 -4.5 .466 7.9 .466 -6.4 .466 3.4 .466 0.8 .466 1.3 .466 -3.0 .466 4.5 .466 -5.6 .466 11.9 .466 -1.0 .466 -12.7 .466 4.7 .466 -2.3 .466 -0.5 .466 1.2 .466 2.3 .466 4.5 .466 0.8 .466 -7.3 .466 -1.1 .466 2.9 .466 3.2 .466 -4.0 .466 3.6 .466 -16.5 .466 8.1 .466 -4.5 .466 10.6 .466 -5.9 .466 2.1 .466 -1.4 .466 0.1 .466 -1.5 .466 -3.2 .466 3.2 .466 -4.6 .466 2.1 .466 -7.5 .466 6.7 .466 -0.5 .466 11.0 .466 -5.1 .466 -5.7 .466 -1.3 .466 3.2 .466 4.8 .466 -6.6 .466 -0.8 .466 -4.3 .466 1.2 .466 -3.6 .466 -0.3 .466 0.9 .466 0.1 .466 -4.7 .466 1.1 .466 0.7 .466 1.6 .466 -10.2 .466 8.6 .466 5.8 .466 -5.8 .466 3.2 .466 -2.6 .466 5.0 .466 -5.0 .466 3.1 .466 -2.4 .466 -0.7 .466 4.9 .466 1.0 .466 3.4 .466 -6.5 .466 0.7 .466 6.6 .466 -12.8 .466 10.1 .466 0.7 .466 -1.5 .466 -0.3 .466 6.3 .466 -1.8 .466 18.9 .466 -16.2 .466 -1.8 .466 1.2 .466 1.4 .466 4.0 .466 -2.4 .466 -5.3 .466 7.2 .466 -4.1 .466 -1.3 .466 6.0 .466 -2.1 .466 0.4 .466 5.2 .466 -11.4 .466 6.0 .466 -1.1 .466 -4.1 .466 8.7 .466 -0.4 .466 -2.2 .466 -1.0 .466 2.1 .466 -3.3 .466 5.9 .466 -9.9 .466 8.7 .466 -0.8 .466 -2.1 .466 -2.1 .466 3.8 .466 1.5 .466 -1.5 .466 2.6 .466 -7.9 .466 5.6 .466 1.8 .466 -5.8 .466 3.0 .466 2.4 .466 -0.0 .466 0.2 .466 -2.4 .466 1.6 .466 -2.6 .466 0.0 .466 -0.7 .466 12.8 .466 -20.4 .466 13.8 .466 -4.4 .466 0.3 .466 3.5 .466 -3.1 .466 0.0 .466 0.5 .466 -2.1 .466 2.1 .466 2.9 .466 -11.8 .466 7.2 .466 -2.2 .466 -0.6 .466 8.6 .466 -2.9 .466 9.1 .466 -7.4 .466 -5.8 .466 0.8 .466 4.1 .466 -1.9 .466 -1.6 .466 1.5 .466 -1.4 .466 7.3 .466 -5.5 .466 -4.3 .466 2.0 .466 2.5 .466 3.3 .466 0.3 .466 -2.7 .466 -1.9 .466 -2.6 .466 -4.5 .466 10.8 .466 -1.8 .466 -1.3 .466 -0.1 .466 1.1 .466 -0.7 .466 -15.1 .466 16.0 .466 -0.3 .466 -3.0 .466 2.2 .466 7.5 .466 -6.1 .466 0.1 .466 -2.0 .466 0.0 .466 5.3 .466 0.9 .466 -4.0 .466 0.1 .466 -0.3 .466 -1.3 .466 -4.0 .466 4.4 .466 -0.3 .466 1.6 .466 -1.1 .466 -6.6 .466 3.1 .466 10.6 .466 -6.7 .466 5.9 .466 -9.8 .466 2.4 .466 2.4 .466 -1.3 .466 0.9 .466 3.5 .466 2.3 .466 -4.6 .466 -1.9 .466 1.1 .466 -1.2 .466 3.6 .466 3.0 .466 -6.5 .466 2.0 .466 -1.1 .466 2.1 .466 -5.7 .466 6.4 .466 -4.1 .466 4.8 .466 -4.6 .466 0.4 .466 -3.4 .466 4.1 .466 -1.6 .466 -2.7 .466 3.2 .466 -6.5 .466 -10.0 .466 16.7 .466 0.6 .466 -1.9 .466 3.2 .466 -10.5 .466 6.2 .466 2.3 .466 0.5 .466 0.8 .466 -0.2 .466 -0.7 .466 4.9 .466 -5.8 .466 -8.7 .466 10.4 .466 -2.8 .466 -0.8 .466 2.6 .466 11.1 .466 -10.8 .466 2.8 .466 1.3 .466 -3.1 .466 4.9 .466 -0.7 .466 -4.8 .466 0.8 .466 -1.2 .466 6.6 .466 -10.0 .466 6.9 .466 5.7 .466 -2.0 .466 -5.5 .466 3.8 .466 3.3 .466 -8.7 .466 1.1 .466 -3.6 .466 1.6 .466 1.6 .466 2.4 .466 -1.7 .466 3.3 .466 -3.8 .466 10.1 .466 0.8 .466 -11.6 .466 2.3 .466 2.0 .466 -0.2 .466 -2.0 .466 -9.9 .466 9.4 .466 2.8 .466 -4.0 .466 -0.4 .466 3.0 .466 -2.0 .466 11.9 .466 -9.2 .466 -1.8 .466 0.5 .466 -1.2 .466 5.5 .466 -3.6 .466 0.7 .466 -1.9 .466 -7.9 .466 -4.9 .466 12.5 .466 -7.2 .466 13.3 .466 -6.2 .466 0.5 .466 -3.0 .466 4.4 .466 -1.4 .466 -3.2 .466 2.8 .466 -5.1 .466 8.1 .466 -3.2 .466 1.7 .466 -1.9 .466 -0.4 .466 -6.9 .466 9.5 .466 -0.8 .466 -1.9 .466 17.8 .466 -15.7 .466 2.0 .466 -4.6 .466 -1.2 .466 5.3 .466 -3.1 .466 -0.8 .466 16.2 .466 -13.8 .466 -0.6 .466 -5.6 .466 7.0 .466 -0.6 .466 -4.2 .466 4.8 .466 -0.0 .466 1.3 .466 -1.4 .466 -2.2 .466 4.0 .466 -5.5 .466 10.9 .466 -5.7 .466 -3.3 .466 8.7 .466 -2.9 .466 -10.4 .466 5.3 .466 -5.3 .466 -3.7 .466 13.8 .466 3.5 .466 -6.7 .466 0.7 .466 -0.7 .466 0.2 .466 -0.5 .466 -1.1 .466 -0.5 .466 -6.3 .466 5.5 .466 -0.2 .466 2.9 .466 2.0 .466 -0.3 .466 -2.3 .466 0.9 .466 -8.5 .466 2.8 .466 8.5 .466 -3.9 .466 0.2 .466 -0.9 .466 2.7 .466 -3.8 .466 2.5 .466 -0.4 .466 -0.2 .466 -1.2 .466 -0.9 .466 -1.3 .466 6.9 .466 -8.4 .466 3.1 .466 1.2 .466 -11.6 .466 14.9 .466 -2.7 .466 -0.7 .466 -0.1 .466 1.4 .466 -0.4 .466 -3.0 .466 2.9 .466 -1.2 .466 2.3 .466 0.6 .466 -5.6 .466 -7.0 .466 9.8 .466 5.4 .466 -14.4 .466 12.2 .466 7.1 .466 -16.5 .466 3.4 .466 6.5 .466 -1.2 .466 -3.8 .466 2.5 .466 12.8 .466 -20.3 .466 9.1 .466 -0.5 .466 1.6 .466 -3.4 .466 -4.8 .466 3.9 .466 0.2 .466 4.9 .466 -1.7 .466 -7.8 .466 9.0 .466 -1.9 .466 -2.5 .466 -3.6 .466 5.3 .466 -5.3 .466 -6.4 .466 8.7 .466 1.5 .466 -1.8 .466 -2.3 .466 6.9 .466 -0.7 .466 -7.1 .466 5.7 .466 0.7 .466 2.5 .466 -2.5 .466 4.3 .466 -0.6 .466 -3.2 .466 2.7 .466 -1.5 .466 -3.9 .466 -5.3 .466 2.9 .466 5.7 .466 -4.8 .466 3.7 .466 0.2 .466 -0.6 .466 7.5 .466 -3.4 .466 -5.1 .466 -3.1 .466 3.5 .466 -1.5 .466 2.4 .466 -3.1 .466 2.8 .466 -0.7 .466 0.7 .466 0.5 .466 9.4 .466 -12.5 .466 -3.3 .466 5.2 .466 3.0 .466 0.9 .466 -2.3 .466 3.5 .466 0.7 .466 -7.8 .466 6.1 .466 0.3 .466 -7.2 .466 4.8 .466 -0.4 .466 1.4 .466 -3.5 .466 5.7 .466 -8.4 .466 3.8 .466 16.9 .466 -6.0 .466 -11.5 .466 11.8 .466 -11.1 .466 1.3 .466 1.5 .466 -2.7 .466 -3.8 .466 4.0 .466 -1.7 .466 -0.4 .466 2.9 .466 1.0 .466 -0.5 .466 8.4 .466 4.0 .466 -11.8 .466 5.0 .466 -15.9 .466 15.0 .466 -6.3 .466 2.7 .466 5.5 .466 -8.2 .466 0.4 .466 -15.8 .466 14.6 .466 -3.9 .466 5.9 .466 -3.3 .466 4.2 .466 -4.2 .466 7.0 .466 -8.0 .466 4.8 .466 1.4 .466 -4.9 .466 11.4 .466 -13.2 .466 7.8 .466 -2.9 .466 -4.7 .466 3.7 .466 4.0 .466 -0.9 .466 -4.7 .466 -4.9 .466 4.2 .466 10.1 .466 -10.1 .466 3.5 .466 1.8 .466 -3.2 .466 0.3 .466 1.0 .466 1.1 .466 0.1 .466 1.7 .466 -5.1 .466 -2.4 .466 1.6 .466 0.5 .466 0.8 .466 -2.3 .466 -0.0 .466 5.7 .466 -2.7 .466 0.3 .466 2.9 .466 -7.5 .466 5.0 .466 -0.6 .466 1.3 .466 -6.2 .466 8.4 .466 -4.4 .466 1.9 .466 -2.3 .466 5.0 .466 -4.9 .466 -6.4 .466 4.2 .466 4.2 .466 1.4 .466 -3.3 .466 -2.9 .466 3.6" fill="none" stroke="#FF0000" stroke-width="11" stroke-linejoin="round" stroke-linecap="round" shape-rendering="crispEdges" transform="translate(0,262.5)"/>
<path d="M215.0 1381.5l.466 3.2 .466 5.3 .466 -2.3 .466 -5.7 .466 4.8 .466 0.4 .466 -3.3 .466 5.5 .466 -6.5 .466 3.9 .466 0.9 .466 -0.5 .466 1.1 .466 1.4 .466 5.6 .466 -9.2 .466 2.9 .466 0.5 .466 -3.2 .466 -16.2 .466 27.0 .466 -10.6 .466 0.2 .466 6.2 .466 -4.1 .466 -0.7 .466 2.6 .466 -11.0 .466 10.3 .466 -2.5 .466 -4.3 .466 6.4 .466 5.0 .466 -8.8 .466 3.7 .466 -2.5 .466 3.6 .466 -0.2 .466 -4.3 .466 5.9 .466 -2.2 .466 0.3 .466 1.8 .466 -3.6 .466 2.7 .466 2.1 .466 -9.2 .466 8.6 .466 -4.4 .466 0.6 .466 -3.6 .466 5.3 .466 -3.2 .466 5.9 .466 -6.0 .466 2.2 .466 -1.1 .466 1.5 .466 -3.6 .466 -0.3 .466 5.2 .466 0.1 .466 -1.7 .466 5.2 .466 -8.4 .466 6.5 .466 -7.0 .466 11.4 .466 -7.2 .466 -0.2 .466 8.0 .466 -6.1 .466 0.0 .466 -9.4 .466 5.8 .466 -4.5 .466 2.5 .466 0.3 .466 6.5 .466 -8.1 .466 2.6 .466 1.5 .466 3.7 .466 4.5 .466 -6.6 .466 -4.2 .466 2.8 .466 1.3 .466 -8.6 .466 8.3 .466 -2.3 .466 1.5 .466 0.6 .466 -0.0 .466 -1.2 .466 0.2 .466 -3.3 .466 2.8 .466 -4.3 .466 4.1 .466 0.3 .466 2.2 .466 -3.2 .466 -9.4 .466 10.2 .466 -3.0 .466 4.7 .466 -2.9 .466 -0.1 .466 6.1 .466 -6.1 .466 -0.4 .466 -0.1 .466 0.9 .466 -5.1 .466 5.4 .466 5.4 .466 -5.4 .466 1.6 .466 4.9 .466 -3.5 .466 -1.6 .466 0.9 .466 0.1 .466 -5.4 .466 2.0 .466 -1.2 .466 -0.9 .466 2.4 .466 -1.9 .466 2.2 .466 -0.4 .466 -5.5 .466 4.4 .466 -0.5 .466 2.4 .466 -7.2 .466 2.0 .466 3.4 .466 -0.8 .466 1.8 .466 -2.6 .466 -1.7 .466 9.1 .466 -8.6 .466 -1.7 .466 2.0 .466 0.5 .466 -1.4 .466 2.7 .466 6.2 .466 -10.9 .466 3.7 .466 1.8 .466 3.2 .466 14.3 .466 -23.0 .466 4.1 .466 4.2 .466 -11.7 .466 7.7 .466 -4.1 .466 5.7 .466 4.1 .466 -6.4 .466 -13.1 .466 6.2 .466 5.8 .466 4.3 .466 -6.2 .466 3.6 .466 -2.0 .466 -1.4 .466 3.6 .466 -3.3 .466 0.5 .466 3.3 .466 -2.5 .466 2.7 .466 -2.7 .466 -3.8 .466 3.2 .466 4.7 .466 -4.0 .466 8.0 .466 -27.8 .466 17.9 .466 3.7 .466 -1.1 .466 -1.1 .466 0.8 .466 3.1 .466 -3.1 .466 -1.2 .466 0.0 .466 0.8 .466 -2.7 .466 2.6 .466 -0.5 .466 1.8 .466 -2.9 .466 -9.4 .466 9.6 .466 3.8 .466 -3.1 .466 -0.0 .466 -2.0 .466 -0.4 .466 2.9 .466 -8.0 .466 10.3 .466 0.2 .466 3.8 .466 -12.7 .466 -0.6 .466 9.7 .466 -5.8 .466 -1.4 .466 1.1 .466 2.0 .466 -5.0 .466 3.5 .466 1.3 .466 0.6 .466 -14.1 .466 15.2 .466 -3.7 .466 -0.1 .466 0.8 .466 -2.4 .466 6.7 .466 -7.7 .466 3.0 .466 -4.0 .466 4.4 .466 4.4 .466 -0.7 .466 -9.1 .466 5.2 .466 4.0 .466 -8.2 .466 2.4 .466 2.3 .466 0.2 .466 -2.5 .466 1.3 .466 0.2 .466 -2.6 .466 2.3 .466 -0.7 .466 1.0 .466 -1.7 .466 -1.4 .466 0.7 .466 6.6 .466 -9.5 .466 -0.9 .466 -8.4 .466 16.3 .466 8.4 .466 -15.1 .466 0.3 .466 -1.1 .466 3.7 .466 -0.9 .466 3.4 .466 -6.4 .466 7.5 .466 -5.0 .466 3.3 .466 -0.2 .466 2.6 .466 -5.9 .466 0.8 .466 -0.5 .466 -3.8 .466 3.2 .466 6.3 .466 -0.8 .466 -16.4 .466 11.8 .466 -2.9 .466 -3.0 .466 -0.0 .466 7.2 .466 5.3 .466 -8.4 .466 -1.2 .466 0.9 .466 3.4 .466 -1.4 .466 -9.4 .466 4.0 .466 7.3 .466 -4.7 .466 1.2 .466 1.3 .466 -1.7 .466 0.9 .466 -1.9 .466 -3.1 .466 -0.9 .466 18.1 .466 -28.1 .466 14.7 .466 3.1 .466 -7.7 .466 -5.4 .466 7.0 .466 -0.8 .466 1.1 .466 -0.4 .466 7.8 .466 -12.5 .466 12.3 .466 -15.8 .466 15.2 .466 -8.7 .466 3.3 .466 -19.7 .466 17.0 .466 1.8 .466 -0.7 .466 2.2 .466 -7.6 .466 3.2 .466 1.5 .466 -10.9 .466 13.6 .466 -4.6 .466 -2.0 .466 -0.5 .466 3.9 .466 -9.5 .466 5.5 .466 0.6 .466 -0.7 .466 4.3 .466 -1.6 .466 4.9 .466 -4.1 .466 -3.8 .466 0.2 .466 -3.5 .466 2.2 .466 3.2 .466 1.2 .466 -4.2 .466 0.4 .466 4.5 .466 5.3 .466 -15.2 .466 -0.7 .466 9.3 .466 -2.8 .466 -0.7 .466 1.6 .466 1.3 .466 -9.7 .466 15.9 .466 -0.4 .466 -9.6 .466 0.2 .466 -2.1 .466 2.7 .466 -4.0 .466 3.3 .466 5.5 .466 -6.0 .466 3.6 .466 -7.6 .466 8.8 .466 -10.5 .466 1.9 .466 5.0 .466 -4.1 .466 -3.5 .466 -1.3 .466 9.4 .466 -15.0 .466 3.6 .466 15.8 .466 -5.2 .466 -4.2 .466 -2.5 .466 8.1 .466 -1.8 .466 -1.8 .466 -1.4 .466 -0.2 .466 11.0 .466 -11.3 .466 -6.8 .466 -0.6 .466 7.6 .466 1.4 .466 -1.4 .466 1.2 .466 -4.5 .466 0.7 .466 -1.4 .466 1.2 .466 -1.4 .466 6.2 .466 -8.7 .466 1.1 .466 5.2 .466 -3.1 .466 -0.7 .466 12.3 .466 -5.4 .466 -8.9 .466 -1.4 .466 4.1 .466 0.5 .466 -2.1 .466 2.0 .466 0.7 .466 1.9 .466 -6.5 .466 3.8 .466 -9.4 .466 0.2 .466 -0.7 .466 2.6 .466 8.4 .466 -4.3 .466 0.9 .466 -0.5 .466 -3.1 .466 -5.8 .466 5.1 .466 8.3 .466 -6.3 .466 0.7 .466 -1.9 .466 4.7 .466 -0.7 .466 -3.1 .466 0.9 .466 -1.1 .466 1.4 .466 -0.0 .466 -0.3 .466 5.3 .466 2.5 .466 -17.5 .466 7.4 .466 -8.6 .466 8.3 .466 4.4 .466 -2.0 .466 -1.3 .466 -7.4 .466 10.3 .466 -2.9 .466 -3.1 .466 5.0 .466 -13.1 .466 5.8 .466 6.9 .466 -12.6 .466 3.9 .466 4.9 .466 2.0 .466 -1.5 .466 -11.0 .466 7.6 .466 4.2 .466 -3.6 .466 -2.5 .466 -17.2 .466 18.1 .466 9.9 .466 -16.7 .466 9.2 .466 6.0 .466 -4.8 .466 -4.4 .466 3.4 .466 -7.1 .466 5.4 .466 -2.7 .466 7.7 .466 -0.4 .466 -2.4 .466 -4.2 .466 4.4 .466 8.8 .466 -13.9 .466 1.2 .466 -4.8 .466 -1.8 .466 8.0 .466 -10.8 .466 9.0 .466 -7.0 .466 7.2 .466 0.9 .466 5.4 .466 -9.6 .466 -0.3 .466 -0.2 .466 2.8 .466 1.0 .466 -9.5 .466 3.9 .466 -7.4 .466 5.5 .466 5.3 .466 5.5 .466 4.4 .466 -21.2 .466 6.9 .466 6.1 .466 -5.7 .466 -1.8 .466 4.6 .466 1.6 .466 -10.4 .466 4.9 .466 -5.3 .466 0.6 .466 4.1 .466 -3.2 .466 6.4 .466 -5.3 .466 -3.0 .466 5.1 .466 -4.0 .466 -5.7 .466 32.4 .466 -28.5 .466 -1.5 .466 5.1 .466 -19.6 .466 23.1 .466 -11.3 .466 -2.7 .466 21.2 .466 -10.8 .466 7.7 .466 -1.6 .466 -3.9 .466 -14.1 .466 12.8 .466 -9.7 .466 -7.5 .466 20.5 .466 -6.9 .466 4.8 .466 -2.6 .466 3.1 .466 -2.1 .466 10.5 .466 -12.1 .466 5.2 .466 -0.9 .466 -3.4 .466 -0.8 .466 -0.7 .466 2.0 .466 -5.3 .466 3.3 .466 1.9 .466 -3.5 .466 -1.4 .466 -3.0 .466 10.2 .466 1.8 .466 -1.2 .466 -2.4 .466 -1.2 .466 -9.8 .466 14.6 .466 -6.1 .466 2.1 .466 -7.7 .466 8.5 .466 -7.8 .466 15.2 .466 -8.0 .466 -2.0 .466 1.2 .466 -4.7 .466 3.1 .466 -7.2 .466 4.8 .466 0.0 .466 -2.3 .466 3.8 .466 -7.8 .466 -3.7 .466 10.4 .466 18.4 .466 -14.3 .466 -3.2 .466 -3.2 .466 -2.0 .466 5.0 .466 2.2 .466 2.8 .466 -4.8 .466 5.3 .466 -1.0 .466 0.9 .466 -6.7 .466 1.3 .466 -4.4 .466 5.4 .466 -11.0 .466 9.8 .466 -4.4 .466 4.4 .466 -4.0 .466 -19.9 .466 23.3 .466 -0.0 .466 0.9 .466 -6.1 .466 5.7 .466 -2.2 .466 -5.4 .466 6.6 .466 2.5 .466 -3.8 .466 4.3 .466 1.3 .466 -18.4 .466 11.3 .466 1.1 .466 3.1 .466 -0.9 .466 0.6 .466 -8.5 .466 5.6 .466 -2.4 .466 7.5 .466 -0.9 .466 -4.0 .466 7.8 .466 -11.1 .466 -8.4 .466 12.6 .466 2.9 .466 7.5 .466 -9.1 .466 -5.4 .466 6.3 .466 -14.8 .466 18.2 .466 -5.9 .466 -4.7 .466 1.7 .466 9.5 .466 2.5 .466 -10.9 .466 27.2 .466 -17.6 .466 -6.9 .466 -7.6 .466 4.6 .466 4.5 .466 -3.0 .466 -0.4 .466 1.8 .466 8.4 .466 -16.5 .466 18.6 .466 -8.0 .466 3.2 .466 -2.4 .466 9.1 .466 -13.1 .466 1.5 .466 3.0 .466 0.1 .466 -1.6 .466 -0.2 .466 -4.9 .466 7.2 .466 4.5 .466 1.1 .466 -6.0 .466 13.9 .466 -1.9 .466 -12.7 .466 -4.0 .466 10.5 .466 4.3 .466 -7.1 .466 9.4 .466 -10.8 .466 0.4 .466 -7.8 .466 6.6 .466 9.0 .466 -14.0 .466 1.3 .466 -5.7 .466 11.1 .466 1.0 .466 -0.5 .466 5.5 .466 -3.8 .466 -0.4 .466 -0.3 .466 -0.8 .466 -7.6 .466 1.2 .466 8.0 .466 -4.7 .466 2.8 .466 2.2 .466 -0.4 .466 -3.7 .466 0.5 .466 -2.5 .466 6.8 .466 0.8 .466 -7.5 .466 2.9 .466 -2.3 .466 6.0 .466 -3.0 .466 7.6 .466 -7.8 .466 3.9 .466 0.0 .466 7.5 .466 -6.2 .466 5.8 .466 -7.2 .466 -20.5 .466 18.3 .466 4.4 .466 -4.0 .466 3.1 .466 -7.2 .466 7.3 .466 -2.4 .466 10.0 .466 -16.5 .466 6.6 .466 4.4 .466 -3.9 .466 0.8 .466 -1.2 .466 -4.8 .466 4.9 .466 7.4 .466 -2.4 .466 -4.8 .466 3.6 .466 2.0 .466 0.2 .466 -12.2 .466 4.4 .466 14.2 .466 -11.8 .466 5.6 .466 -1.9 .466 4.3 .466 -12.6 .466 15.5 .466 -2.4 .466 -8.3 .466 5.2 .466 -19.4 .466 22.6 .466 -5.7 .466 3.4 .466 1.0 .466 -14.8 .466 17.2 .466 -11.6 .466 1.6 .466 4.4 .466 -2.2 .466 4.1 .466 -5.0 .466 5.0 .466 1.9 .466 7.4 .466 -11.0 .466 -1.1 .466 2.9 .466 0.8 .466 6.0 .466 -6.4 .466 -1.2 .466 -1.4 .466 4.5 .466 -1.0 .466 -8.7 .466 5.6 .466 -2.1 .466 4.3 .466 -1.0 .466 -3.3 .466 4.8 .466 1.3 .466 -2.8 .466 5.8 .466 -10.4 .466 -2.1 .466 10.5 .466 -1.4 .466 2.2 .466 5.2 .466 -7.7 .466 3.9 .466 -2.4 .466 -1.2 .466 -0.0 .466 15.9 .466 -17.2 .466 0.8 .466 0.5 .466 1.6 .466 -9.3 .466 9.5 .466 -11.2 .466 8.9 .466 0.7 .466 1.1 .466 0.1 .466 0.3 .466 -12.4 .466 10.1 .466 4.1 .466 -3.1 .466 4.8 .466 -3.6 .466 0.3 .466 1.1 .466 11.3 .466 -31.4 .466 13.1 .466 -1.0 .466 3.3 .466 -8.8 .466 26.4 .466 -18.7 .466 4.5 .466 5.8 .466 -5.7 .466 -2.4 .466 0.7 .466 1.4 .466 -1.1 .466 1.7 .466 -0.5 .466 -6.1 .466 12.2 .466 5.5 .466 -10.1 .466 -6.8 .466 12.9 .466 -7.6 .466 0.2 .466 -1.5 .466 10.1 .466 -5.5 .466 -3.7 .466 0.8 .466 0.6 .466 -0.4 .466 2.7 .466 7.2 .466 -18.0 .466 13.9 .466 0.1 .466 -7.6 .466 15.1 .466 -6.5 .466 -3.0 .466 -8.0 .466 5.4 .466 3.3 .466 -2.3 .466 -8.4 .466 11.0 .466 -3.5 .466 -2.3 .466 1.8 .466 -4.5 .466 4.8 .466 -11.8 .466 34.9 .466 -26.6 .466 3.5 .466 -0.4 .466 1.7 .466 -1.1 .466 7.2 .466 -9.2 .466 23.1 .466 -20.2 .466 13.7 .466 -14.1 .466 -5.3 .466 11.1 .466 -8.4 .466 6.9 .466 3.0 .466 -8.4 .466 1.5 .466 2.3 .466 4.6 .466 -0.3 .466 -4.7 .466 0.8 .466 3.0 .466 -7.8 .466 12.0 .466 -2.5 .466 -7.6 .466 4.0 .466 1.3 .466 -0.9 .466 -8.4 .466 -0.5 .466 4.9 .466 -2.7 .466 5.8 .466 2.6 .466 -1.7 .466 5.7 .466 -6.2 .466 -0.2 .466 -4.6 .466 14.0 .466 -7.1 .466 10.5 .466 -4.3 .466 -14.0 .466 7.5 .466 -0.8 .466 2.8 .466 -11.5 .466 10.5 .466 -0.4 .466 -1.9 .466 -3.9 .466 6.9 .466 -10.2 .466 7.3 .466 -9.1 .466 9.0 .466 -0.7 .466 3.7 .466 0.8 .466 0.4 .466 -2.6 .466 3.4 .466 -1.1 .466 -1.0 .466 2.8 .466 7.7 .466 -10.6 .466 9.7 .466 -8.3 .466 -1.8 .466 0.9 .466 1.6 .466 -2.9 .466 8.6 .466 -7.6 .466 2.1 .466 3.6 .466 -0.6 .466 -2.2 .466 0.6 .466 0.7 .466 -1.8 .466 -1.1 .466 6.4 .466 -9.8 .466 -0.7 .466 3.4 .466 -0.9 .466 13.4 .466 -10.3 .466 5.2 .466 -4.8 .466 -3.3 .466 8.1 .466 0.4 .466 -10.1 .466 7.8 .466 -2.1 .466 -4.1 .466 2.4 .466 3.8 .466 -5.7 .466 4.5 .466 -0.5 .466 0.1 .466 -3.7 .466 7.5 .466 -3.4 .466 1.5 .466 -0.5 .466 -2.5 .466 3.9 .466 -2.9 .466 7.5 .466 -6.8 .466 -2.9 .466 3.2 .466 -0.5 .466 9.3 .466 -9.9 .466 7.2 .466 -15.7 .466 6.0 .466 2.9 .466 4.4 .466 -1.4 .466 -1.3 .466 0.1 .466 4.8 .466 -6.8 .466 6.0 .466 -3.9 .466 2.9 .466 1.9 .466 -3.9 .466 -2.6 .466 0.8 .466 0.3 .466 -3.2 .466 5.3 .466 1.9 .466 -2.0 .466 9.5 .466 -1.1 .466 -4.4 .466 0.3 .466 -4.6 .466 4.2 .466 -10.2 .466 -3.4 .466 4.4 .466 5.4 .466 3.7 .466 -11.6 .466 8.7 .466 1.7 .466 3.4 .466 -3.6 .466 -2.9 .466 -3.6 .466 6.2 .466 3.2 .466 0.6 .466 -2.8 .466 -4.5 .466 -3.0 .466 -1.5 .466 6.0 .466 2.4 .466 -4.4 .466 5.2 .466 -2.6 .466 4.7 .466 -2.8 .466 2.5 .466 -4.9 .466 2.8 .466 4.6 .466 -16.8 .466 18.7 .466 -6.2 .466 17.6 .466 -20.2 .466 1.9 .466 1.7 .466 -0.9 .466 0.3 .466 3.6 .466 -8.4 .466 5.9 .466 -2.4 .466 6.5 .466 1.8 .466 -8.2 .466 -0.7 .466 6.7 .466 1.9 .466 -4.7 .466 3.0 .466 2.1 .466 -7.9 .466 -1.0 .466 -6.3 .466 7.1 .466 -2.4 .466 4.9 .466 -1.2 .466 6.3 .466 -5.5 .466 -4.0 .466 1.4 .466 1.1 .466 0.2 .466 7.1 .466 -6.2 .466 -2.6 .466 -0.5 .466 2.6 .466 -6.6 .466 5.8 .466 5.7 .466 0.8 .466 -5.7 .466 -0.2 .466 -1.7 .466 2.1 .466 -0.9 .466 1.5 .466 6.9 .466 -5.7 .466 -6.8 .466 0.8 .466 5.3 .466 -20.7 .466 0.0 .466 0.0 .466 17.0 .466 -0.4 .466 14.0 .466 -6.7 .466 -5.2 .466 3.8 .466 -2.2 .466 1.6 .466 -2.1 .466 0.9 .466 5.9 .466 -8.0 .466 2.7 .466 6.5 .466 -17.3 .466 6.3 .466 1.2 .466 1.7 .466 -0.9 .466 7.8 .466 -10.8 .466 1.7 .466 -4.8 .466 2.9 .466 4.3 .466 -8.5 .466 15.1 .466 -4.8 .466 -8.6 .466 9.0 .466 -22.1 .466 0.0 .466 0.0 .466 15.5 .466 3.9 .466 4.8 .466 -11.2 .466 3.1 .466 2.9 .466 8.4 .466 -9.4 .466 5.7 .466 -4.3 .466 -0.6 .466 2.9 .466 -5.8 .466 3.4 .466 -9.4 .466 9.4 .466 16.5 .466 -23.4 .466 1.1 .466 6.1 .466 6.3 .466 -6.4 .466 8.4 .466 -10.4 .466 15.6 .466 -17.0 .466 5.7 .466 -4.1 .466 5.1 .466 -12.9 .466 7.5 .466 8.1 .466 -3.8 .466 -2.8 .466 -0.9 .466 8.5 .466 -10.7 .466 -0.1 .466 -3.9 .466 8.6 .466 4.6 .466 -10.7 .466 7.2 .466 0.1 .466 -5.7 .466 3.2 .466 0.4 .466 -8.1 .466 15.1 .466 -12.2 .466 0.4 .466 6.0 .466 -1.8 .466 2.9 .466 -1.8 .466 -6.9 .466 5.4 .466 11.3 .466 -12.7 .466 -1.7 .466 8.5 .466 -11.2 .466 5.4 .466 16.6 .466 -11.5 .466 -9.0 .466 -1.5 .466 5.9 .466 1.7 .466 1.8 .466 -6.6 .466 2.6 .466 0.2 .466 -1.3 .466 3.2 .466 -1.3 .466 -0.9 .466 3.3 .466 -4.5 .466 2.6 .466 2.0 .466 -4.2 .466 -8.1 .466 -10.4 .466 22.8 .466 0.4 .466 -1.5 .466 -12.4 .466 8.1 .466 10.2 .466 -7.5 .466 -0.9 .466 10.3 .466 -0.3 .466 -12.0 .466 4.4 .466 1.4 .466 0.7 .466 1.9 .466 -3.7 .466 -9.3 .466 5.1 .466 -1.5 .466 4.3 .466 -0.8 .466 9.6 .466 -12.6 .466 -2.2 .466 -5.0 .466 6.5 .466 8.5 .466 -4.5 .466 -3.4 .466 3.0 .466 0.6 .466 -2.7 .466 -9.9 .466 13.0 .466 -1.2 .466 -6.9 .466 6.2 .466 -4.4 .466 3.6 .466 2.8 .466 -1.4 .466 -2.3 .466 4.0 .466 -5.1 .466 3.6 .466 -3.2 .466 2.8 .466 -0.6 .466 0.2 .466 3.2 .466 -0.8 .466 7.7 .466 -14.1 .466 14.7 .466 -10.7 .466 -5.8 .466 -14.5 .466 15.9 .466 2.1 .466 1.3 .466 3.9 .466 -1.4 .466 2.3 .466 -1.9 .466 -0.2 .466 7.0 .466 -9.8 .466 -7.0 .466 4.5 .466 -1.3 .466 1.7 .466 -4.0 .466 8.3 .466 -9.3 .466 1.1 .466 -4.1 .466 9.7 .466 -1.7 .466 1.7 .466 -12.6 .466 0.3 .466 6.5 .466 -2.9 .466 -13.0 .466 2.9 .466 -10.9 .466 9.5 .466 -3.2 .466 -0.1 .466 -9.1 .466 -9.9 .466 -6.1 .466 -3.3 .466 -9.2 .466 5.2 .466 -19.6 .466 -8.1 .466 6.4 .466 -25.8 .466 -7.2 .466 -14.9 .466 10.6 .466 -15.6 .466 -6.3 .466 3.7 .466 -1.5 .466 -13.0 .466 -1.3 .466 16.4 .466 9.4 .466 -5.3 .466 9.4 .466 -10.7 .466 23.6 .466 -0.3 .466 10.8 .466 4.1 .466 18.8 .466 8.0 .466 5.7 .466 9.8 .466 -4.0 .466 10.0 .466 3.9 .466 8.8 .466 7.4 .466 -4.0 .466 13.3 .466 -4.9 .466 0.2 .466 3.0 .466 7.0 .466 -16.6 .466 16.0 .466 -0.3 .466 3.2 .466 -0.2 .466 -4.5 .466 2.5 .466 14.0 .466 -8.2 .466 6.4 .466 2.4 .466 -7.2 .466 5.7 .466 -6.5 .466 -0.9 .466 5.6 .466 -4.6 .466 -0.5 .466 2.2 .466 -0.3 .466 9.6 .466 -2.9 .466 -3.3 .466 3.5 .466 -7.6 .466 0.3 .466 1.1 .466 2.2 .466 -11.0 .466 5.0 .466 3.3 .466 -3.1 .466 3.4 .466 -3.0 .466 3.8 .466 1.4 .466 0.9 .466 3.0 .466 -4.9 .466 1.0 .466 5.6 .466 -15.8 .466 11.5 .466 -4.9 .466 -7.4 .466 17.5 .466 -3.6 .466 -1.5 .466 3.6 .466 5.1 .466 -7.6 .466 -0.8 .466 -20.4 .466 0.0 .466 0.0 .466 15.8 .466 5.0 .466 -1.9 .466 10.1 .466 -9.2 .466 -2.4 .466 9.8 .466 -7.0 .466 -2.7 .466 -2.4 .466 3.4 .466 3.4 .466 -1.7 .466 3.9 .466 3.8 .466 -9.1 .466 -4.4 .466 11.3 .466 -1.0 .466 3.3 .466 -9.2 .466 6.7 .466 -3.5 .466 -1.2 .466 2.5 .466 5.1 .466 -0.5 .466 0.5 .466 -6.0 .466 2.2 .466 -3.0 .466 0.9 .466 6.7 .466 -8.8 .466 11.2 .466 2.8 .466 -8.9 .466 1.3 .466 8.0 .466 -6.6 .466 1.1 .466 -0.6 .466 -9.3 .466 10.1 .466 -1.0 .466 -2.8 .466 -6.6 .466 7.0 .466 1.6 .466 -1.4 .466 1.8 .466 -1.3 .466 2.5 .466 5.2 .466 -18.1 .466 12.4 .466 2.3 .466 -13.0 .466 9.7 .466 3.4 .466 -1.6 .466 -2.3 .466 -0.3 .466 -7.7 .466 9.0 .466 3.3 .466 0.1 .466 -1.6 .466 -1.8 .466 -2.3 .466 0.4 .466 -1.6 .466 2.1 .466 -13.0 .466 14.0 .466 3.0 .466 -4.1 .466 5.3 .466 -3.6 .466 2.3 .466 12.9 .466 -20.8 .466 4.3 .466 -3.0 .466 -0.7 .466 6.1 .466 -17.2 .466 15.9 .466 5.1 .466 -6.4 .466 2.0 .466 -6.0 .466 6.7 .466 0.2 .466 -2.1 .466 5.2 .466 -5.6 .466 0.3 .466 -12.0 .466 14.5 .466 -4.7 .466 2.8 .466 -1.7 .466 -3.9 .466 3.6 .466 6.7 .466 -5.5 .466 -6.2 .466 5.1 .466 5.1 .466 -15.3 .466 -9.7 .466 22.7 .466 -2.8 .466 1.6 .466 -3.9 .466 1.8 .466 -4.5 .466 -0.9 .466 5.1 .466 3.6 .466 -3.8 .466 -11.7 .466 -5.4 .466 19.0 .466 -3.6 .466 -2.1 .466 0.8 .466 8.4 .466 -6.5 .466 -4.2 .466 0.8 .466 -3.6 .466 14.4 .466 -7.9 .466 -0.1 .466 -6.9 .466 5.1 .466 5.2 .466 0.6 .466 -4.4 .466 -1.6 .466 10.2 .466 -9.9 .466 -0.6 .466 -2.2 .466 4.0 .466 3.9 .466 -3.8 .466 3.2 .466 -5.0 .466 3.0 .466 -5.2 .466 3.1 .466 -1.4 .466 -0.2 .466 4.1 .466 -5.4 .466 2.7 .466 -1.2 .466 5.9 .466 -7.7 .466 1.2 .466 3.0 .466 -3.8 .466 3.7 .466 8.7 .466 -12.2 .466 1.2 .466 -11.3 .466 13.7 .466 -4.3 .466 1.6 .466 -4.1 .466 4.2 .466 -1.7 .466 14.4 .466 -7.2 .466 -7.6 .466 -4.6 .466 1.4 .466 1.8 .466 2.5 .466 1.7 .466 -0.9 .466 -2.7 .466 -3.8 .466 0.3 .466 -3.7 .466 2.0 .466 -2.4 .466 0.4 .466 -11.1 .466 2.0 .466 6.0 .466 -3.8 .466 -4.5 .466 11.0 .466 -25.9 .466 17.6 .466 -7.3 .466 -33.1 .466 24.8 .466 -9.0 .466 -12.4 .466 -1.8 .466 -0.8 .466 -28.1 .466 -3.0 .466 -15.0 .466 1.0 .466 -25.7 .466 -14.5 .466 -14.4 .466 -1.2 .466 -24.3 .466 3.0 .466 -39.7 .466 -0.8 .466 -17.6 .466 -8.1 .466 -7.3 .466 1.0 .466 -5.9 .466 3.9 .466 12.8 .466 2.6 .466 -11.8 .466 29.6 .466 17.4 .466 10.7 .466 8.7 .466 15.2 .466 20.4 .466 17.0 .466 11.8 .466 9.4 .466 9.8 .466 14.2 .466 19.0 .466 -5.8 .466 7.9 .466 8.3 .466 14.4 .466 -6.8 .466 15.0 .466 4.4 .466 5.0 .466 3.4 .466 7.6 .466 -3.7 .466 -0.2 .466 9.1 .466 -4.5 .466 -0.2 .466 -5.8 .466 21.4 .466 -6.4 .466 0.5 .466 -6.3 .466 10.6 .466 -10.5 .466 9.6 .466 2.6 .466 -3.5 .466 -2.6 .466 14.1 .466 -18.2 .466 6.6 .466 3.3 .466 0.6 .466 -4.0 .466 1.5 .466 1.6 .466 11.6 .466 4.0 .466 -19.4 .466 9.8 .466 -4.7 .466 -1.3 .466 2.1 .466 -6.8 .466 9.6 .466 -0.1 .466 -3.8 .466 -6.7 .466 11.6 .466 8.3 .466 -14.6 .466 15.9 .466 -10.8 .466 -2.8 .466 5.2 .466 0.1 .466 -3.5 .466 1.8 .466 -3.1 .466 3.5 .466 -3.6 .466 2.1 .466 4.0 .466 0.2 .466 -1.5 .466 4.3 .466 -2.8 .466 -1.8 .466 0.7 .466 -5.6 .466 -3.5 .466 5.7 .466 4.8 .466 9.4 .466 -14.3 .466 13.2 .466 -7.0 .466 -6.9 .466 4.0 .466 -2.3 .466 4.4 .466 -3.3 .466 0.4 .466 1.4 .466 -2.2 .466 4.7 .466 -2.0 .466 -8.0 .466 7.8 .466 -0.9 .466 6.9 .466 1.4 .466 -14.5 .466 9.4 .466 -1.6 .466 -0.8 .466 -4.8 .466 10.0 .466 -3.9 .466 -0.1 .466 7.4 .466 -12.9 .466 3.9 .466 -7.8 .466 6.8 .466 20.4 .466 -19.3 .466 4.3 .466 0.8 .466 -3.8 .466 3.3 .466 -6.2 .466 -3.3 .466 3.3 .466 -2.4 .466 0.1 .466 -2.3 .466 1.4 .466 1.4 .466 5.2 .466 -1.9 .466 14.8 .466 -12.1 .466 5.7 .466 -4.6 .466 3.2 .466 1.9 .466 -7.7 .466 -1.6 .466 -3.4 .466 14.4 .466 -10.8 .466 12.9 .466 -8.5 .466 1.3 .466 -11.6 .466 14.0 .466 -11.2 .466 8.8 .466 -11.5 .466 15.9 .466 -14.2 .466 3.3 .466 3.4 .466 -3.0 .466 -1.4 .466 3.8 .466 -5.8 .466 7.5 .466 1.5 .466 -2.0 .466 0.5 .466 -2.6 .466 2.1 .466 1.1 .466 5.6 .466 -6.3 .466 10.6 .466 -11.3 .466 1.5 .466 1.2 .466 -6.9 .466 8.5 .466 0.1 .466 -8.0 .466 5.8 .466 -1.7 .466 -2.6 .466 0.6 .466 -1.4 .466 10.3 .466 -2.8 .466 -1.2 .466 -5.2 .466 5.2 .466 -3.9 .466 2.1 .466 -10.0 .466 15.5 .466 -6.6 .466 2.7 .466 -6.0 .466 1.6 .466 5.3 .466 -0.6 .466 -0.9 .466 -1.4 .466 1.8 .466 4.3 .466 -2.0 .466 -0.5 .466 -3.0 .466 0.0 .466 5.5 .466 -6.9 .466 2.1 .466 -2.8 .466 2.3 .466 -1.9 .466 6.8 .466 0.8 .466 -6.2 .466 3.8 .466 0.2 .466 1.5 .466 -2.3 .466 -4.5 .466 3.6 .466 -3.0 .466 1.9 .466 -6.6 .466 -3.5 .466 15.8 .466 -5.7 .466 0.3 .466 1.0 .466 -9.6 .466 9.8 .466 0.8 .466 -8.5 .466 9.8 .466 -3.0 .466 0.1 .466 -1.6 .466 -5.2 .466 4.0 .466 -0.1 .466 5.7 .466 -1.9 .466 6.1 .466 -10.0 .466 5.8 .466 -1.3 .466 -1.6 .466 2.1 .466 -5.1 .466 5.4 .466 -3.9 .466 2.2 .466 1.0 .466 -3.7 .466 10.9 .466 -12.8 .466 9.4 .466 3.9 .466 -5.8 .466 -3.3 .466 3.0 .466 -1.7 .466 10.0 .466 -9.3 .466 -5.9 .466 4.6 .466 -6.0 .466 5.9 .466 -4.6 .466 4.4 .466 2.9 .466 -11.7 .466 7.9 .466 -5.3 .466 5.0 .466 0.5 .466 -10.0 .466 9.5 .466 2.8 .466 -1.6 .466 -4.1 .466 3.7 .466 -9.4 .466 6.2 .466 3.4 .466 -3.0 .466 3.8 .466 -4.7 .466 6.9 .466 1.0 .466 -0.1 .466 -1.1 .466 -1.5 .466 3.3 .466 -8.5 .466 -2.9 .466 6.1 .466 10.3 .466 -9.2 .466 0.6 .466 -2.4 .466 2.4 .466 1.9 .466 -1.8 .466 -8.2 .466 6.7 .466 0.3 .466 -3.7 .466 -3.6 .466 9.7 .466 -12.8 .466 9.4 .466 2.5 .466 1.9 .466 -4.6 .466 -3.9 .466 11.6 .466 -4.4 .466 1.0 .466 -1.0 .466 0.3 .466 -7.6 .466 1.8 .466 8.8 .466 -6.2 .466 2.4 .466 0.9 .466 -1.5 .466 -6.6 .466 7.0 .466 -0.7 .466 -1.5 .466 1.3 .466 0.9 .466 -8.5 .466 7.2 .466 -2.0 .466 2.8 .466 -3.2 .466 2.7 .466 0.3 .466 -3.3 .466 1.3 .466 2.7 .466 0.4 .466 4.9 .466 -4.9 .466 -0.4 .466 9.7 .466 -0.6 .466 -9.4 .466 -0.3 .466 6.9 .466 -7.8 .466 4.3 .466 -6.3 .466 -0.1 .466 1.5 .466 1.7 .466 -0.9 .466 -1.8 .466 -2.6 .466 -0.7 .466 11.1 .466 -2.4 .466 -0.0 .466 -1.7 .466 -0.5 .466 -0.7 .466 1.7 .466 -1.9 .466 4.7 .466 -6.5 .466 2.0 .466 2.7 .466 -1.9 .466 1.7 .466 -0.2 .466 -2.9 .466 0.4 .466 -6.2 .466 5.9 .466 7.6 .466 -12.9 .466 11.8 .466 -1.7 .466 -1.5 .466 -6.0 .466 7.1 .466 6.0 .466 -10.9 .466 -2.6 .466 0.4 .466 1.6 .466 -0.1 .466 -3.8 .466 3.2 .466 1.7 .466 3.1 .466 10.9 .466 -26.0 .466 18.3 .466 -0.5 .466 4.8 .466 -9.6 .466 -0.8 .466 -1.7 .466 0.8 .466 -0.4 .466 0.1 .466 1.5 .466 -5.7 .466 2.1 .466 3.7 .466 -8.7 .466 12.6 .466 -1.8 .466 -3.8 .466 4.5 .466 6.8 .466 -6.5 .466 -4.3 .466 2.4 .466 1.0 .466 1.8 .466 -4.3 .466 -1.3 .466 1.4 .466 -6.9 .466 11.5 .466 -2.7 .466 -1.0 .466 0.1 .466 7.5 .466 -16.1 .466 13.5 .466 -6.8 .466 1.6 .466 -0.4 .466 -1.0 .466 0.5 .466 1.4 .466 -2.0 .466 -1.0 .466 -11.5 .466 12.7 .466 1.4 .466 -7.1 .466 -0.1 .466 11.5 .466 -16.9 .466 7.3 .466 4.2 .466 2.4 .466 -0.1 .466 -0.9 .466 -0.9 .466 -0.2 .466 -6.9 .466 9.5 .466 2.1 .466 10.7 .466 -16.5 .466 1.5 .466 -1.7 .466 3.8 .466 0.1 .466 -5.0 .466 0.6 .466 8.1 .466 -4.9 .466 -3.9 .466 2.2 .466 0.6 .466 2.1 .466 1.6 .466 -0.3 .466 -7.3 .466 -1.2 .466 6.7 .466 0.5 .466 -7.0 .466 5.5 .466 2.9 .466 -0.8 .466 1.8 .466 -3.7 .466 -0.6 .466 1.2 .466 0.8 .466 -3.8 .466 4.2 .466 -3.0 .466 17.9 .466 -19.0 .466 4.6 .466 1.5 .466 -1.6 .466 -1.4 .466 3.3 .466 -11.4 .466 6.1 .466 9.8 .466 -8.7 .466 -1.2 .466 -1.1 .466 0.5 .466 -8.7 .466 12.0 .466 -10.5 .466 11.0 .466 -10.0 .466 4.1 .466 3.4 .466 -5.2 .466 -1.7 .466 16.4 .466 -2.4 .466 -5.5 .466 0.5 .466 -5.5 .466 -4.0 .466 5.7 .466 2.1 .466 2.3 .466 -2.6 .466 -0.7 .466 -4.9 .466 2.5 .466 2.9 .466 -1.4 .466 1.4 .466 1.3 .466 -2.7 .466 9.5 .466 -7.3 .466 8.2 .466 -8.6 .466 0.7 .466 10.3 .466 -11.8 .466 2.6 .466 0.8 .466 -4.8 .466 1.4 .466 -0.0 .466 -3.3 .466 2.6 .466 -0.0 .466 4.4 .466 6.2 .466 -22.0 .466 14.1 .466 0.1 .466 -3.0 .466 5.0 .466 -3.8 .466 -5.1 .466 -1.1 .466 8.2 .466 7.2 .466 -8.2 .466 7.5 .466 -10.4 .466 -0.1 .466 6.5 .466 -5.1 .466 2.6 .466 -0.7 .466 -1.3 .466 2.4 .466 -0.4 .466 9.3 .466 -6.0 .466 -2.9 .466 -2.9 .466 2.0 .466 -2.8 .466 8.3 .466 -5.1 .466 -4.5 .466 6.2 .466 -0.6 .466 5.6 .466 4.1 .466 -12.0 .466 -3.9 .466 -0.0 .466 -5.8 .466 6.1 .466 5.6 .466 -20.4 .466 18.1 .466 1.6 .466 -4.3 .466 3.9 .466 0.3 .466 -0.9 .466 -9.9 .466 10.4 .466 -5.7 .466 -2.9 .466 11.8 .466 -0.4 .466 2.0 .466 -10.5 .466 3.5 .466 -1.5 .466 1.6 .466 -2.8 .466 4.4 .466 2.7 .466 4.8 .466 -4.9 .466 -3.0 .466 -0.9 .466 -0.2 .466 2.1 .466 0.5 .466 -2.4 .466 1.8 .466 -4.6 .466 -2.9 .466 9.5 .466 -5.8 .466 7.1 .466 2.6 .466 -9.4 .466 0.9 .466 2.3 .466 -2.1 .466 -4.9 .466 6.8 .466 -4.3 .466 4.4 .466 -3.4 .466 4.1 .466 1.9 .466 -7.0 .466 10.1 .466 -4.6 .466 -0.3 .466 -0.0 .466 -3.0 .466 -4.3 .466 7.5 .466 -2.2 .466 5.3 .466 -6.9 .466 4.5 .466 -0.2 .466 -0.0 .466 -1.1 .466 -2.6 .466 9.2 .466 -9.0 .466 -0.0 .466 5.5 .466 2.0 .466 -6.2 .466 -8.8 .466 9.6 .466 3.8 .466 2.6 .466 -8.8 .466 5.0 .466 -0.8 .466 1.7 .466 -0.6 .466 -2.2 .466 -1.4 .466 -0.4 .466 2.0 .466 -3.5 .466 2.7 .466 -5.8 .466 3.6 .466 -7.7 .466 3.3 .466 0.4 .466 -0.7 .466 3.1 .466 -0.5 .466 7.9 .466 -3.9 .466 -7.5 .466 4.0 .466 6.3 .466 -2.2 .466 -2.4 .466 -9.3 .466 9.9 .466 -0.4 .466 -0.4 .466 9.8 .466 -4.9 .466 -0.7 .466 -1.9 .466 3.0 .466 0.9 .466 -3.9 .466 -1.2 .466 -1.2 .466 2.1 .466 -3.0 .466 -0.2 .466 5.9 .466 -7.2 .466 2.6 .466 6.7 .466 -3.4 .466 -1.0 .466 -6.7 .466 0.2 .466 -0.5 .466 2.9 .466 0.2 .466 -1.8 .466 -0.5 .466 11.9 .466 1.7 .466 -6.8 .466 0.6 .466 -3.4 .466 1.1 .466 -0.5 .466 2.2 .466 -3.6 .466 0.5 .466 -2.4 .466 5.2 .466 6.0 .466 -5.9 .466 -5.0 .466 1.5 .466 3.2 .466 -0.5 .466 -1.2 .466 -16.0 .466 12.5 .466 2.1 .466 2.9 .466 1.3 .466 0.9 .466 0.0 .466 -5.3 .466 5.9 .466 -6.3 .466 1.0 .466 -0.3 .466 0.4 .466 1.0 .466 2.3 .466 -4.9 .466 0.7 .466 3.4 .466 -1.2 .466 10.5 .466 -17.7 .466 2.3 .466 5.2 .466 -3.8 .466 5.8 .466 -2.1 .466 0.3 .466 0.7 .466 0.6 .466 -1.5 .466 -1.8 .466 3.2 .466 -5.6 .466 3.0 .466 2.0 .466 -1.6 .466 2.6 .466 0.5 .466 -0.1 .466 -1.4 .466 -2.1 .466 1.0 .466 1.8 .466 3.7 .466 -1.4 .466 -2.5 .466 0.6 .466 -10.1 .466 7.6 .466 7.7 .466 -5.4 .466 -0.1 .466 2.6 .466 -5.5 .466 -6.9 .466 9.4 .466 -1.7 .466 -0.2 .466 -4.4 .466 2.5 .466 4.8 .466 4.7 .466 -14.2 .466 7.9 .466 -2.5 .466 2.7 .466 -3.4 .466 8.1 .466 -6.5 .466 2.0 .466 -1.6 .466 2.0 .466 -0.1 .466 -2.8 .466 -9.8 .466 -4.2 .466 13.5 .466 4.1 .466 -2.0 .466 -0.4 .466 -7.3 .466 6.0 .466 1.6 .466 1.4 .466 0.4 .466 -2.9 .466 2.6 .466 -10.2 .466 8.2 .466 1.5 .466 2.4 .466 3.3 .466 -5.2 .466 -0.1 .466 -2.0 .466 0.1 .466 -1.1 .466 7.0 .466 -6.7 .466 -1.2 .466 5.3 .466 -3.1 .466 -0.5 .466 6.1 .466 -11.8 .466 1.0 .466 5.5 .466 -8.3 .466 12.5 .466 3.1 .466 -9.5 .466 5.9 .466 -4.4 .466 0.6 .466 -0.9 .466 5.4 .466 -6.3 .466 7.1 .466 -7.0 .466 -0.9 .466 16.5 .466 -19.7 .466 1.3 .466 4.7 .466 5.9 .466 -2.8 .466 -2.2 .466 -12.3 .466 4.2 .466 9.1 .466 -0.0 .466 7.2 .466 -11.0 .466 1.3 .466 -2.2 .466 -3.4 .466 6.7 .466 -0.0 .466 -7.9 .466 6.8 .466 3.2 .466 -1.4 .466 -3.9 .466 -10.7 .466 9.8 .466 -1.6 .466 3.0 .466 0.7 .466 -0.1 .466 -3.6 .466 2.5 .466 -1.3 .466 6.2 .466 -1.0 .466 3.7 .466 -7.3 .466 3.6 .466 -6.0 .466 1.9 .466 0.2 .466 -0.9 .466 -1.2 .466 8.3 .466 -6.0 .466 2.0 .466 -4.4 .466 4.1 .466 -0.1 .466 3.6 .466 -7.2 .466 8.9 .466 -3.4 .466 -7.5 .466 2.9 .466 -0.3 .466 18.4 .466 -16.3 .466 -5.4 .466 3.7 .466 2.3 .466 -9.3 .466 8.7 .466 -0.8 .466 0.7 .466 -6.2 .466 10.9 .466 -8.3 .466 1.9 .466 -3.8 .466 -6.3 .466 1.2 .466 7.1 .466 4.4 .466 -4.1 .466 -9.1 .466 -3.6 .466 21.1 .466 -12.0 .466 4.9 .466 -3.1 .466 -1.0 .466 0.9 .466 -5.4 .466 -1.6 .466 -6.9 .466 17.5 .466 -18.2 .466 9.1 .466 -12.5 .466 5.7 .466 2.3 .466 -6.3 .466 -2.0 .466 -2.8 .466 -8.8 .466 13.2 .466 -10.7 .466 3.5 .466 -6.6 .466 -11.3 .466 2.6 .466 -6.3 .466 -7.7 .466 0.3 .466 7.9 .466 -28.3 .466 9.4 .466 -6.6 .466 -3.1 .466 -1.7 .466 -9.9 .466 -10.1 .466 2.4 .466 1.8 .466 0.8 .466 -3.5 .466 3.3 .466 -7.6 .466 -3.8 .466 8.7 .466 3.1 .466 -0.9 .466 -7.6 .466 12.5 .466 6.1 .466 -0.3 .466 10.3 .466 -4.6 .466 9.3 .466 1.2 .466 -1.6 .466 7.9 .466 1.2 .466 9.7 .466 8.0 .466 1.6 .466 1.9 .466 -7.3 .466 13.3 .466 4.9 .466 -1.9 .466 3.9 .466 2.2 .466 2.5 .466 -3.9 .466 8.0 .466 -0.6 .466 4.0 .466 -5.5 .466 6.2 .466 -2.4 .466 8.6 .466 5.4 .466 -4.1 .466 -1.9 .466 1.0 .466 1.8 .466 -3.0 .466 -6.9 .466 14.7 .466 -3.7 .466 2.3 .466 -1.8 .466 -1.4 .466 -6.3 .466 9.6 .466 -0.3 .466 -12.9 .466 9.1 .466 10.9 .466 -4.7 .466 -4.2 .466 1.8 .466 2.3 .466 2.5 .466 -7.9 .466 5.8 .466 -0.6 .466 1.3 .466 -6.7 .466 4.3 .466 2.1 .466 -2.8 .466 2.3 .466 -0.8 .466 0.9 .466 3.3 .466 -1.3 .466 -7.1 .466 6.4 .466 -8.8 .466 6.3 .466 3.3 .466 0.6 .466 9.2 .466 -13.5 .466 2.2 .466 1.0 .466 1.6 .466 1.7 .466 -5.7 .466 -2.0 .466 1.2 .466 4.6 .466 -8.5 .466 4.1 .466 5.7 .466 4.3 .466 -8.0 .466 2.8 .466 -3.2 .466 -1.1 .466 2.4 .466 -4.9 .466 4.3 .466 1.5 .466 6.3 .466 -2.9 .466 -7.2 .466 2.2 .466 -6.3 .466 -0.1 .466 19.4 .466 -15.6 .466 2.1 .466 3.0 .466 -4.4 .466 2.0 .466 -4.0 .466 7.4 .466 -4.0 .466 -2.2 .466 1.9 .466 2.1 .466 -0.9 .466 -1.2 .466 -0.0 .466 0.5 .466 1.0 .466 -0.8 .466 2.3 .466 -2.5 .466 -3.9 .466 -1.1 .466 5.2 .466 10.2 .466 -9.6 .466 -0.3 .466 -7.3 .466 8.0 .466 -9.0 .466 6.7 .466 -0.4 .466 1.6 .466 -2.3 .466 0.5 .466 -10.4 .466 13.4 .466 -1.9 .466 5.4 .466 -0.9 .466 -2.7 .466 5.1 .466 -6.2 .466 -5.1 .466 10.2 .466 3.8 .466 -15.3 .466 7.0 .466 -8.4 .466 10.3 .466 2.1 .466 -8.4 .466 7.1 .466 -1.7 .466 -3.6 .466 1.3 .466 -0.5 .466 -0.1 .466 3.0 .466 -6.9 .466 11.8 .466 -6.0 .466 0.2 .466 2.7 .466 -7.9 .466 3.2 .466 4.1 .466 -0.2 .466 -1.3 .466 1.9 .466 -0.9 .466 0.7 .466 1.9 .466 -1.7 .466 2.0 .466 -4.2 .466 3.6 .466 -1.2 .466 -14.1 .466 12.3 .466 4.9 .466 -5.4 .466 -0.6 .466 -0.0 .466 4.1 .466 -4.2 .466 -1.6 .466 4.1 .466 9.4 .466 -10.0 .466 -9.3 .466 3.6 .466 3.4 .466 3.4 .466 3.2 .466 -2.8 .466 -7.1 .466 6.2 .466 1.1 .466 -2.8 .466 -2.3 .466 2.7 .466 -0.5 .466 -0.7 .466 -9.4 .466 8.5 .466 4.0 .466 -3.4 .466 2.5 .466 -1.7 .466 -2.0 .466 4.6 .466 3.7 .466 -4.0 .466 0.3 .466 -2.8 .466 4.9 .466 5.8 .466 -9.3 .466 1.2 .466 -6.7 .466 -1.7 .466 7.7 .466 -2.3 .466 -0.7 .466 2.4 .466 -8.7 .466 8.3 .466 1.1 .466 0.4 .466 -11.9 .466 3.6 .466 8.9 .466 1.5 .466 0.2 .466 -4.6 .466 -1.8 .466 4.2 .466 -4.4 .466 7.3 .466 -6.9 .466 -11.4 .466 0.8 .466 14.1 .466 -7.0 .466 -2.3 .466 -4.1 .466 4.7 .466 7.8 .466 -21.5 .466 16.5 .466 -3.9 .466 3.4 .466 1.4 .466 1.9 .466 -8.0 .466 5.4 .466 -5.1 .466 1.8 .466 0.7 .466 12.6 .466 -3.9 .466 -2.3 .466 -4.6 .466 -1.0 .466 6.9 .466 -1.7 .466 3.3 .466 -1.7 .466 -2.4 .466 1.5 .466 2.8 .466 -3.1 .466 -8.2 .466 8.1 .466 2.6 .466 -1.5 .466 2.7 .466 -1.2 .466 -1.2 .466 1.2 .466 -4.2 .466 -0.9 .466 -1.1 .466 3.9 .466 -0.1 .466 -1.4 .466 4.8 .466 -5.3 .466 -4.4 .466 6.6 .466 -0.6 .466 -8.0 .466 8.7 .466 0.0 .466 5.0 .466 -3.6 .466 -3.3 .466 9.8 .466 -4.0 .466 1.3 .466 -5.7 .466 -1.5 .466 6.3 .466 -1.0 .466 -1.8 .466 -6.4 .466 4.7 .466 -3.9 .466 11.4 .466 -9.0 .466 6.2 .466 -2.0 .466 -1.8 .466 1.5 .466 -3.5 .466 -5.3 .466 10.2 .466 -3.8 .466 -7.3 .466 7.4 .466 2.1 .466 0.9 .466 0.3 .466 -5.7 .466 -7.0 .466 15.2 .466 -5.4 .466 -2.2 .466 -1.9 .466 7.8 .466 -8.9 .466 8.6 .466 -1.7 .466 -4.3 .466 7.4 .466 0.8 .466 -10.6 .466 5.1 .466 0.1 .466 -0.6 .466 8.5 .466 -8.3 .466 1.8 .466 3.9 .466 -0.8 .466 -3.8 .466 6.3 .466 -7.3 .466 2.4 .466 -8.2 .466 5.4 .466 -0.6 .466 1.8 .466 -6.9 .466 2.1 .466 4.6 .466 8.0 .466 -2.4 .466 -5.6 .466 -2.9 .466 4.4 .466 -3.4 .466 -0.9 .466 2.5 .466 -6.0 .466 1.7 .466 6.9 .466 -4.2 .466 -3.0 .466 4.6 .466 -2.7 .466 15.7 .466 -13.0 .466 1.4 .466 3.4 .466 -4.8 .466 1.7 .466 -2.0 .466 3.8 .466 -3.4 .466 -0.4 .466 5.9 .466 -5.8 .466 -1.0 .466 5.6 .466 -3.6 .466 0.5 .466 -1.3 .466 -0.1 .466 3.9 .466 -8.9 .466 12.1 .466 -6.1 .466 1.3 .466 16.4 .466 -16.2 .466 -10.8 .466 11.6 .466 -0.4 .466 4.0 .466 -8.6 .466 5.1 .466 -0.7 .466 -1.6 .466 1.7 .466 -4.6 .466 1.8 .466 0.8 .466 5.7 .466 -4.4 .466 -8.4 .466 10.0 .466 -1.3 .466 1.1 .466 -0.4 .466 -1.3 .466 -1.0 .466 -4.4 .466 4.2 .466 3.5 .466 4.1 .466 -10.8 .466 4.4 .466 -2.8 .466 2.0 .466 -1.8 .466 -1.5 .466 3.3 .466 -1.6 .466 0.4 .466 4.9 .466 -3.3 .466 -3.1 .466 0.2 .466 2.1 .466 -5.9 .466 8.9 .466 -1.2 .466 -7.8 .466 0.4 .466 -1.0 .466 6.3 .466 -2.1 .466 2.1 .466 0.2 .466 3.3 .466 -3.2 .466 -7.9 .466 6.1 .466 4.6 .466 -0.5 .466 0.4 .466 -1.1 .466 -4.5 .466 0.7 .466 0.9 .466 -1.1 .466 2.7 .466 -2.2 .466 3.8 .466 -9.5 .466 8.8 .466 -3.6 .466 5.5 .466 1.5 .466 -4.4 .466 -8.5 .466 1.8 .466 8.4 .466 -4.1 .466 2.3 .466 2.9 .466 -0.1 .466 10.3 .466 -12.4 .466 -1.9 .466 1.2 .466 -0.4 .466 -0.6 .466 19.2 .466 -14.0 .466 -5.2 .466 8.1 .466 3.3 .466 -10.8 .466 0.8 .466 -0.7 .466 0.4 .466 2.2 .466 -0.6 .466 -7.9 .466 -9.0 .466 15.7 .466 -2.4 .466 4.2 .466 -11.2 .466 6.7 .466 2.5 .466 1.6 .466 -2.9 .466 0.9 .466 -1.1 .466 -0.6 .466 0.7 .466 2.4 .466 -0.8 .466 -5.8 .466 5.7 .466 3.3 .466 -4.7 .466 3.9 .466 -1.2 .466 -2.1 .466 -5.4 .466 5.8 .466 -1.9 .466 11.5 .466 -6.3 .466 -3.3 .466 1.2 .466 1.1 .466 3.5 .466 -4.9 .466 -1.8 .466 -2.8 .466 6.3 .466 -7.9 .466 -2.7 .466 10.1 .466 -0.6 .466 -2.7 .466 4.2 .466 1.4 .466 -5.5 .466 -7.8 .466 4.5 .466 3.4 .466 -1.7 .466 -2.5 .466 3.8 .466 0.4 .466 1.7 .466 1.6 .466 -2.5 .466 11.7 .466 -14.7 .466 2.4 .466 -1.3 .466 0.4 .466 -4.3 .466 5.4 .466 0.6 .466 -4.3 .466 -1.3 .466 -0.7 .466 4.9 .466 5.4 .466 -13.9 .466 0.4 .466 11.1 .466 -4.4 .466 1.4 .466 1.9 .466 -4.0 .466 11.4 .466 -10.6 .466 0.6 .466 9.9 .466 -9.7 .466 -3.2 .466 0.6 .466 5.4 .466 -4.6 .466 -0.5 .466 -10.9 .466 1.3 .466 6.0 .466 2.1 .466 12.4 .466 -11.1 .466 -8.4 .466 7.6 .466 -2.2 .466 5.8 .466 6.8 .466 -12.2 .466 1.4 .466 -4.0 .466 -2.7 .466 3.6 .466 -8.4 .466 5.7 .466 2.3 .466 -7.5 .466 4.4 .466 -5.8 .466 3.5 .466 -5.8 .466 1.3 .466 -1.7 .466 -7.3 .466 6.7 .466 -8.9 .466 6.4 .466 -2.4 .466 3.0 .466 -5.8 .466 -8.3 .466 4.9 .466 2.2 .466 -9.4 .466 1.8 .466 -2.9 .466 8.4 .466 -6.2 .466 -2.8 .466 5.9 .466 -3.8 .466 3.2 .466 2.5 .466 -1.3 .466 3.1 .466 -5.7 .466 5.9 .466 -0.5 .466 -0.6 .466 3.2 .466 1.1 .466 -4.3 .466 3.3 .466 4.0 .466 -2.2 .466 4.0 .466 0.6 .466 2.6 .466 -2.8 .466 5.8 .466 2.3 .466 -1.1 .466 -0.2 .466 -0.7 .466 8.1 .466 4.1 .466 -3.7 .466 -3.3 .466 5.5 .466 -3.2 .466 -1.4 .466 3.0 .466 -11.2 .466 7.2 .466 6.4 .466 6.6 .466 2.2 .466 -6.6 .466 -2.9 .466 -16.7 .466 22.4 .466 -10.7 .466 10.4 .466 -0.1 .466 -6.8 .466 7.2 .466 -1.8 .466 -1.5 .466 4.6 .466 -4.9 .466 3.3 .466 -5.0 .466 9.8 .466 -3.7 .466 -2.1 .466 -4.2 .466 19.5 .466 -14.8 .466 5.9 .466 4.7 .466 -9.7 .466 -0.9 .466 -1.4 .466 1.7 .466 -0.4 .466 -3.5 .466 1.3 .466 6.3 .466 1.4 .466 -4.8 .466 13.1 .466 -12.1 .466 -2.3 .466 3.5 .466 -0.4 .466 0.9 .466 8.6 .466 -12.4 .466 -1.7 .466 3.8 .466 -1.8 .466 1.9 .466 2.5 .466 -4.9 .466 2.5 .466 3.2 .466 -0.9 .466 -8.1 .466 4.0 .466 0.6 .466 1.4 .466 -1.0 .466 -0.8 .466 0.5 .466 1.6 .466 -7.2 .466 6.0 .466 5.7 .466 -4.7 .466 1.3 .466 0.6 .466 2.5 .466 -10.8 .466 -0.3 .466 2.6 .466 2.0 .466 -5.2 .466 7.6 .466 1.4 .466 0.1 .466 -2.7 .466 -0.2 .466 -1.3 .466 9.3 .466 -4.6 .466 0.2 .466 -3.0 .466 -5.9 .466 1.0 .466 -0.6 .466 12.4 .466 -12.0 .466 5.2 .466 1.4 .466 1.5 .466 -3.0 .466 1.0 .466 -1.8 .466 4.0 .466 -8.3 .466 1.7 .466 1.9 .466 2.1 .466 -2.1 .466 -4.2 .466 9.5 .466 -9.0 .466 2.8 .466 7.9 .466 -3.7 .466 -1.2 .466 0.8 .466 -3.3 .466 3.1 .466 -2.7 .466 0.2 .466 1.7 .466 -1.1 .466 5.5 .466 -7.2 .466 -0.6 .466 4.2 .466 -9.8 .466 4.7 .466 5.2 .466 -10.6 .466 3.5 .466 6.3 .466 -2.5 .466 -7.2 .466 3.9 .466 5.6 .466 -3.1 .466 1.9 .466 3.8 .466 8.0 .466 -11.6 .466 -3.1 .466 2.0 .466 4.4 .466 -2.6 .466 -4.1 .466 5.7 .466 -1.3 .466 -6.1 .466 0.3 .466 -1.3 .466 -3.0 .466 8.2 .466 -1.8 .466 -9.9 .466 0.8 .466 5.5 .466 -11.9 .466 5.3 .466 1.4 .466 -0.0 .466 2.4 .466 -7.2 .466 -0.7 .466 -3.4 .466 1.4 .466 2.8 .466 -3.6 .466 1.0 .466 -0.3 .466 -1.4 .466 -2.2 .466 0.1 .466 4.0 .466 -6.2 .466 -2.5 .466 0.1 .466 0.9 .466 -2.1 .466 16.0 .466 -16.1 .466 7.9 .466 -1.9 .466 18.3 .466 -19.8 .466 7.9 .466 -9.0 .466 3.4 .466 3.0 .466 5.5 .466 -2.4 .466 2.8 .466 -1.8 .466 -6.1 .466 3.4 .466 3.9 .466 -1.6 .466 12.8 .466 -6.6 .466 4.9 .466 8.0 .466 -3.9 .466 -11.0 .466 -2.8 .466 10.9 .466 -2.2 .466 1.6 .466 5.0 .466 -2.7 .466 2.3 .466 -0.4 .466 -1.8 .466 -0.5 .466 2.7 .466 4.5 .466 -1.3 .466 0.1 .466 -5.2 .466 -0.7 .466 4.7 .466 -1.3 .466 9.3 .466 -12.1 .466 12.3 .466 -2.1 .466 -17.8 .466 8.4 .466 5.3 .466 -1.5 .466 -3.4 .466 6.6 .466 -0.9 .466 -2.2 .466 -0.7 .466 5.5 .466 -6.0 .466 2.4 .466 -0.2 .466 -3.9 .466 5.2 .466 -3.2 .466 1.0 .466 -1.3 .466 -0.5 .466 4.4 .466 -7.4 .466 6.4 .466 0.7 .466 1.1 .466 -3.9 .466 -4.8 .466 7.3 .466 -7.4 .466 12.2 .466 -21.6 .466 19.4 .466 -3.1 .466 -0.2 .466 -0.5 .466 -7.6 .466 9.5 .466 -0.7 .466 0.3 .466 -0.3 .466 3.7 .466 -4.1 .466 5.0 .466 -13.9 .466 8.8 .466 1.3 .466 -17.9 .466 17.9 .466 -3.8 .466 12.5 .466 -6.3 .466 -1.8 .466 0.7 .466 1.8 .466 -2.0 .466 6.4 .466 -13.9 .466 7.2 .466 -7.3 .466 6.0 .466 1.6 .466 0.4 .466 -7.0 .466 7.0 .466 -0.1 .466 -12.9 .466 7.9 .466 4.1 .466 3.3 .466 -4.0 .466 2.7 .466 -6.5 .466 8.6 .466 -2.2 .466 -4.2 .466 -1.7 .466 5.3 .466 2.7 .466 -3.0 .466 -11.3 .466 9.4 .466 1.4 .466 -13.4 .466 5.3 .466 8.1 .466 -3.3 .466 6.5 .466 -3.3 .466 4.3 .466 -4.2 .466 -0.4 .466 2.8 .466 -0.9 .466 -0.5 .466 -3.2 .466 -0.4 .466 9.1 .466 -6.0 .466 7.1 .466 -9.3 .466 3.8 .466 0.7 .466 1.3 .466 -5.1 .466 4.3 .466 -7.1 .466 13.2 .466 -11.7 .466 4.0 .466 7.0 .466 -7.8 .466 1.2 .466 -0.3 .466 1.0 .466 0.1 .466 -2.3 .466 -7.6 .466 9.6 .466 3.5 .466 -2.8 .466 6.8 .466 -11.8 .466 1.9 .466 5.8 .466 -16.7 .466 11.4 .466 -7.1 .466 6.6 .466 4.5 .466 -4.1 .466 -2.8 .466 3.4 .466 2.9 .466 -0.4 .466 -0.1 .466 3.9 .466 -5.3 .466 0.8 .466 1.6 .466 -7.6 .466 6.5 .466 3.8 .466 -4.7 .466 3.0 .466 1.1 .466 0.2 .466 -4.1 .466 -4.9 .466 6.4 .466 -8.5 .466 7.8 .466 -0.1 .466 10.0 .466 -9.3 .466 -3.7 .466 -4.1 .466 10.0 .466 -3.7 .466 6.8 .466 -3.0 .466 -3.7 .466 5.0 .466 -7.8 .466 5.5 .466 4.9 .466 -17.8 .466 10.5 .466 3.0 .466 -2.5 .466 2.4 .466 -4.3 .466 2.2 .466 -4.2 .466 9.5 .466 -4.8 .466 -1.3 .466 1.7 .466 4.4 .466 -9.5 .466 2.6 .466 1.7 .466 -1.2 .466 0.3 .466 3.0 .466 -8.1 .466 3.0 .466 -1.7 .466 0.9 .466 3.0 .466 1.6 .466 -2.9 .466 0.9 .466 0.1 .466 2.0 .466 -15.1 .466 14.2 .466 5.2 .466 -4.6 .466 0.4 .466 -1.2 .466 -3.3 .466 7.2 .466 -8.7 .466 6.8 .466 -3.9 .466 3.5 .466 -4.8 .466 7.7 .466 -3.2 .466 -7.8 .466 3.8 .466 -0.3 .466 -1.6 .466 3.4 .466 -2.8 .466 7.8 .466 -6.8 .466 2.8 .466 -2.5 .466 2.9 .466 0.1 .466 -9.9 .466 3.0 .466 16.3 .466 -8.3 .466 3.4 .466 -4.4 .466 1.7 .466 -8.6 .466 5.1 .466 1.5 .466 -0.1 .466 -1.3 .466 -6.6 .466 7.6 .466 6.3 .466 -4.9 .466 1.0 .466 8.9 .466 -4.1 .466 -4.6 .466 2.4 .466 -7.1 .466 7.2 .466 -5.3 .466 -5.0 .466 3.1 .466 5.6 .466 1.0 .466 -0.7 .466 0.1 .466 5.3 .466 -9.4 .466 -7.6 .466 1.2 .466 8.1 .466 -1.9 .466 -2.3 .466 0.5 .466 0.3 .466 1.3 .466 7.8 .466 -5.4 .466 -4.8 .466 2.3 .466 1.9 .466 2.0 .466 -5.0 .466 3.6 .466 -1.4 .466 7.3 .466 -11.3 .466 4.2 .466 0.2 .466 2.7 .466 -1.9 .466 4.4 .466 -5.0 .466 -2.7 .466 2.9 .466 -2.5 .466 11.1 .466 -11.6 .466 -0.5 .466 2.8 .466 -1.8 .466 -0.0 .466 -0.5 .466 -2.8 .466 7.5 .466 -2.4 .466 2.1 .466 -0.8 .466 1.9 .466 -10.0 .466 11.4 .466 -7.0 .466 1.5 .466 3.4 .466 -1.2 .466 -0.2 .466 1.8 .466 -1.9 .466 8.1 .466 -5.1 .466 -0.6 .466 1.2 .466 -0.1 .466 -0.2 .466 -2.0 .466 -1.7 .466 -3.9 .466 5.3 .466 -3.8 .466 2.1 .466 -2.6 .466 0.8 .466 0.4 .466 2.2 .466 1.3 .466 -2.3 .466 -6.2 .466 7.6 .466 -1.7 .466 1.4 .466 -3.6 .466 2.9 .466 -2.9 .466 2.5 .466 -4.9 .466 3.9 .466 0.0 .466 3.9 .466 -5.8 .466 2.9 .466 3.5 .466 -5.3 .466 0.7 .466 13.0 .466 -18.8 .466 5.3 .466 2.0 .466 -6.7 .466 7.7 .466 -4.3 .466 6.9 .466 4.7 .466 -12.7 .466 -3.4 .466 8.2 .466 -8.0 .466 4.2 .466 -3.2 .466 3.7 .466 5.4 .466 -2.0 .466 -7.0 .466 2.9 .466 5.8 .466 -1.8 .466 -0.5 .466 1.3 .466 0.4 .466 -9.0 .466 6.3 .466 -2.9 .466 7.0 .466 -2.4 .466 -0.5 .466 2.5 .466 -1.7 .466 -2.1 .466 -4.9 .466 5.7 .466 3.7 .466 -12.4 .466 14.8 .466 -6.1 .466 -0.6 .466 1.0 .466 11.0 .466 -8.4 .466 2.0 .466 -2.9 .466 -10.9 .466 17.8 .466 -7.9 .466 -3.1 .466 -2.7 .466 5.5 .466 -2.2 .466 3.8 .466 2.4 .466 -4.1 .466 5.1 .466 -13.6 .466 7.5 .466 -2.1 .466 -0.9 .466 13.1 .466 -15.0 .466 5.7 .466 2.9 .466 -3.7 .466 -1.9 .466 4.5 .466 -1.3 .466 -0.6 .466 -2.1 .466 6.5 .466 -4.9 .466 0.1 .466 5.8 .466 -6.0 .466 -1.4 .466 5.9 .466 -3.9 .466 2.9 .466 -3.2 .466 2.0 .466 -1.2 .466 -3.1 .466 -4.5 .466 4.3 .466 3.1 .466 -1.4 .466 1.3 .466 0.2 .466 8.5 .466 -9.6 .466 1.1 .466 -2.6 .466 2.8 .466 -6.4 .466 4.2 .466 0.3 .466 4.9 .466 -17.7 .466 10.7 .466 1.2 .466 -2.9 .466 3.4 .466 3.6 .466 -2.7 .466 3.9 .466 -5.1 .466 -12.8 .466 15.8 .466 -5.6 .466 6.3 .466 -2.1 .466 -1.6 .466 2.2 .466 0.4 .466 2.7 .466 -4.0 .466 0.5 .466 -1.3 .466 -1.7 .466 10.9 .466 -9.5 .466 0.6 .466 -3.4 .466 2.1 .466 1.1 .466 4.5 .466 0.0 .466 -0.6 .466 -2.8 .466 3.2 .466 -11.4 .466 8.4" fill="none" stroke="#000000" stroke-width="11" stroke-linejoin="round" stroke-linecap="round" shape-rendering="crispEdges"/>
<rect x="210" y="31.5" width="1864.5" height="1502" fill="none" stroke="#000" stroke-width="10.5"/>
<rect x="204.5" y="1535" width="10" height="27" fill="#000"/>
<rect x="321.0" y="1535" width="10" height="13" fill="#000"/>
<rect x="437.5" y="1535" width="10" height="27" fill="#000"/>
<rect x="553.9" y="1535" width="10" height="13" fill="#000"/>
<rect x="670.4" y="1535" width="10" height="27" fill="#000"/>
<rect x="786.9" y="1535" width="10" height="13" fill="#000"/>
<rect x="903.4" y="1535" width="10" height="27" fill="#000"/>
<rect x="1019.9" y="1535" width="10" height="13" fill="#000"/>
<rect x="1136.3" y="1535" width="10" height="27" fill="#000"/>
<rect x="1252.8" y="1535" width="10" height="13" fill="#000"/>
<rect x="1369.3" y="1535" width="10" height="27" fill="#000"/>
<rect x="1485.8" y="1535" width="10" height="13" fill="#000"/>
<rect x="1602.3" y="1535" width="10" height="27" fill="#000"/>
<rect x="1718.7" y="1535" width="10" height="13" fill="#000"/>
<rect x="1835.2" y="1535" width="10" height="27" fill="#000"/>
<rect x="1951.7" y="1535" width="10" height="13" fill="#000"/>
<rect x="2068.2" y="1535" width="10" height="27" fill="#000"/>
<text x="209.5" y="1650" text-anchor="middle" font-size="87">10</text>
<text x="442.5" y="1650" text-anchor="middle" font-size="87">20</text>
<text x="675.4" y="1650" text-anchor="middle" font-size="87">30</text>
<text x="908.4" y="1650" text-anchor="middle" font-size="87">40</text>
<text x="1141.3" y="1650" text-anchor="middle" font-size="87">50</text>
<text x="1374.3" y="1650" text-anchor="middle" font-size="87">60</text>
<text x="1607.3" y="1650" text-anchor="middle" font-size="87">70</text>
<text x="1840.2" y="1650" text-anchor="middle" font-size="87">80</text>
<text x="2073.2" y="1650" text-anchor="middle" font-size="87">90</text>
<text x="823.3" y="1797.6" font-size="128">2θ(degree)</text>
<text transform="translate(119,1166) rotate(-90)" font-size="128">Intensity(a.u.)</text>
<path transform="translate(1315.7,47.5) scale(52.70,54.50)" d="M0.5,0.2 C0.47,0.07 0.38,0 0.25,0 C0.1,0 0,0.1 0,0.26 C0,0.40 0.119,0.545 0.2,0.65 L0.47,1 L0.53,1 L0.8,0.65 C0.881,0.545 1,0.40 1,0.26 C1,0.1 0.9,0 0.75,0 C0.62,0 0.53,0.07 0.5,0.2 Z" fill="#9900FF"/>
<text x="1399" y="91.9" font-size="64">SiO<tspan font-size="43" dy="17">2</tspan></text>
<polygon points="1345.0,132.5 1368.5,160.5 1345.0,188.5 1321.5,160.5" fill="#FF00FF"/>
<text x="1404" y="184" font-size="64" xml:space="preserve">NiO  PDF # 96-101-0094</text>
<text x="1005.5" y="159.5" font-size="64.5" text-anchor="middle">(002)</text>
<text x="852.0" y="254.5" font-size="64.5" text-anchor="middle">(111)</text>
<text x="1455.2" y="330.0" font-size="64.5" text-anchor="middle">(022)</text>
<text x="1708.8" y="421.5" font-size="64.5" text-anchor="middle">(113)</text>
<text x="1862.6" y="421.0" font-size="64.5" text-anchor="middle">(222)</text>
<polygon points="847.0,286.5 877.0,323.0 847.0,359.5 817.0,323.0" fill="#FF00FF"/>
<polygon points="988.0,175.5 1018.0,212.0 988.0,248.5 958.0,212.0" fill="#FF00FF"/>
<polygon points="1442.0,358.5 1472.0,395.0 1442.0,431.5 1412.0,395.0" fill="#FF00FF"/>
<polygon points="1740.0,448.5 1770.0,485.0 1740.0,521.5 1710.0,485.0" fill="#FF00FF"/>
<polygon points="1834.0,446.5 1864.0,483.0 1834.0,519.5 1804.0,483.0" fill="#FF00FF"/>
<path transform="translate(449.6,410.3) scale(66.00,70.60)" d="M0.5,0.2 C0.47,0.07 0.38,0 0.25,0 C0.1,0 0,0.1 0,0.26 C0,0.40 0.119,0.545 0.2,0.65 L0.47,1 L0.53,1 L0.8,0.65 C0.881,0.545 1,0.40 1,0.26 C1,0.1 0.9,0 0.75,0 C0.62,0 0.53,0.07 0.5,0.2 Z" fill="#9900FF"/>
<text x="1007.2" y="525.5" font-size="58" letter-spacing="-0.52">20% Ni/SiO<tspan font-size="38" dy="14">2</tspan><tspan dy="-14">-100</tspan></text>
<text x="1010.0" y="785.8" font-size="58" letter-spacing="-0.52">20% Ni/SiO<tspan font-size="38" dy="14">2</tspan><tspan dy="-14">-200</tspan></text>
<text x="1008.9" y="1049.6" font-size="58" letter-spacing="-0.52">20% Ni/SiO<tspan font-size="38" dy="14">2</tspan><tspan dy="-14">-300</tspan></text>
<text x="1005.0" y="1330.0" font-size="58" letter-spacing="-0.52">20% Ni/SiO<tspan font-size="38" dy="14">2</tspan><tspan dy="-14">-400</tspan></text>
</svg>
</body></html>
